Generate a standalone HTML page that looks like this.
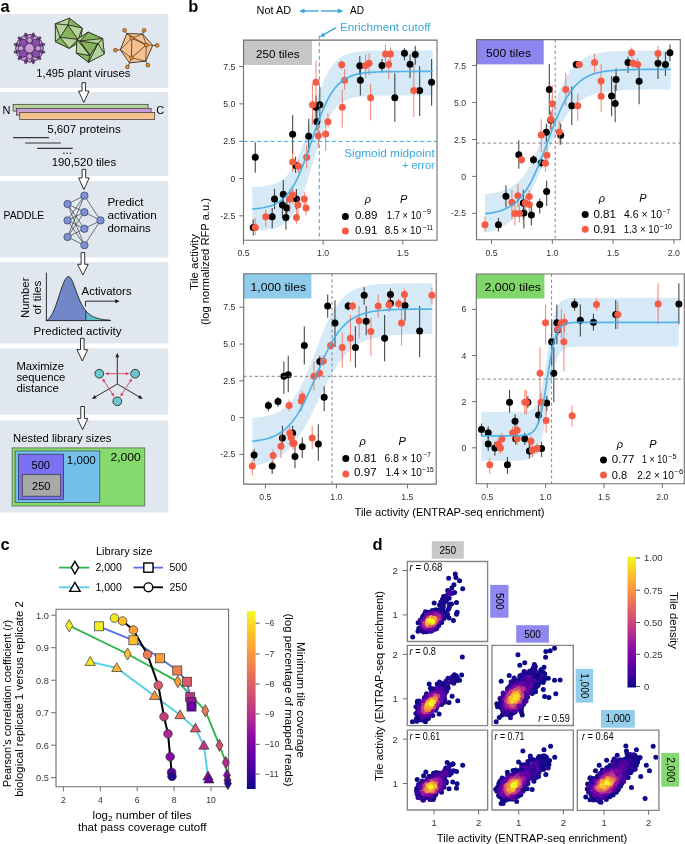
<!DOCTYPE html>
<html><head><meta charset="utf-8"><style>
html,body{margin:0;padding:0;background:#fff;}
body{width:685px;height:844px;overflow:hidden;font-family:"Liberation Sans",sans-serif;}
svg{display:block;will-change:transform;}
</style></head><body>
<svg width="685" height="844" viewBox="0 0 685 844" font-family="Liberation Sans, sans-serif">
<rect x="0.00" y="14.00" width="168.20" height="73.80" fill="#e1e7ef"/>
<rect x="0.00" y="92.00" width="168.20" height="84.00" fill="#e1e7ef"/>
<rect x="0.00" y="181.00" width="168.20" height="76.60" fill="#e1e7ef"/>
<rect x="0.00" y="262.00" width="168.20" height="81.40" fill="#e1e7ef"/>
<rect x="0.00" y="348.30" width="168.20" height="66.30" fill="#e1e7ef"/>
<rect x="0.00" y="420.30" width="168.20" height="92.30" fill="#e1e7ef"/>
<text x="0.60" y="11.80" font-size="16.5" fill="#000" font-weight="bold">a</text>
<circle cx="43.60" cy="52.08" r="1.25" fill="#8d4cb2" stroke="#1e1420" stroke-width="0.5"/>
<circle cx="39.82" cy="58.62" r="1.25" fill="#8d4cb2" stroke="#1e1420" stroke-width="0.5"/>
<circle cx="33.28" cy="62.40" r="1.25" fill="#8d4cb2" stroke="#1e1420" stroke-width="0.5"/>
<circle cx="25.72" cy="62.40" r="1.25" fill="#8d4cb2" stroke="#1e1420" stroke-width="0.5"/>
<circle cx="19.18" cy="58.62" r="1.25" fill="#8d4cb2" stroke="#1e1420" stroke-width="0.5"/>
<circle cx="15.40" cy="52.08" r="1.25" fill="#8d4cb2" stroke="#1e1420" stroke-width="0.5"/>
<circle cx="15.40" cy="44.52" r="1.25" fill="#8d4cb2" stroke="#1e1420" stroke-width="0.5"/>
<circle cx="19.18" cy="37.98" r="1.25" fill="#8d4cb2" stroke="#1e1420" stroke-width="0.5"/>
<circle cx="25.72" cy="34.20" r="1.25" fill="#8d4cb2" stroke="#1e1420" stroke-width="0.5"/>
<circle cx="33.28" cy="34.20" r="1.25" fill="#8d4cb2" stroke="#1e1420" stroke-width="0.5"/>
<circle cx="39.82" cy="37.98" r="1.25" fill="#8d4cb2" stroke="#1e1420" stroke-width="0.5"/>
<circle cx="43.60" cy="44.52" r="1.25" fill="#8d4cb2" stroke="#1e1420" stroke-width="0.5"/>
<circle cx="29.50" cy="48.30" r="13.6" fill="#8d4cb2" stroke="#1e1420" stroke-width="0.8"/>
<circle cx="40.50" cy="48.30" r="2.9" fill="#c59bd8" stroke="#1e1420" stroke-width="0.55"/>
<circle cx="39.03" cy="53.80" r="2.9" fill="#c59bd8" stroke="#1e1420" stroke-width="0.55"/>
<circle cx="35.00" cy="57.83" r="2.9" fill="#c59bd8" stroke="#1e1420" stroke-width="0.55"/>
<circle cx="29.50" cy="59.30" r="2.9" fill="#c59bd8" stroke="#1e1420" stroke-width="0.55"/>
<circle cx="24.00" cy="57.83" r="2.9" fill="#c59bd8" stroke="#1e1420" stroke-width="0.55"/>
<circle cx="19.97" cy="53.80" r="2.9" fill="#c59bd8" stroke="#1e1420" stroke-width="0.55"/>
<circle cx="18.50" cy="48.30" r="2.9" fill="#c59bd8" stroke="#1e1420" stroke-width="0.55"/>
<circle cx="19.97" cy="42.80" r="2.9" fill="#c59bd8" stroke="#1e1420" stroke-width="0.55"/>
<circle cx="24.00" cy="38.77" r="2.9" fill="#c59bd8" stroke="#1e1420" stroke-width="0.55"/>
<circle cx="29.50" cy="37.30" r="2.9" fill="#c59bd8" stroke="#1e1420" stroke-width="0.55"/>
<circle cx="35.00" cy="38.77" r="2.9" fill="#c59bd8" stroke="#1e1420" stroke-width="0.55"/>
<circle cx="39.03" cy="42.80" r="2.9" fill="#c59bd8" stroke="#1e1420" stroke-width="0.55"/>
<circle cx="41.28" cy="51.46" r="1.3" fill="#8d4cb2" stroke="#1e1420" stroke-width="0.45"/>
<circle cx="38.13" cy="56.93" r="1.3" fill="#8d4cb2" stroke="#1e1420" stroke-width="0.45"/>
<circle cx="32.66" cy="60.08" r="1.3" fill="#8d4cb2" stroke="#1e1420" stroke-width="0.45"/>
<circle cx="26.34" cy="60.08" r="1.3" fill="#8d4cb2" stroke="#1e1420" stroke-width="0.45"/>
<circle cx="20.87" cy="56.93" r="1.3" fill="#8d4cb2" stroke="#1e1420" stroke-width="0.45"/>
<circle cx="17.72" cy="51.46" r="1.3" fill="#8d4cb2" stroke="#1e1420" stroke-width="0.45"/>
<circle cx="17.72" cy="45.14" r="1.3" fill="#8d4cb2" stroke="#1e1420" stroke-width="0.45"/>
<circle cx="20.87" cy="39.67" r="1.3" fill="#8d4cb2" stroke="#1e1420" stroke-width="0.45"/>
<circle cx="26.34" cy="36.52" r="1.3" fill="#8d4cb2" stroke="#1e1420" stroke-width="0.45"/>
<circle cx="32.66" cy="36.52" r="1.3" fill="#8d4cb2" stroke="#1e1420" stroke-width="0.45"/>
<circle cx="38.13" cy="39.67" r="1.3" fill="#8d4cb2" stroke="#1e1420" stroke-width="0.45"/>
<circle cx="41.28" cy="45.14" r="1.3" fill="#8d4cb2" stroke="#1e1420" stroke-width="0.45"/>
<circle cx="23.20" cy="43.00" r="3.9" fill="#8d4cb2" stroke="#1e1420" stroke-width="0.55"/>
<circle cx="35.80" cy="43.00" r="3.9" fill="#8d4cb2" stroke="#1e1420" stroke-width="0.55"/>
<circle cx="23.20" cy="53.60" r="3.9" fill="#8d4cb2" stroke="#1e1420" stroke-width="0.55"/>
<circle cx="35.80" cy="53.60" r="3.9" fill="#8d4cb2" stroke="#1e1420" stroke-width="0.55"/>
<circle cx="29.50" cy="40.30" r="2.7" fill="#c59bd8" stroke="#1e1420" stroke-width="0.55"/>
<circle cx="29.50" cy="56.30" r="2.7" fill="#c59bd8" stroke="#1e1420" stroke-width="0.55"/>
<circle cx="20.90" cy="48.30" r="2.7" fill="#c59bd8" stroke="#1e1420" stroke-width="0.55"/>
<circle cx="38.10" cy="48.30" r="2.7" fill="#c59bd8" stroke="#1e1420" stroke-width="0.55"/>
<circle cx="29.50" cy="48.30" r="4.7" fill="#c59bd8" stroke="#1e1420" stroke-width="0.5"/>
<polygon points="69.40,18.30 82.20,28.00 80.50,41.50 69.10,48.30 55.40,41.70 55.40,23.80" fill="#b5d39a" stroke="#1c2416" stroke-width="0.8"/>
<polygon points="68.00,25.10 78.00,39.50 60.10,37.30" fill="#86b45f" stroke="#1c2416" stroke-width="0.7" stroke-linejoin="round"/>
<polygon points="69.40,18.30 82.20,28.00 68.00,25.10" fill="#86b45f" stroke="#1c2416" stroke-width="0.7" stroke-linejoin="round"/>
<polygon points="82.20,28.00 80.50,41.50 78.00,39.50" fill="#b5d39a" stroke="#1c2416" stroke-width="0.7" stroke-linejoin="round"/>
<polygon points="80.50,41.50 69.10,48.30 78.00,39.50" fill="#86b45f" stroke="#1c2416" stroke-width="0.7" stroke-linejoin="round"/>
<polygon points="69.10,48.30 55.40,41.70 60.10,37.30" fill="#86b45f" stroke="#1c2416" stroke-width="0.7" stroke-linejoin="round"/>
<polygon points="55.40,41.70 55.40,23.80 60.10,37.30" fill="#b5d39a" stroke="#1c2416" stroke-width="0.7" stroke-linejoin="round"/>
<polygon points="55.40,23.80 69.40,18.30 68.00,25.10" fill="#b5d39a" stroke="#1c2416" stroke-width="0.7" stroke-linejoin="round"/>
<polygon points="68.00,25.10 82.20,28.00 78.00,39.50" fill="#b5d39a" stroke="#1c2416" stroke-width="0.7" stroke-linejoin="round"/>
<polygon points="78.00,39.50 69.10,48.30 60.10,37.30" fill="#b5d39a" stroke="#1c2416" stroke-width="0.7" stroke-linejoin="round"/>
<polygon points="60.10,37.30 55.40,23.80 68.00,25.10" fill="#b5d39a" stroke="#1c2416" stroke-width="0.7" stroke-linejoin="round"/>
<polygon points="88.10,32.10 102.60,38.60 104.30,54.00 88.50,62.30 76.30,53.10 77.00,39.50" fill="#b5d39a" stroke="#1c2416" stroke-width="0.8"/>
<polygon points="80.00,41.00 98.00,43.50 90.00,55.50" fill="#86b45f" stroke="#1c2416" stroke-width="0.7" stroke-linejoin="round"/>
<polygon points="88.10,32.10 102.60,38.60 80.00,41.00" fill="#86b45f" stroke="#1c2416" stroke-width="0.7" stroke-linejoin="round"/>
<polygon points="102.60,38.60 104.30,54.00 98.00,43.50" fill="#b5d39a" stroke="#1c2416" stroke-width="0.7" stroke-linejoin="round"/>
<polygon points="104.30,54.00 88.50,62.30 98.00,43.50" fill="#b5d39a" stroke="#1c2416" stroke-width="0.7" stroke-linejoin="round"/>
<polygon points="88.50,62.30 76.30,53.10 90.00,55.50" fill="#86b45f" stroke="#1c2416" stroke-width="0.7" stroke-linejoin="round"/>
<polygon points="76.30,53.10 77.00,39.50 90.00,55.50" fill="#b5d39a" stroke="#1c2416" stroke-width="0.7" stroke-linejoin="round"/>
<polygon points="77.00,39.50 88.10,32.10 80.00,41.00" fill="#b5d39a" stroke="#1c2416" stroke-width="0.7" stroke-linejoin="round"/>
<polygon points="80.00,41.00 102.60,38.60 98.00,43.50" fill="#b5d39a" stroke="#1c2416" stroke-width="0.7" stroke-linejoin="round"/>
<polygon points="98.00,43.50 88.50,62.30 90.00,55.50" fill="#b5d39a" stroke="#1c2416" stroke-width="0.7" stroke-linejoin="round"/>
<polygon points="90.00,55.50 77.00,39.50 80.00,41.00" fill="#86b45f" stroke="#1c2416" stroke-width="0.7" stroke-linejoin="round"/>
<line x1="126.80" y1="33.60" x2="124.50" y2="30.30" stroke="#2a1a10" stroke-width="0.7"/>
<line x1="142.60" y1="34.00" x2="144.10" y2="30.30" stroke="#2a1a10" stroke-width="0.7"/>
<line x1="152.70" y1="45.40" x2="157.10" y2="45.40" stroke="#2a1a10" stroke-width="0.7"/>
<line x1="145.70" y1="61.20" x2="147.90" y2="65.10" stroke="#2a1a10" stroke-width="0.7"/>
<line x1="129.50" y1="62.90" x2="127.40" y2="66.90" stroke="#2a1a10" stroke-width="0.7"/>
<line x1="120.30" y1="49.80" x2="115.40" y2="50.20" stroke="#2a1a10" stroke-width="0.7"/>
<polygon points="126.80,33.60 142.60,34.00 152.70,45.40 145.70,61.20 129.50,62.90 120.30,49.80" fill="#f5c28f" stroke="#2a1a10" stroke-width="0.8"/>
<line x1="131.80" y1="38.20" x2="146.30" y2="45.00" stroke="#2a1a10" stroke-width="0.7"/>
<line x1="146.30" y1="45.00" x2="131.50" y2="57.80" stroke="#2a1a10" stroke-width="0.7"/>
<line x1="131.50" y1="57.80" x2="131.80" y2="38.20" stroke="#2a1a10" stroke-width="0.7"/>
<line x1="131.80" y1="38.20" x2="126.80" y2="33.60" stroke="#2a1a10" stroke-width="0.6"/>
<line x1="131.80" y1="38.20" x2="142.60" y2="34.00" stroke="#2a1a10" stroke-width="0.6"/>
<line x1="131.80" y1="38.20" x2="120.30" y2="49.80" stroke="#2a1a10" stroke-width="0.6"/>
<line x1="146.30" y1="45.00" x2="142.60" y2="34.00" stroke="#2a1a10" stroke-width="0.6"/>
<line x1="146.30" y1="45.00" x2="152.70" y2="45.40" stroke="#2a1a10" stroke-width="0.6"/>
<line x1="146.30" y1="45.00" x2="145.70" y2="61.20" stroke="#2a1a10" stroke-width="0.6"/>
<line x1="131.50" y1="57.80" x2="145.70" y2="61.20" stroke="#2a1a10" stroke-width="0.6"/>
<line x1="131.50" y1="57.80" x2="129.50" y2="62.90" stroke="#2a1a10" stroke-width="0.6"/>
<line x1="131.50" y1="57.80" x2="120.30" y2="49.80" stroke="#2a1a10" stroke-width="0.6"/>
<line x1="146.30" y1="45.00" x2="126.80" y2="33.60" stroke="#2a1a10" stroke-width="0.6"/>
<circle cx="131.80" cy="38.20" r="1.9" fill="#ee8a2a" stroke="#2a1a10" stroke-width="0.5"/>
<circle cx="146.30" cy="45.00" r="1.9" fill="#ee8a2a" stroke="#2a1a10" stroke-width="0.5"/>
<circle cx="131.50" cy="57.80" r="1.9" fill="#ee8a2a" stroke="#2a1a10" stroke-width="0.5"/>
<circle cx="124.50" cy="30.30" r="1.9" fill="#ee8a2a" stroke="#2a1a10" stroke-width="0.5"/>
<circle cx="144.10" cy="30.30" r="1.9" fill="#ee8a2a" stroke="#2a1a10" stroke-width="0.5"/>
<circle cx="157.10" cy="45.40" r="1.9" fill="#ee8a2a" stroke="#2a1a10" stroke-width="0.5"/>
<circle cx="147.90" cy="65.10" r="1.9" fill="#ee8a2a" stroke="#2a1a10" stroke-width="0.5"/>
<circle cx="127.40" cy="66.90" r="1.9" fill="#ee8a2a" stroke="#2a1a10" stroke-width="0.5"/>
<circle cx="115.40" cy="50.20" r="1.9" fill="#ee8a2a" stroke="#2a1a10" stroke-width="0.5"/>
<text x="36.30" y="77.30" font-size="11" textLength="94" lengthAdjust="spacingAndGlyphs">1,495 plant viruses</text>
<path d="M82.00,82.70 L85.60,82.70 L85.60,91.00 L89.10,91.00 L83.80,102.40 L78.50,91.00 L82.00,91.00 Z" fill="#fff" stroke="#1a1a1a" stroke-width="0.9" stroke-linejoin="miter"/>
<path d="M82.10,169.40 L85.70,169.40 L85.70,177.90 L89.20,177.90 L83.90,189.60 L78.60,177.90 L82.10,177.90 Z" fill="#fff" stroke="#1a1a1a" stroke-width="0.9" stroke-linejoin="miter"/>
<path d="M81.10,252.60 L84.70,252.60 L84.70,264.30 L88.20,264.30 L82.90,275.00 L77.60,264.30 L81.10,264.30 Z" fill="#fff" stroke="#1a1a1a" stroke-width="0.9" stroke-linejoin="miter"/>
<path d="M80.50,338.30 L84.10,338.30 L84.10,349.70 L87.60,349.70 L82.30,361.00 L77.00,349.70 L80.50,349.70 Z" fill="#fff" stroke="#1a1a1a" stroke-width="0.9" stroke-linejoin="miter"/>
<path d="M80.80,406.50 L84.40,406.50 L84.40,418.40 L87.90,418.40 L82.60,429.60 L77.30,418.40 L80.80,418.40 Z" fill="#fff" stroke="#1a1a1a" stroke-width="0.9" stroke-linejoin="miter"/>
<rect x="13.10" y="104.30" width="135.00" height="6.80" fill="#b8d19b" stroke="#333" stroke-width="0.7"/>
<rect x="16.40" y="108.30" width="134.70" height="6.80" fill="#c79bd4" stroke="#333" stroke-width="0.7"/>
<rect x="19.70" y="112.40" width="135.00" height="7.20" fill="#f3c08e" stroke="#333" stroke-width="0.7"/>
<text x="2.40" y="113.80" font-size="11">N</text>
<text x="156.20" y="114.20" font-size="11">C</text>
<text x="47.20" y="132.50" font-size="11" textLength="73.5" lengthAdjust="spacingAndGlyphs">5,607 proteins</text>
<line x1="13.10" y1="137.60" x2="48.90" y2="137.60" stroke="#333" stroke-width="1.1"/>
<line x1="25.10" y1="143.00" x2="60.90" y2="143.00" stroke="#333" stroke-width="1.1"/>
<line x1="37.20" y1="148.40" x2="72.70" y2="148.40" stroke="#333" stroke-width="1.1"/>
<circle cx="63.90" cy="153.20" r="0.75" fill="#222"/>
<circle cx="67.20" cy="153.20" r="0.75" fill="#222"/>
<circle cx="70.50" cy="153.20" r="0.75" fill="#222"/>
<text x="51.70" y="165.60" font-size="11" textLength="64.4" lengthAdjust="spacingAndGlyphs">190,520 tiles</text>
<line x1="67.50" y1="204.00" x2="84.40" y2="195.60" stroke="#222" stroke-width="0.6"/>
<line x1="67.50" y1="204.00" x2="84.40" y2="212.20" stroke="#222" stroke-width="0.6"/>
<line x1="67.50" y1="204.00" x2="84.40" y2="228.80" stroke="#222" stroke-width="0.6"/>
<line x1="67.50" y1="204.00" x2="84.40" y2="245.20" stroke="#222" stroke-width="0.6"/>
<line x1="67.50" y1="220.40" x2="84.40" y2="195.60" stroke="#222" stroke-width="0.6"/>
<line x1="67.50" y1="220.40" x2="84.40" y2="212.20" stroke="#222" stroke-width="0.6"/>
<line x1="67.50" y1="220.40" x2="84.40" y2="228.80" stroke="#222" stroke-width="0.6"/>
<line x1="67.50" y1="220.40" x2="84.40" y2="245.20" stroke="#222" stroke-width="0.6"/>
<line x1="67.50" y1="237.00" x2="84.40" y2="195.60" stroke="#222" stroke-width="0.6"/>
<line x1="67.50" y1="237.00" x2="84.40" y2="212.20" stroke="#222" stroke-width="0.6"/>
<line x1="67.50" y1="237.00" x2="84.40" y2="228.80" stroke="#222" stroke-width="0.6"/>
<line x1="67.50" y1="237.00" x2="84.40" y2="245.20" stroke="#222" stroke-width="0.6"/>
<line x1="84.40" y1="195.60" x2="100.50" y2="220.40" stroke="#222" stroke-width="0.6"/>
<line x1="84.40" y1="212.20" x2="100.50" y2="220.40" stroke="#222" stroke-width="0.6"/>
<line x1="84.40" y1="228.80" x2="100.50" y2="220.40" stroke="#222" stroke-width="0.6"/>
<line x1="84.40" y1="245.20" x2="100.50" y2="220.40" stroke="#222" stroke-width="0.6"/>
<circle cx="67.50" cy="204.00" r="3.7" fill="#7b93d6" stroke="#2a2a40" stroke-width="0.6"/>
<circle cx="67.50" cy="220.40" r="3.7" fill="#7b93d6" stroke="#2a2a40" stroke-width="0.6"/>
<circle cx="67.50" cy="237.00" r="3.7" fill="#7b93d6" stroke="#2a2a40" stroke-width="0.6"/>
<circle cx="84.40" cy="195.60" r="3.7" fill="#7b93d6" stroke="#2a2a40" stroke-width="0.6"/>
<circle cx="84.40" cy="212.20" r="3.7" fill="#7b93d6" stroke="#2a2a40" stroke-width="0.6"/>
<circle cx="84.40" cy="228.80" r="3.7" fill="#7b93d6" stroke="#2a2a40" stroke-width="0.6"/>
<circle cx="84.40" cy="245.20" r="3.7" fill="#7b93d6" stroke="#2a2a40" stroke-width="0.6"/>
<circle cx="100.50" cy="220.40" r="3.7" fill="#7b93d6" stroke="#2a2a40" stroke-width="0.6"/>
<text x="3.60" y="218.90" font-size="11" textLength="40.6" lengthAdjust="spacingAndGlyphs">PADDLE</text>
<text x="107.40" y="206.00" font-size="11" textLength="36" lengthAdjust="spacingAndGlyphs">Predict</text>
<text x="107.40" y="219.10" font-size="11" textLength="49.4" lengthAdjust="spacingAndGlyphs">activation</text>
<text x="107.40" y="232.00" font-size="11" textLength="43.4" lengthAdjust="spacingAndGlyphs">domains</text>
<path d="M46.6,320.6 L46.60,320.60 L47.14,320.48 L47.68,320.03 L48.21,319.52 L48.75,318.96 L49.29,318.34 L49.83,317.66 L50.36,316.92 L50.90,316.10 L51.44,315.23 L51.98,314.28 L52.52,313.26 L53.05,312.16 L53.59,311.00 L54.13,309.76 L54.67,308.46 L55.21,307.09 L55.74,305.67 L56.28,304.18 L56.82,302.64 L57.36,301.06 L57.89,299.45 L58.43,297.80 L58.97,296.14 L59.51,294.47 L60.05,292.81 L60.58,291.16 L61.12,289.54 L61.66,287.97 L62.20,286.44 L62.73,284.99 L63.27,283.62 L63.81,282.33 L64.35,281.16 L64.89,280.09 L65.42,279.16 L65.96,278.36 L66.50,277.70 L67.04,277.19 L67.57,276.84 L68.11,276.64 L68.65,276.61 L69.19,276.76 L69.73,277.12 L70.26,277.66 L70.80,278.38 L71.34,279.26 L71.88,280.29 L72.42,281.44 L72.95,282.70 L73.49,284.04 L74.03,285.45 L74.57,286.90 L75.10,288.37 L75.64,289.86 L76.18,291.35 L76.72,292.81 L77.26,294.26 L77.79,295.67 L78.33,297.03 L78.87,298.36 L79.41,299.63 L79.94,300.85 L80.48,302.02 L81.02,303.13 L81.56,304.19 L82.10,305.19 L82.63,306.14 L83.17,307.04 L83.71,307.89 L84.25,308.69 L84.78,309.44 L85.32,310.15 L85.86,310.81 L85.9,310.86 L85.9,320.6 Z" fill="#7088c8"/>
<path d="M85.9,320.6 L85.9,310.86 L86.40,311.44 L86.94,312.03 L87.47,312.58 L88.01,313.09 L88.55,313.58 L89.09,314.03 L89.63,314.46 L90.16,314.86 L90.70,315.23 L91.24,315.58 L91.78,315.90 L92.31,316.21 L92.85,316.50 L93.39,316.76 L93.93,317.01 L94.47,317.25 L95.00,317.47 L95.54,317.67 L96.08,317.86 L96.62,318.04 L97.15,318.21 L97.69,318.36 L98.23,318.51 L98.77,318.65 L99.31,318.77 L99.84,318.89 L100.38,319.01 L100.92,319.11 L101.46,319.21 L101.99,319.30 L102.53,319.38 L103.07,319.46 L103.61,319.54 L104.15,319.61 L104.68,319.67 L105.22,319.73 L105.76,319.79 L106.30,319.84 L106.84,319.89 L107.37,319.94 L107.91,319.98 L108.45,320.02 L108.99,320.06 L109.52,320.09 L110.06,320.13 L110.60,320.60 L110.6,320.6 Z" fill="#5bbfcf"/>
<path d="M46.60,320.60 L47.14,320.48 L47.68,320.03 L48.21,319.52 L48.75,318.96 L49.29,318.34 L49.83,317.66 L50.36,316.92 L50.90,316.10 L51.44,315.23 L51.98,314.28 L52.52,313.26 L53.05,312.16 L53.59,311.00 L54.13,309.76 L54.67,308.46 L55.21,307.09 L55.74,305.67 L56.28,304.18 L56.82,302.64 L57.36,301.06 L57.89,299.45 L58.43,297.80 L58.97,296.14 L59.51,294.47 L60.05,292.81 L60.58,291.16 L61.12,289.54 L61.66,287.97 L62.20,286.44 L62.73,284.99 L63.27,283.62 L63.81,282.33 L64.35,281.16 L64.89,280.09 L65.42,279.16 L65.96,278.36 L66.50,277.70 L67.04,277.19 L67.57,276.84 L68.11,276.64 L68.65,276.61 L69.19,276.76 L69.73,277.12 L70.26,277.66 L70.80,278.38 L71.34,279.26 L71.88,280.29 L72.42,281.44 L72.95,282.70 L73.49,284.04 L74.03,285.45 L74.57,286.90 L75.10,288.37 L75.64,289.86 L76.18,291.35 L76.72,292.81 L77.26,294.26 L77.79,295.67 L78.33,297.03 L78.87,298.36 L79.41,299.63 L79.94,300.85 L80.48,302.02 L81.02,303.13 L81.56,304.19 L82.10,305.19 L82.63,306.14 L83.17,307.04 L83.71,307.89 L84.25,308.69 L84.78,309.44 L85.32,310.15 L85.86,310.81 L86.40,311.44 L86.94,312.03 L87.47,312.58 L88.01,313.09 L88.55,313.58 L89.09,314.03 L89.63,314.46 L90.16,314.86 L90.70,315.23 L91.24,315.58 L91.78,315.90 L92.31,316.21 L92.85,316.50 L93.39,316.76 L93.93,317.01 L94.47,317.25 L95.00,317.47 L95.54,317.67 L96.08,317.86 L96.62,318.04 L97.15,318.21 L97.69,318.36 L98.23,318.51 L98.77,318.65 L99.31,318.77 L99.84,318.89 L100.38,319.01 L100.92,319.11 L101.46,319.21 L101.99,319.30 L102.53,319.38 L103.07,319.46 L103.61,319.54 L104.15,319.61 L104.68,319.67 L105.22,319.73 L105.76,319.79 L106.30,319.84 L106.84,319.89 L107.37,319.94 L107.91,319.98 L108.45,320.02 L108.99,320.06 L109.52,320.09 L110.06,320.13 L110.60,320.60" fill="none" stroke="#1a1a1a" stroke-width="0.9"/>
<line x1="85.90" y1="310.86" x2="85.90" y2="320.60" stroke="#1a1a1a" stroke-width="0.8"/>
<line x1="46.40" y1="272.80" x2="46.40" y2="321.10" stroke="#1a1a1a" stroke-width="0.9"/>
<line x1="45.90" y1="320.60" x2="110.60" y2="320.60" stroke="#1a1a1a" stroke-width="0.9"/>
<path d="M85.5,306.5 L85.5,301.2 L116.5,301.2" fill="none" stroke="#1a1a1a" stroke-width="0.9"/>
<polygon points="119.60,301.20 115.20,299.20 115.20,303.20" fill="#1a1a1a"/>
<text x="81.60" y="295.00" font-size="11" textLength="50" lengthAdjust="spacingAndGlyphs">Activators</text>
<text x="33.60" y="334.50" font-size="11" textLength="88" lengthAdjust="spacingAndGlyphs">Predicted activity</text>
<text x="28.60" y="297.80" font-size="11" text-anchor="middle" textLength="40.5" lengthAdjust="spacingAndGlyphs" transform="rotate(-90 28.60 297.80)">Number</text>
<text x="40.60" y="297.50" font-size="11" text-anchor="middle" textLength="34" lengthAdjust="spacingAndGlyphs" transform="rotate(-90 40.60 297.50)">of tiles</text>
<text x="16.40" y="369.60" font-size="11" textLength="47.6" lengthAdjust="spacingAndGlyphs">Maximize</text>
<text x="16.40" y="380.50" font-size="11" textLength="49" lengthAdjust="spacingAndGlyphs">sequence</text>
<text x="16.40" y="391.50" font-size="11" textLength="42.5" lengthAdjust="spacingAndGlyphs">distance</text>
<line x1="117.30" y1="384.00" x2="117.30" y2="356.40" stroke="#1a1a1a" stroke-width="0.9"/>
<polygon points="117.30,352.80 119.20,357.30 115.40,357.30" fill="#1a1a1a"/>
<line x1="117.30" y1="384.00" x2="94.90" y2="397.17" stroke="#1a1a1a" stroke-width="0.9"/>
<polygon points="91.80,399.00 94.72,395.08 96.64,398.36" fill="#1a1a1a"/>
<line x1="117.30" y1="384.00" x2="139.70" y2="397.17" stroke="#1a1a1a" stroke-width="0.9"/>
<polygon points="142.80,399.00 137.96,398.36 139.88,395.08" fill="#1a1a1a"/>
<line x1="107.78" y1="373.70" x2="126.62" y2="373.70" stroke="#d8405f" stroke-width="0.9"/>
<polygon points="129.50,373.70 125.90,375.30 125.90,372.10" fill="#d8405f"/>
<polygon points="104.90,373.70 108.50,375.30 108.50,372.10" fill="#d8405f"/>
<line x1="103.93" y1="380.80" x2="112.67" y2="394.20" stroke="#d8405f" stroke-width="0.9"/>
<polygon points="114.24,396.61 110.93,394.47 113.61,392.72" fill="#d8405f"/>
<polygon points="102.36,378.39 102.99,382.28 105.67,380.53" fill="#d8405f"/>
<line x1="130.50" y1="380.83" x2="121.90" y2="394.17" stroke="#d8405f" stroke-width="0.9"/>
<polygon points="120.34,396.59 120.94,392.70 123.63,394.44" fill="#d8405f"/>
<polygon points="132.06,378.41 128.77,380.56 131.46,382.30" fill="#d8405f"/>
<circle cx="99.30" cy="373.70" r="4.4" fill="#70c4d0" stroke="#1a1a1a" stroke-width="0.8"/>
<circle cx="135.10" cy="373.70" r="4.4" fill="#70c4d0" stroke="#1a1a1a" stroke-width="0.8"/>
<circle cx="117.30" cy="401.30" r="4.4" fill="#70c4d0" stroke="#1a1a1a" stroke-width="0.8"/>
<text x="13.10" y="442.30" font-size="11" textLength="98.4" lengthAdjust="spacingAndGlyphs">Nested library sizes</text>
<rect x="12.10" y="447.90" width="132.70" height="58.10" fill="#86d96c" stroke="#4a5a40" stroke-width="0.7"/>
<rect x="15.20" y="451.00" width="84.60" height="51.50" fill="#73c1eb" stroke="#3a4a5a" stroke-width="0.7"/>
<rect x="18.40" y="454.20" width="45.20" height="45.20" fill="#7a72f0" stroke="#2a2a50" stroke-width="0.7"/>
<rect x="22.30" y="474.70" width="38.40" height="21.50" fill="#a9a9a9" stroke="#333" stroke-width="0.7"/>
<text x="40.70" y="469.10" font-size="11" text-anchor="middle">500</text>
<text x="41.20" y="490.00" font-size="11" text-anchor="middle">250</text>
<text x="66.80" y="464.00" font-size="11" textLength="29" lengthAdjust="spacingAndGlyphs">1,000</text>
<text x="110.40" y="461.00" font-size="11" textLength="30.5" lengthAdjust="spacingAndGlyphs">2,000</text>
<text x="188.20" y="11.80" font-size="16.5" fill="#000" font-weight="bold">b</text>
<g>
<polygon points="252.26,187.01 253.56,186.95 254.86,186.88 256.16,186.80 257.46,186.72 258.75,186.62 260.05,186.50 261.35,186.38 262.65,186.23 263.95,186.07 265.25,185.88 266.54,185.67 267.84,185.44 269.14,185.17 270.44,184.87 271.74,184.53 273.04,184.14 274.34,183.71 275.63,183.22 276.93,182.67 278.23,182.05 279.53,181.35 280.83,180.57 282.13,179.69 283.42,178.71 284.72,177.62 286.02,176.40 287.32,175.05 288.62,173.55 289.92,171.89 291.22,170.06 292.51,168.04 293.81,165.84 295.11,163.44 296.41,160.83 297.71,158.02 299.01,154.99 300.30,151.75 301.60,148.32 302.90,144.69 304.20,140.89 305.50,136.92 306.80,132.83 308.10,128.63 309.39,124.35 310.69,120.02 311.99,115.69 313.29,111.39 314.59,107.14 315.89,102.98 317.18,98.95 318.48,95.05 319.78,91.33 321.08,87.79 322.38,84.44 323.68,81.30 324.98,78.37 326.27,75.65 327.57,73.14 328.87,70.83 330.17,68.72 331.47,66.79 332.77,65.04 334.06,63.45 335.36,62.02 336.66,60.73 337.96,59.57 339.26,58.53 340.56,57.60 341.86,56.77 343.15,56.03 344.45,55.37 345.75,54.78 347.05,54.26 348.35,53.80 349.65,53.39 350.94,53.02 352.24,52.70 353.54,52.41 354.84,52.16 356.14,51.94 357.44,51.74 358.74,51.56 360.03,51.41 361.33,51.27 362.63,51.15 363.93,51.05 365.23,50.95 366.53,50.87 367.83,50.80 369.12,50.73 370.42,50.67 371.72,50.62 373.02,50.58 374.32,50.54 375.62,50.51 376.91,50.48 378.21,50.45 379.51,50.43 380.81,50.41 382.11,50.39 383.41,50.37 384.71,50.36 386.00,50.34 387.30,50.33 388.60,50.32 389.90,50.32 391.20,50.31 392.50,50.30 393.79,50.29 395.09,50.29 396.39,50.29 397.69,50.28 398.99,50.28 400.29,50.27 401.59,50.27 402.88,50.27 404.18,50.27 405.48,50.27 406.78,50.26 408.08,50.26 409.38,50.26 410.67,50.26 411.97,50.26 413.27,50.26 414.57,50.26 415.87,50.26 417.17,50.26 418.47,50.26 419.76,50.25 421.06,50.25 422.36,50.25 423.66,50.25 424.96,50.25 426.26,50.25 427.55,50.25 428.85,50.25 430.15,50.25 431.45,50.25 432.75,50.25 432.75,95.49 431.45,95.49 430.15,95.49 428.85,95.49 427.55,95.49 426.26,95.49 424.96,95.49 423.66,95.49 422.36,95.49 421.06,95.49 419.76,95.49 418.47,95.49 417.17,95.49 415.87,95.49 414.57,95.49 413.27,95.49 411.97,95.50 410.67,95.50 409.38,95.50 408.08,95.50 406.78,95.50 405.48,95.50 404.18,95.50 402.88,95.51 401.59,95.51 400.29,95.51 398.99,95.51 397.69,95.52 396.39,95.52 395.09,95.52 393.79,95.53 392.50,95.53 391.20,95.54 389.90,95.55 388.60,95.56 387.30,95.57 386.00,95.58 384.71,95.59 383.41,95.60 382.11,95.62 380.81,95.64 379.51,95.66 378.21,95.68 376.91,95.71 375.62,95.74 374.32,95.77 373.02,95.81 371.72,95.85 370.42,95.90 369.12,95.96 367.83,96.03 366.53,96.10 365.23,96.19 363.93,96.28 362.63,96.39 361.33,96.52 360.03,96.66 358.74,96.82 357.44,97.00 356.14,97.21 354.84,97.45 353.54,97.72 352.24,98.02 350.94,98.37 349.65,98.76 348.35,99.20 347.05,99.70 345.75,100.27 344.45,100.91 343.15,101.63 341.86,102.44 340.56,103.35 339.26,104.38 337.96,105.53 336.66,106.81 335.36,108.24 334.06,109.82 332.77,111.58 331.47,113.53 330.17,115.67 328.87,118.01 327.57,120.57 326.27,123.34 324.98,126.34 323.68,129.56 322.38,133.00 321.08,136.64 319.78,140.47 318.48,144.47 317.18,148.63 315.89,152.90 314.59,157.25 313.29,161.66 311.99,166.09 310.69,170.49 309.39,174.83 308.10,179.07 306.80,183.19 305.50,187.16 304.20,190.94 302.90,194.54 301.60,197.92 300.30,201.09 299.01,204.03 297.71,206.76 296.41,209.26 295.11,211.56 293.81,213.65 292.51,215.55 291.22,217.26 289.92,218.81 288.62,220.20 287.32,221.45 286.02,222.57 284.72,223.57 283.42,224.45 282.13,225.24 280.83,225.94 279.53,226.56 278.23,227.11 276.93,227.60 275.63,228.03 274.34,228.41 273.04,228.75 271.74,229.04 270.44,229.30 269.14,229.53 267.84,229.73 266.54,229.91 265.25,230.07 263.95,230.21 262.65,230.33 261.35,230.43 260.05,230.53 258.75,230.61 257.46,230.68 256.16,230.75 254.86,230.80 253.56,230.85 252.26,230.89" fill="#d5eaf6"/>
<line x1="255.26" y1="142.19" x2="255.26" y2="172.85" stroke="#2a2a2a" stroke-width="1.1" stroke-opacity="0.85"/>
<line x1="253.22" y1="219.56" x2="253.22" y2="235.62" stroke="#2a2a2a" stroke-width="1.1" stroke-opacity="0.85"/>
<line x1="272.20" y1="207.88" x2="272.20" y2="228.32" stroke="#2a2a2a" stroke-width="1.1" stroke-opacity="0.85"/>
<line x1="274.53" y1="188.91" x2="274.53" y2="209.34" stroke="#2a2a2a" stroke-width="1.1" stroke-opacity="0.85"/>
<line x1="283.29" y1="180.15" x2="283.29" y2="209.34" stroke="#2a2a2a" stroke-width="1.1" stroke-opacity="0.85"/>
<line x1="282.42" y1="191.82" x2="282.42" y2="218.10" stroke="#2a2a2a" stroke-width="1.1" stroke-opacity="0.85"/>
<line x1="286.80" y1="199.12" x2="286.80" y2="218.10" stroke="#2a2a2a" stroke-width="1.1" stroke-opacity="0.85"/>
<line x1="285.92" y1="209.34" x2="285.92" y2="229.78" stroke="#2a2a2a" stroke-width="1.1" stroke-opacity="0.85"/>
<line x1="296.43" y1="188.91" x2="296.43" y2="209.34" stroke="#2a2a2a" stroke-width="1.1" stroke-opacity="0.85"/>
<line x1="292.64" y1="115.33" x2="292.64" y2="153.87" stroke="#2a2a2a" stroke-width="1.1" stroke-opacity="0.85"/>
<line x1="295.55" y1="156.79" x2="295.55" y2="172.85" stroke="#2a2a2a" stroke-width="1.1" stroke-opacity="0.85"/>
<line x1="308.69" y1="118.83" x2="308.69" y2="152.41" stroke="#2a2a2a" stroke-width="1.1" stroke-opacity="0.85"/>
<line x1="315.99" y1="95.47" x2="315.99" y2="118.83" stroke="#2a2a2a" stroke-width="1.1" stroke-opacity="0.85"/>
<line x1="319.79" y1="86.72" x2="319.79" y2="121.75" stroke="#2a2a2a" stroke-width="1.1" stroke-opacity="0.85"/>
<line x1="316.87" y1="110.07" x2="316.87" y2="130.51" stroke="#2a2a2a" stroke-width="1.1" stroke-opacity="0.85"/>
<line x1="359.79" y1="56.06" x2="359.79" y2="75.04" stroke="#2a2a2a" stroke-width="1.1" stroke-opacity="0.85"/>
<line x1="360.37" y1="69.20" x2="360.37" y2="95.47" stroke="#2a2a2a" stroke-width="1.1" stroke-opacity="0.85"/>
<line x1="381.98" y1="58.98" x2="381.98" y2="72.12" stroke="#2a2a2a" stroke-width="1.1" stroke-opacity="0.85"/>
<line x1="394.82" y1="73.58" x2="394.82" y2="121.75" stroke="#2a2a2a" stroke-width="1.1" stroke-opacity="0.85"/>
<line x1="404.46" y1="48.18" x2="404.46" y2="60.44" stroke="#2a2a2a" stroke-width="1.1" stroke-opacity="0.85"/>
<line x1="410.01" y1="54.60" x2="410.01" y2="77.96" stroke="#2a2a2a" stroke-width="1.1" stroke-opacity="0.85"/>
<line x1="415.26" y1="45.84" x2="415.26" y2="64.82" stroke="#2a2a2a" stroke-width="1.1" stroke-opacity="0.85"/>
<line x1="419.64" y1="66.28" x2="419.64" y2="115.91" stroke="#2a2a2a" stroke-width="1.1" stroke-opacity="0.85"/>
<line x1="431.61" y1="58.98" x2="431.61" y2="105.69" stroke="#2a2a2a" stroke-width="1.1" stroke-opacity="0.85"/>
<circle cx="255.26" cy="157.37" r="3.5" fill="#000"/>
<circle cx="253.22" cy="227.45" r="3.5" fill="#000"/>
<circle cx="272.20" cy="216.64" r="3.5" fill="#000"/>
<circle cx="274.53" cy="199.12" r="3.5" fill="#000"/>
<circle cx="283.29" cy="194.16" r="3.5" fill="#000"/>
<circle cx="282.42" cy="204.96" r="3.5" fill="#000"/>
<circle cx="286.80" cy="207.88" r="3.5" fill="#000"/>
<circle cx="285.92" cy="217.52" r="3.5" fill="#000"/>
<circle cx="296.43" cy="199.12" r="3.5" fill="#000"/>
<circle cx="292.64" cy="134.31" r="3.5" fill="#000"/>
<circle cx="295.55" cy="165.55" r="3.5" fill="#000"/>
<circle cx="308.69" cy="136.35" r="3.5" fill="#000"/>
<circle cx="315.99" cy="107.15" r="3.5" fill="#000"/>
<circle cx="319.79" cy="104.82" r="3.5" fill="#000"/>
<circle cx="316.87" cy="121.75" r="3.5" fill="#000"/>
<circle cx="359.79" cy="65.69" r="3.5" fill="#000"/>
<circle cx="360.37" cy="80.29" r="3.5" fill="#000"/>
<circle cx="381.98" cy="65.40" r="3.5" fill="#000"/>
<circle cx="394.82" cy="97.81" r="3.5" fill="#000"/>
<circle cx="404.46" cy="53.14" r="3.5" fill="#000"/>
<circle cx="410.01" cy="64.23" r="3.5" fill="#000"/>
<circle cx="415.26" cy="54.60" r="3.5" fill="#000"/>
<circle cx="419.64" cy="90.51" r="3.5" fill="#000"/>
<circle cx="431.61" cy="82.34" r="3.5" fill="#000"/>
<line x1="255.26" y1="218.10" x2="255.26" y2="235.62" stroke="#f65c45" stroke-width="1.1" stroke-opacity="0.7"/>
<line x1="265.77" y1="209.34" x2="265.77" y2="226.86" stroke="#f65c45" stroke-width="1.1" stroke-opacity="0.7"/>
<line x1="292.64" y1="150.95" x2="292.64" y2="171.39" stroke="#f65c45" stroke-width="1.1" stroke-opacity="0.7"/>
<line x1="298.47" y1="159.71" x2="298.47" y2="172.85" stroke="#f65c45" stroke-width="1.1" stroke-opacity="0.7"/>
<line x1="289.72" y1="188.91" x2="289.72" y2="212.26" stroke="#f65c45" stroke-width="1.1" stroke-opacity="0.7"/>
<line x1="292.64" y1="187.45" x2="292.64" y2="203.50" stroke="#f65c45" stroke-width="1.1" stroke-opacity="0.7"/>
<line x1="296.43" y1="209.34" x2="296.43" y2="223.94" stroke="#f65c45" stroke-width="1.1" stroke-opacity="0.7"/>
<line x1="297.89" y1="197.66" x2="297.89" y2="215.18" stroke="#f65c45" stroke-width="1.1" stroke-opacity="0.7"/>
<line x1="304.31" y1="191.82" x2="304.31" y2="209.34" stroke="#f65c45" stroke-width="1.1" stroke-opacity="0.7"/>
<line x1="306.07" y1="200.58" x2="306.07" y2="215.18" stroke="#f65c45" stroke-width="1.1" stroke-opacity="0.7"/>
<line x1="306.65" y1="145.11" x2="306.65" y2="168.47" stroke="#f65c45" stroke-width="1.1" stroke-opacity="0.7"/>
<line x1="312.49" y1="83.80" x2="312.49" y2="124.67" stroke="#f65c45" stroke-width="1.1" stroke-opacity="0.7"/>
<line x1="315.99" y1="60.44" x2="315.99" y2="107.15" stroke="#f65c45" stroke-width="1.1" stroke-opacity="0.7"/>
<line x1="318.33" y1="124.67" x2="318.33" y2="148.03" stroke="#f65c45" stroke-width="1.1" stroke-opacity="0.7"/>
<line x1="325.63" y1="121.75" x2="325.63" y2="150.95" stroke="#f65c45" stroke-width="1.1" stroke-opacity="0.7"/>
<line x1="327.96" y1="112.99" x2="327.96" y2="127.59" stroke="#f65c45" stroke-width="1.1" stroke-opacity="0.7"/>
<line x1="342.27" y1="89.64" x2="342.27" y2="127.59" stroke="#f65c45" stroke-width="1.1" stroke-opacity="0.7"/>
<line x1="341.69" y1="60.44" x2="341.69" y2="69.20" stroke="#f65c45" stroke-width="1.1" stroke-opacity="0.7"/>
<line x1="344.61" y1="69.20" x2="344.61" y2="89.64" stroke="#f65c45" stroke-width="1.1" stroke-opacity="0.7"/>
<line x1="365.63" y1="54.60" x2="365.63" y2="77.96" stroke="#f65c45" stroke-width="1.1" stroke-opacity="0.7"/>
<line x1="369.13" y1="53.14" x2="369.13" y2="75.04" stroke="#f65c45" stroke-width="1.1" stroke-opacity="0.7"/>
<line x1="370.59" y1="83.80" x2="370.59" y2="120.29" stroke="#f65c45" stroke-width="1.1" stroke-opacity="0.7"/>
<line x1="385.48" y1="44.38" x2="385.48" y2="63.36" stroke="#f65c45" stroke-width="1.1" stroke-opacity="0.7"/>
<line x1="390.45" y1="47.30" x2="390.45" y2="63.36" stroke="#f65c45" stroke-width="1.1" stroke-opacity="0.7"/>
<line x1="413.80" y1="65.69" x2="413.80" y2="117.08" stroke="#f65c45" stroke-width="1.1" stroke-opacity="0.7"/>
<line x1="388.69" y1="59.27" x2="388.69" y2="79.12" stroke="#f65c45" stroke-width="1.1" stroke-opacity="0.7"/>
<circle cx="255.26" cy="227.45" r="3.5" fill="#f65c45"/>
<circle cx="265.77" cy="216.64" r="3.5" fill="#f65c45"/>
<circle cx="292.64" cy="162.04" r="3.5" fill="#f65c45"/>
<circle cx="298.47" cy="166.13" r="3.5" fill="#f65c45"/>
<circle cx="289.72" cy="199.12" r="3.5" fill="#f65c45"/>
<circle cx="292.64" cy="194.74" r="3.5" fill="#f65c45"/>
<circle cx="296.43" cy="217.52" r="3.5" fill="#f65c45"/>
<circle cx="297.89" cy="204.96" r="3.5" fill="#f65c45"/>
<circle cx="304.31" cy="199.12" r="3.5" fill="#f65c45"/>
<circle cx="306.07" cy="207.88" r="3.5" fill="#f65c45"/>
<circle cx="306.65" cy="157.37" r="3.5" fill="#f65c45"/>
<circle cx="312.49" cy="104.82" r="3.5" fill="#f65c45"/>
<circle cx="315.99" cy="82.34" r="3.5" fill="#f65c45"/>
<circle cx="318.33" cy="135.77" r="3.5" fill="#f65c45"/>
<circle cx="325.63" cy="134.01" r="3.5" fill="#f65c45"/>
<circle cx="327.96" cy="121.75" r="3.5" fill="#f65c45"/>
<circle cx="342.27" cy="107.15" r="3.5" fill="#f65c45"/>
<circle cx="341.69" cy="64.82" r="3.5" fill="#f65c45"/>
<circle cx="344.61" cy="80.29" r="3.5" fill="#f65c45"/>
<circle cx="365.63" cy="65.40" r="3.5" fill="#f65c45"/>
<circle cx="369.13" cy="63.36" r="3.5" fill="#f65c45"/>
<circle cx="370.59" cy="97.81" r="3.5" fill="#f65c45"/>
<circle cx="385.48" cy="54.01" r="3.5" fill="#f65c45"/>
<circle cx="390.45" cy="54.01" r="3.5" fill="#f65c45"/>
<circle cx="413.80" cy="90.51" r="3.5" fill="#f65c45"/>
<circle cx="388.69" cy="64.53" r="3.5" fill="#f65c45"/>
<line x1="319.30" y1="35.50" x2="319.30" y2="240.30" stroke="#3aa7db" stroke-width="1.0" stroke-dasharray="4,2.8"/>
<line x1="243.50" y1="141.40" x2="437.00" y2="141.40" stroke="#3aa7db" stroke-width="1.0" stroke-dasharray="4,2.8"/>
<path d="M252.26,208.99 L253.56,208.89 L254.86,208.78 L256.16,208.65 L257.46,208.52 L258.75,208.36 L260.05,208.19 L261.35,207.99 L262.65,207.78 L263.95,207.54 L265.25,207.27 L266.54,206.98 L267.84,206.65 L269.14,206.28 L270.44,205.88 L271.74,205.43 L273.04,204.93 L274.34,204.37 L275.63,203.76 L276.93,203.08 L278.23,202.33 L279.53,201.50 L280.83,200.58 L282.13,199.58 L283.42,198.47 L284.72,197.26 L286.02,195.93 L287.32,194.48 L288.62,192.90 L289.92,191.18 L291.22,189.31 L292.51,187.30 L293.81,185.13 L295.11,182.79 L296.41,180.30 L297.71,177.64 L299.01,174.82 L300.30,171.84 L301.60,168.71 L302.90,165.43 L304.20,162.03 L305.50,158.50 L306.80,154.87 L308.10,151.16 L309.39,147.38 L310.69,143.57 L311.99,139.74 L313.29,135.91 L314.59,132.11 L315.89,128.36 L317.18,124.69 L318.48,121.10 L319.78,117.63 L321.08,114.29 L322.38,111.08 L323.68,108.02 L324.98,105.11 L326.27,102.37 L327.57,99.79 L328.87,97.37 L330.17,95.12 L331.47,93.02 L332.77,91.08 L334.06,89.29 L335.36,87.63 L336.66,86.12 L337.96,84.72 L339.26,83.45 L340.56,82.29 L341.86,81.24 L343.15,80.27 L344.45,79.40 L345.75,78.61 L347.05,77.89 L348.35,77.25 L349.65,76.66 L350.94,76.13 L352.24,75.66 L353.54,75.23 L354.84,74.84 L356.14,74.49 L357.44,74.18 L358.74,73.90 L360.03,73.65 L361.33,73.42 L362.63,73.22 L363.93,73.03 L365.23,72.87 L366.53,72.72 L367.83,72.59 L369.12,72.47 L370.42,72.36 L371.72,72.27 L373.02,72.18 L374.32,72.11 L375.62,72.04 L376.91,71.98 L378.21,71.92 L379.51,71.87 L380.81,71.83 L382.11,71.79 L383.41,71.75 L384.71,71.72 L386.00,71.69 L387.30,71.67 L388.60,71.65 L389.90,71.63 L391.20,71.61 L392.50,71.59 L393.79,71.58 L395.09,71.56 L396.39,71.55 L397.69,71.54 L398.99,71.53 L400.29,71.52 L401.59,71.52 L402.88,71.51 L404.18,71.50 L405.48,71.50 L406.78,71.49 L408.08,71.49 L409.38,71.48 L410.67,71.48 L411.97,71.48 L413.27,71.48 L414.57,71.47 L415.87,71.47 L417.17,71.47 L418.47,71.47 L419.76,71.47 L421.06,71.46 L422.36,71.46 L423.66,71.46 L424.96,71.46 L426.26,71.46 L427.55,71.46 L428.85,71.46 L430.15,71.46 L431.45,71.46 L432.75,71.46" fill="none" stroke="#45ade3" stroke-width="1.7" stroke-linejoin="round" stroke-opacity="0.9"/>
<rect x="243.50" y="40.10" width="68.50" height="24.90" fill="#c6c6c6"/>
<text x="256.00" y="57.60" font-size="11" textLength="43.5" lengthAdjust="spacingAndGlyphs">250 tiles</text>
<path d="M243.5,40.1 L437.0,40.1 L437.0,240.3 L243.5,240.3 Z" fill="none" stroke="#6e6e6e" stroke-width="1.1"/>
<line x1="239.20" y1="66.53" x2="243.50" y2="66.53" stroke="#6e6e6e" stroke-width="1"/>
<text x="235.30" y="69.62" font-size="8.7" text-anchor="end" fill="#333">7.5</text>
<line x1="239.20" y1="103.85" x2="243.50" y2="103.85" stroke="#6e6e6e" stroke-width="1"/>
<text x="235.30" y="106.95" font-size="8.7" text-anchor="end" fill="#333">5.0</text>
<line x1="239.20" y1="141.18" x2="243.50" y2="141.18" stroke="#6e6e6e" stroke-width="1"/>
<text x="235.30" y="144.28" font-size="8.7" text-anchor="end" fill="#333">2.5</text>
<line x1="239.20" y1="178.50" x2="243.50" y2="178.50" stroke="#6e6e6e" stroke-width="1"/>
<text x="235.30" y="181.60" font-size="8.7" text-anchor="end" fill="#333">0</text>
<line x1="239.20" y1="215.82" x2="243.50" y2="215.82" stroke="#6e6e6e" stroke-width="1"/>
<text x="235.30" y="218.92" font-size="8.7" text-anchor="end" fill="#333">-2.5</text>
<line x1="243.50" y1="240.30" x2="243.50" y2="244.60" stroke="#6e6e6e" stroke-width="1"/>
<text x="243.50" y="255.80" font-size="8.7" text-anchor="middle" fill="#333">0.5</text>
<line x1="323.15" y1="240.30" x2="323.15" y2="244.60" stroke="#6e6e6e" stroke-width="1"/>
<text x="323.15" y="255.80" font-size="8.7" text-anchor="middle" fill="#333">1.0</text>
<line x1="402.80" y1="240.30" x2="402.80" y2="244.60" stroke="#6e6e6e" stroke-width="1"/>
<text x="402.80" y="255.80" font-size="8.7" text-anchor="middle" fill="#333">1.5</text>
<text x="368.00" y="202.60" font-size="11" text-anchor="middle" font-style="italic">ρ</text>
<text x="403.60" y="202.60" font-size="11" text-anchor="middle" font-style="italic">P</text>
<circle cx="345.40" cy="216.40" r="3.5" fill="#000"/>
<text x="354.90" y="218.80" font-size="11" textLength="22.6" lengthAdjust="spacingAndGlyphs">0.89</text>
<text x="386.80" y="218.80" font-size="11" textLength="34.4" lengthAdjust="spacingAndGlyphs">1.7 × 10</text>
<text x="423.00" y="214.40" font-size="6.8" textLength="8.0" lengthAdjust="spacingAndGlyphs">−9</text>
<circle cx="345.40" cy="231.00" r="3.5" fill="#f65c45"/>
<text x="354.90" y="233.90" font-size="11" textLength="22.6" lengthAdjust="spacingAndGlyphs">0.91</text>
<text x="384.80" y="233.90" font-size="11" textLength="36.4" lengthAdjust="spacingAndGlyphs">8.5 × 10</text>
<text x="423.00" y="229.50" font-size="6.8" textLength="10.0" lengthAdjust="spacingAndGlyphs">−11</text>
</g>
<g>
<polygon points="485.06,193.94 486.39,193.82 487.73,193.69 489.06,193.54 490.40,193.38 491.73,193.20 493.07,193.00 494.40,192.78 495.74,192.53 497.07,192.26 498.40,191.97 499.74,191.64 501.07,191.27 502.41,190.87 503.74,190.43 505.08,189.94 506.41,189.40 507.75,188.81 509.08,188.16 510.42,187.44 511.75,186.65 513.09,185.79 514.42,184.85 515.76,183.82 517.09,182.69 518.43,181.46 519.76,180.12 521.10,178.66 522.43,177.09 523.77,175.38 525.10,173.55 526.44,171.57 527.77,169.44 529.11,167.17 530.44,164.75 531.78,162.18 533.11,159.46 534.45,156.59 535.78,153.57 537.12,150.42 538.45,147.14 539.79,143.75 541.12,140.25 542.46,136.66 543.79,133.00 545.13,129.28 546.46,125.53 547.80,121.76 549.13,118.00 550.47,114.27 551.80,110.58 553.14,106.95 554.47,103.41 555.81,99.96 557.14,96.63 558.48,93.42 559.81,90.34 561.15,87.41 562.48,84.62 563.82,81.98 565.15,79.49 566.49,77.15 567.82,74.96 569.16,72.91 570.49,71.01 571.83,69.24 573.16,67.61 574.50,66.10 575.83,64.71 577.17,63.43 578.50,62.26 579.84,61.18 581.17,60.20 582.51,59.30 583.84,58.48 585.18,57.73 586.51,57.05 587.85,56.43 589.18,55.87 590.52,55.36 591.85,54.90 593.19,54.48 594.52,54.10 595.86,53.75 597.19,53.44 598.53,53.16 599.86,52.90 601.20,52.67 602.53,52.46 603.87,52.27 605.20,52.10 606.54,51.95 607.87,51.81 609.21,51.69 610.54,51.57 611.88,51.47 613.21,51.38 614.55,51.30 615.88,51.22 617.22,51.15 618.55,51.09 619.89,51.04 621.22,50.99 622.56,50.94 623.89,50.90 625.23,50.87 626.56,50.84 627.90,50.81 629.23,50.78 630.57,50.76 631.90,50.73 633.24,50.71 634.57,50.70 635.91,50.68 637.24,50.67 638.58,50.65 639.91,50.64 641.25,50.63 642.58,50.62 643.92,50.61 645.25,50.61 646.59,50.60 647.92,50.59 649.26,50.59 650.59,50.58 651.93,50.58 653.26,50.57 654.60,50.57 655.93,50.57 657.27,50.56 658.60,50.56 659.94,50.56 661.27,50.56 662.61,50.55 663.94,50.55 665.28,50.55 666.61,50.55 667.95,50.55 669.28,50.55 670.62,50.55 670.62,89.46 669.28,89.47 667.95,89.47 666.61,89.47 665.28,89.48 663.94,89.48 662.61,89.48 661.27,89.49 659.94,89.49 658.60,89.50 657.27,89.50 655.93,89.51 654.60,89.52 653.26,89.53 651.93,89.53 650.59,89.54 649.26,89.55 647.92,89.56 646.59,89.58 645.25,89.59 643.92,89.60 642.58,89.62 641.25,89.64 639.91,89.66 638.58,89.68 637.24,89.70 635.91,89.73 634.57,89.75 633.24,89.78 631.90,89.82 630.57,89.85 629.23,89.89 627.90,89.93 626.56,89.98 625.23,90.03 623.89,90.09 622.56,90.15 621.22,90.22 619.89,90.29 618.55,90.37 617.22,90.46 615.88,90.55 614.55,90.66 613.21,90.77 611.88,90.90 610.54,91.03 609.21,91.18 607.87,91.35 606.54,91.52 605.20,91.72 603.87,91.93 602.53,92.16 601.20,92.41 599.86,92.68 598.53,92.98 597.19,93.31 595.86,93.66 594.52,94.05 593.19,94.47 591.85,94.92 590.52,95.42 589.18,95.96 587.85,96.54 586.51,97.18 585.18,97.86 583.84,98.61 582.51,99.41 581.17,100.28 579.84,101.22 578.50,102.24 577.17,103.33 575.83,104.50 574.50,105.76 573.16,107.11 571.83,108.56 570.49,110.11 569.16,111.75 567.82,113.51 566.49,115.37 565.15,117.35 563.82,119.44 562.48,121.64 561.15,123.96 559.81,126.38 558.48,128.92 557.14,131.57 555.81,134.32 554.47,137.16 553.14,140.09 551.80,143.11 550.47,146.20 549.13,149.35 547.80,152.55 546.46,155.79 545.13,159.05 543.79,162.33 542.46,165.61 541.12,168.88 539.79,172.12 538.45,175.32 537.12,178.47 535.78,181.56 534.45,184.58 533.11,187.51 531.78,190.36 530.44,193.11 529.11,195.75 527.77,198.29 526.44,200.72 525.10,203.04 523.77,205.24 522.43,207.33 521.10,209.31 519.76,211.17 518.43,212.93 517.09,214.58 515.76,216.13 514.42,217.57 513.09,218.93 511.75,220.19 510.42,221.36 509.08,222.45 507.75,223.47 506.41,224.41 505.08,225.28 503.74,226.08 502.41,226.83 501.07,227.52 499.74,228.15 498.40,228.74 497.07,229.27 495.74,229.77 494.40,230.23 493.07,230.65 491.73,231.03 490.40,231.39 489.06,231.71 487.73,232.01 486.39,232.29 485.06,232.54" fill="#d5eaf6"/>
<line x1="498.45" y1="218.09" x2="498.45" y2="231.56" stroke="#2a2a2a" stroke-width="1.1" stroke-opacity="0.85"/>
<line x1="505.93" y1="185.17" x2="505.93" y2="207.61" stroke="#2a2a2a" stroke-width="1.1" stroke-opacity="0.85"/>
<line x1="518.80" y1="140.27" x2="518.80" y2="168.70" stroke="#2a2a2a" stroke-width="1.1" stroke-opacity="0.85"/>
<line x1="523.29" y1="189.66" x2="523.29" y2="219.59" stroke="#2a2a2a" stroke-width="1.1" stroke-opacity="0.85"/>
<line x1="523.89" y1="201.63" x2="523.89" y2="228.57" stroke="#2a2a2a" stroke-width="1.1" stroke-opacity="0.85"/>
<line x1="531.37" y1="206.12" x2="531.37" y2="225.57" stroke="#2a2a2a" stroke-width="1.1" stroke-opacity="0.85"/>
<line x1="533.47" y1="155.23" x2="533.47" y2="164.21" stroke="#2a2a2a" stroke-width="1.1" stroke-opacity="0.85"/>
<line x1="539.75" y1="198.64" x2="539.75" y2="213.60" stroke="#2a2a2a" stroke-width="1.1" stroke-opacity="0.85"/>
<line x1="541.25" y1="158.23" x2="541.25" y2="167.21" stroke="#2a2a2a" stroke-width="1.1" stroke-opacity="0.85"/>
<line x1="546.34" y1="123.81" x2="546.34" y2="141.77" stroke="#2a2a2a" stroke-width="1.1" stroke-opacity="0.85"/>
<line x1="546.64" y1="180.68" x2="546.64" y2="206.12" stroke="#2a2a2a" stroke-width="1.1" stroke-opacity="0.85"/>
<line x1="549.33" y1="63.94" x2="549.33" y2="114.83" stroke="#2a2a2a" stroke-width="1.1" stroke-opacity="0.85"/>
<line x1="550.83" y1="111.83" x2="550.83" y2="129.79" stroke="#2a2a2a" stroke-width="1.1" stroke-opacity="0.85"/>
<line x1="560.71" y1="123.81" x2="560.71" y2="144.76" stroke="#2a2a2a" stroke-width="1.1" stroke-opacity="0.85"/>
<line x1="571.78" y1="86.39" x2="571.78" y2="125.30" stroke="#2a2a2a" stroke-width="1.1" stroke-opacity="0.85"/>
<line x1="576.27" y1="60.95" x2="576.27" y2="68.43" stroke="#2a2a2a" stroke-width="1.1" stroke-opacity="0.85"/>
<line x1="611.59" y1="75.92" x2="611.59" y2="116.32" stroke="#2a2a2a" stroke-width="1.1" stroke-opacity="0.85"/>
<line x1="615.18" y1="84.90" x2="615.18" y2="122.31" stroke="#2a2a2a" stroke-width="1.1" stroke-opacity="0.85"/>
<line x1="616.08" y1="68.43" x2="616.08" y2="90.88" stroke="#2a2a2a" stroke-width="1.1" stroke-opacity="0.85"/>
<line x1="628.05" y1="56.46" x2="628.05" y2="72.92" stroke="#2a2a2a" stroke-width="1.1" stroke-opacity="0.85"/>
<line x1="639.12" y1="63.94" x2="639.12" y2="104.35" stroke="#2a2a2a" stroke-width="1.1" stroke-opacity="0.85"/>
<line x1="657.98" y1="51.97" x2="657.98" y2="78.91" stroke="#2a2a2a" stroke-width="1.1" stroke-opacity="0.85"/>
<line x1="665.46" y1="51.97" x2="665.46" y2="75.92" stroke="#2a2a2a" stroke-width="1.1" stroke-opacity="0.85"/>
<line x1="669.95" y1="44.49" x2="669.95" y2="60.95" stroke="#2a2a2a" stroke-width="1.1" stroke-opacity="0.85"/>
<circle cx="498.45" cy="224.68" r="3.5" fill="#000"/>
<circle cx="505.93" cy="196.24" r="3.5" fill="#000"/>
<circle cx="518.80" cy="154.64" r="3.5" fill="#000"/>
<circle cx="523.29" cy="203.12" r="3.5" fill="#000"/>
<circle cx="523.89" cy="213.00" r="3.5" fill="#000"/>
<circle cx="531.37" cy="215.10" r="3.5" fill="#000"/>
<circle cx="533.47" cy="159.72" r="3.5" fill="#000"/>
<circle cx="539.75" cy="204.62" r="3.5" fill="#000"/>
<circle cx="541.25" cy="162.72" r="3.5" fill="#000"/>
<circle cx="546.34" cy="132.19" r="3.5" fill="#000"/>
<circle cx="546.64" cy="191.45" r="3.5" fill="#000"/>
<circle cx="549.33" cy="89.39" r="3.5" fill="#000"/>
<circle cx="550.83" cy="120.22" r="3.5" fill="#000"/>
<circle cx="560.71" cy="135.18" r="3.5" fill="#000"/>
<circle cx="571.78" cy="105.85" r="3.5" fill="#000"/>
<circle cx="576.27" cy="64.54" r="3.5" fill="#000"/>
<circle cx="611.59" cy="95.97" r="3.5" fill="#000"/>
<circle cx="615.18" cy="103.45" r="3.5" fill="#000"/>
<circle cx="616.08" cy="79.51" r="3.5" fill="#000"/>
<circle cx="628.05" cy="62.45" r="3.5" fill="#000"/>
<circle cx="639.12" cy="81.30" r="3.5" fill="#000"/>
<circle cx="657.98" cy="63.35" r="3.5" fill="#000"/>
<circle cx="665.46" cy="64.54" r="3.5" fill="#000"/>
<circle cx="669.95" cy="52.87" r="3.5" fill="#000"/>
<line x1="484.98" y1="216.59" x2="484.98" y2="231.56" stroke="#f65c45" stroke-width="1.1" stroke-opacity="0.7"/>
<line x1="511.92" y1="189.66" x2="511.92" y2="219.59" stroke="#f65c45" stroke-width="1.1" stroke-opacity="0.7"/>
<line x1="514.91" y1="201.63" x2="514.91" y2="225.57" stroke="#f65c45" stroke-width="1.1" stroke-opacity="0.7"/>
<line x1="517.90" y1="183.67" x2="517.90" y2="207.61" stroke="#f65c45" stroke-width="1.1" stroke-opacity="0.7"/>
<line x1="519.40" y1="204.62" x2="519.40" y2="222.58" stroke="#f65c45" stroke-width="1.1" stroke-opacity="0.7"/>
<line x1="521.50" y1="156.73" x2="521.50" y2="164.21" stroke="#f65c45" stroke-width="1.1" stroke-opacity="0.7"/>
<line x1="525.39" y1="195.64" x2="525.39" y2="210.61" stroke="#f65c45" stroke-width="1.1" stroke-opacity="0.7"/>
<line x1="529.28" y1="189.66" x2="529.28" y2="203.12" stroke="#f65c45" stroke-width="1.1" stroke-opacity="0.7"/>
<line x1="529.28" y1="197.14" x2="529.28" y2="212.10" stroke="#f65c45" stroke-width="1.1" stroke-opacity="0.7"/>
<line x1="541.25" y1="119.32" x2="541.25" y2="152.24" stroke="#f65c45" stroke-width="1.1" stroke-opacity="0.7"/>
<line x1="545.44" y1="155.23" x2="545.44" y2="171.70" stroke="#f65c45" stroke-width="1.1" stroke-opacity="0.7"/>
<line x1="546.94" y1="144.76" x2="546.94" y2="165.71" stroke="#f65c45" stroke-width="1.1" stroke-opacity="0.7"/>
<line x1="550.83" y1="110.34" x2="550.83" y2="129.79" stroke="#f65c45" stroke-width="1.1" stroke-opacity="0.7"/>
<line x1="552.32" y1="84.90" x2="552.32" y2="123.81" stroke="#f65c45" stroke-width="1.1" stroke-opacity="0.7"/>
<line x1="559.21" y1="120.81" x2="559.21" y2="144.76" stroke="#f65c45" stroke-width="1.1" stroke-opacity="0.7"/>
<line x1="565.79" y1="72.92" x2="565.79" y2="105.85" stroke="#f65c45" stroke-width="1.1" stroke-opacity="0.7"/>
<line x1="577.77" y1="93.88" x2="577.77" y2="120.81" stroke="#f65c45" stroke-width="1.1" stroke-opacity="0.7"/>
<line x1="579.26" y1="60.95" x2="579.26" y2="68.43" stroke="#f65c45" stroke-width="1.1" stroke-opacity="0.7"/>
<line x1="594.53" y1="53.47" x2="594.53" y2="72.92" stroke="#f65c45" stroke-width="1.1" stroke-opacity="0.7"/>
<line x1="601.11" y1="63.94" x2="601.11" y2="98.37" stroke="#f65c45" stroke-width="1.1" stroke-opacity="0.7"/>
<line x1="601.11" y1="81.90" x2="601.11" y2="111.83" stroke="#f65c45" stroke-width="1.1" stroke-opacity="0.7"/>
<line x1="631.64" y1="47.48" x2="631.64" y2="57.96" stroke="#f65c45" stroke-width="1.1" stroke-opacity="0.7"/>
<line x1="633.14" y1="57.96" x2="633.14" y2="68.43" stroke="#f65c45" stroke-width="1.1" stroke-opacity="0.7"/>
<line x1="637.63" y1="57.96" x2="637.63" y2="69.93" stroke="#f65c45" stroke-width="1.1" stroke-opacity="0.7"/>
<line x1="657.98" y1="45.99" x2="657.98" y2="60.95" stroke="#f65c45" stroke-width="1.1" stroke-opacity="0.7"/>
<circle cx="484.98" cy="224.68" r="3.5" fill="#f65c45"/>
<circle cx="511.92" cy="202.23" r="3.5" fill="#f65c45"/>
<circle cx="514.91" cy="213.60" r="3.5" fill="#f65c45"/>
<circle cx="517.90" cy="195.64" r="3.5" fill="#f65c45"/>
<circle cx="519.40" cy="213.60" r="3.5" fill="#f65c45"/>
<circle cx="521.50" cy="159.72" r="3.5" fill="#f65c45"/>
<circle cx="525.39" cy="203.12" r="3.5" fill="#f65c45"/>
<circle cx="529.28" cy="196.54" r="3.5" fill="#f65c45"/>
<circle cx="529.28" cy="204.62" r="3.5" fill="#f65c45"/>
<circle cx="541.25" cy="134.88" r="3.5" fill="#f65c45"/>
<circle cx="545.44" cy="163.32" r="3.5" fill="#f65c45"/>
<circle cx="546.94" cy="155.23" r="3.5" fill="#f65c45"/>
<circle cx="550.83" cy="119.32" r="3.5" fill="#f65c45"/>
<circle cx="552.32" cy="103.75" r="3.5" fill="#f65c45"/>
<circle cx="559.21" cy="131.89" r="3.5" fill="#f65c45"/>
<circle cx="565.79" cy="89.39" r="3.5" fill="#f65c45"/>
<circle cx="577.77" cy="105.85" r="3.5" fill="#f65c45"/>
<circle cx="579.26" cy="64.54" r="3.5" fill="#f65c45"/>
<circle cx="594.53" cy="62.45" r="3.5" fill="#f65c45"/>
<circle cx="601.11" cy="81.01" r="3.5" fill="#f65c45"/>
<circle cx="601.11" cy="96.27" r="3.5" fill="#f65c45"/>
<circle cx="631.64" cy="52.87" r="3.5" fill="#f65c45"/>
<circle cx="633.14" cy="63.35" r="3.5" fill="#f65c45"/>
<circle cx="637.63" cy="64.54" r="3.5" fill="#f65c45"/>
<circle cx="657.98" cy="53.47" r="3.5" fill="#f65c45"/>
<line x1="555.20" y1="39.60" x2="555.20" y2="239.70" stroke="#777" stroke-width="0.9" stroke-dasharray="3,2.6"/>
<line x1="476.50" y1="143.10" x2="680.30" y2="143.10" stroke="#777" stroke-width="0.9" stroke-dasharray="3,2.6"/>
<path d="M485.06,213.72 L486.39,213.58 L487.73,213.41 L489.06,213.24 L490.40,213.04 L491.73,212.83 L493.07,212.59 L494.40,212.33 L495.74,212.04 L497.07,211.73 L498.40,211.38 L499.74,211.00 L501.07,210.58 L502.41,210.12 L503.74,209.62 L505.08,209.07 L506.41,208.47 L507.75,207.81 L509.08,207.09 L510.42,206.30 L511.75,205.44 L513.09,204.51 L514.42,203.49 L515.76,202.39 L517.09,201.19 L518.43,199.89 L519.76,198.49 L521.10,196.97 L522.43,195.34 L523.77,193.59 L525.10,191.71 L526.44,189.70 L527.77,187.56 L529.11,185.28 L530.44,182.87 L531.78,180.31 L533.11,177.63 L534.45,174.81 L535.78,171.86 L537.12,168.79 L538.45,165.62 L539.79,162.33 L541.12,158.96 L542.46,155.51 L543.79,152.00 L545.13,148.44 L546.46,144.86 L547.80,141.26 L549.13,137.66 L550.47,134.09 L551.80,130.55 L553.14,127.07 L554.47,123.66 L555.81,120.34 L557.14,117.11 L558.48,113.99 L559.81,110.99 L561.15,108.11 L562.48,105.37 L563.82,102.75 L565.15,100.27 L566.49,97.93 L567.82,95.73 L569.16,93.66 L570.49,91.72 L571.83,89.91 L573.16,88.23 L574.50,86.66 L575.83,85.20 L577.17,83.86 L578.50,82.62 L579.84,81.47 L581.17,80.41 L582.51,79.44 L583.84,78.55 L585.18,77.73 L586.51,76.98 L587.85,76.30 L589.18,75.67 L590.52,75.09 L591.85,74.57 L593.19,74.09 L594.52,73.66 L595.86,73.26 L597.19,72.90 L598.53,72.57 L599.86,72.27 L601.20,72.00 L602.53,71.75 L603.87,71.52 L605.20,71.32 L606.54,71.13 L607.87,70.97 L609.21,70.81 L610.54,70.67 L611.88,70.55 L613.21,70.43 L614.55,70.33 L615.88,70.23 L617.22,70.15 L618.55,70.07 L619.89,70.00 L621.22,69.94 L622.56,69.88 L623.89,69.83 L625.23,69.78 L626.56,69.74 L627.90,69.70 L629.23,69.66 L630.57,69.63 L631.90,69.60 L633.24,69.57 L634.57,69.55 L635.91,69.53 L637.24,69.51 L638.58,69.49 L639.91,69.48 L641.25,69.46 L642.58,69.45 L643.92,69.44 L645.25,69.42 L646.59,69.42 L647.92,69.41 L649.26,69.40 L650.59,69.39 L651.93,69.38 L653.26,69.38 L654.60,69.37 L655.93,69.37 L657.27,69.36 L658.60,69.36 L659.94,69.36 L661.27,69.35 L662.61,69.35 L663.94,69.35 L665.28,69.34 L666.61,69.34 L667.95,69.34 L669.28,69.34 L670.62,69.34" fill="none" stroke="#45ade3" stroke-width="1.7" stroke-linejoin="round" stroke-opacity="0.9"/>
<rect x="476.50" y="39.60" width="67.20" height="24.80" fill="#8d86ee"/>
<text x="486.00" y="57.00" font-size="11" textLength="45.0" lengthAdjust="spacingAndGlyphs">500 tiles</text>
<path d="M476.5,39.6 L680.3,39.6 L680.3,239.7 L476.5,239.7 Z" fill="none" stroke="#6e6e6e" stroke-width="1.1"/>
<line x1="472.20" y1="65.48" x2="476.50" y2="65.48" stroke="#6e6e6e" stroke-width="1"/>
<text x="466.00" y="68.58" font-size="8.7" text-anchor="end" fill="#333">7.5</text>
<line x1="472.20" y1="102.45" x2="476.50" y2="102.45" stroke="#6e6e6e" stroke-width="1"/>
<text x="466.00" y="105.55" font-size="8.7" text-anchor="end" fill="#333">5.0</text>
<line x1="472.20" y1="139.43" x2="476.50" y2="139.43" stroke="#6e6e6e" stroke-width="1"/>
<text x="466.00" y="142.53" font-size="8.7" text-anchor="end" fill="#333">2.5</text>
<line x1="472.20" y1="176.40" x2="476.50" y2="176.40" stroke="#6e6e6e" stroke-width="1"/>
<text x="466.00" y="179.50" font-size="8.7" text-anchor="end" fill="#333">0</text>
<line x1="472.20" y1="213.38" x2="476.50" y2="213.38" stroke="#6e6e6e" stroke-width="1"/>
<text x="466.00" y="216.47" font-size="8.7" text-anchor="end" fill="#333">-2.5</text>
<line x1="491.50" y1="239.70" x2="491.50" y2="244.00" stroke="#6e6e6e" stroke-width="1"/>
<text x="491.50" y="255.80" font-size="8.7" text-anchor="middle" fill="#333">0.5</text>
<line x1="552.30" y1="239.70" x2="552.30" y2="244.00" stroke="#6e6e6e" stroke-width="1"/>
<text x="552.30" y="255.80" font-size="8.7" text-anchor="middle" fill="#333">1.0</text>
<line x1="613.10" y1="239.70" x2="613.10" y2="244.00" stroke="#6e6e6e" stroke-width="1"/>
<text x="613.10" y="255.80" font-size="8.7" text-anchor="middle" fill="#333">1.5</text>
<line x1="673.90" y1="239.70" x2="673.90" y2="244.00" stroke="#6e6e6e" stroke-width="1"/>
<text x="673.90" y="255.80" font-size="8.7" text-anchor="middle" fill="#333">2.0</text>
<text x="601.90" y="201.60" font-size="11" text-anchor="middle" font-style="italic">ρ</text>
<text x="643.00" y="201.60" font-size="11" text-anchor="middle" font-style="italic">P</text>
<circle cx="585.20" cy="214.50" r="3.5" fill="#000"/>
<text x="593.40" y="218.20" font-size="11" textLength="22.6" lengthAdjust="spacingAndGlyphs">0.81</text>
<text x="624.00" y="218.20" font-size="11" textLength="38.0" lengthAdjust="spacingAndGlyphs">4.6 × 10</text>
<text x="662.80" y="213.80" font-size="6.8" textLength="7.4" lengthAdjust="spacingAndGlyphs">−7</text>
<circle cx="585.20" cy="229.20" r="3.5" fill="#f65c45"/>
<text x="593.40" y="233.40" font-size="11" textLength="22.6" lengthAdjust="spacingAndGlyphs">0.91</text>
<text x="623.70" y="233.40" font-size="11" textLength="35.4" lengthAdjust="spacingAndGlyphs">1.3 × 10</text>
<text x="660.00" y="229.00" font-size="6.8" textLength="12.0" lengthAdjust="spacingAndGlyphs">−10</text>
</g>
<g>
<polygon points="252.34,418.06 253.63,417.96 254.92,417.84 256.22,417.71 257.51,417.57 258.81,417.41 260.10,417.24 261.40,417.05 262.69,416.84 263.99,416.61 265.28,416.36 266.57,416.08 267.87,415.77 269.16,415.43 270.46,415.06 271.75,414.65 273.05,414.20 274.34,413.70 275.63,413.16 276.93,412.57 278.22,411.92 279.52,411.21 280.81,410.43 282.11,409.59 283.40,408.66 284.69,407.66 285.99,406.56 287.28,405.38 288.58,404.09 289.87,402.70 291.17,401.21 292.46,399.59 293.76,397.86 295.05,396.00 296.34,394.02 297.64,391.90 298.93,389.66 300.23,387.28 301.52,384.78 302.82,382.14 304.11,379.39 305.40,376.51 306.70,373.53 307.99,370.45 309.29,367.28 310.58,364.03 311.88,360.72 313.17,357.36 314.46,353.97 315.76,350.57 317.05,347.17 318.35,343.79 319.64,340.45 320.94,337.16 322.23,333.94 323.52,330.80 324.82,327.75 326.11,324.81 327.41,321.98 328.70,319.26 330.00,316.68 331.29,314.22 332.59,311.89 333.88,309.69 335.17,307.62 336.47,305.69 337.76,303.87 339.06,302.18 340.35,300.61 341.65,299.15 342.94,297.80 344.23,296.55 345.53,295.40 346.82,294.34 348.12,293.36 349.41,292.47 350.71,291.65 352.00,290.90 353.29,290.21 354.59,289.58 355.88,289.01 357.18,288.48 358.47,288.00 359.77,287.57 361.06,287.17 362.36,286.81 363.65,286.49 364.94,286.19 366.24,285.92 367.53,285.67 368.83,285.45 370.12,285.25 371.42,285.06 372.71,284.90 374.00,284.75 375.30,284.61 376.59,284.48 377.89,284.37 379.18,284.27 380.48,284.18 381.77,284.10 383.06,284.02 384.36,283.95 385.65,283.89 386.95,283.83 388.24,283.78 389.54,283.74 390.83,283.69 392.13,283.66 393.42,283.62 394.71,283.59 396.01,283.56 397.30,283.54 398.60,283.52 399.89,283.49 401.19,283.48 402.48,283.46 403.77,283.44 405.07,283.43 406.36,283.42 407.66,283.41 408.95,283.40 410.25,283.39 411.54,283.38 412.83,283.37 414.13,283.36 415.42,283.36 416.72,283.35 418.01,283.35 419.31,283.34 420.60,283.34 421.90,283.33 423.19,283.33 424.48,283.33 425.78,283.32 427.07,283.32 428.37,283.32 429.66,283.32 430.96,283.32 432.25,283.31 432.25,334.02 430.96,334.03 429.66,334.04 428.37,334.06 427.07,334.07 425.78,334.08 424.48,334.10 423.19,334.11 421.90,334.13 420.60,334.15 419.31,334.17 418.01,334.19 416.72,334.22 415.42,334.24 414.13,334.27 412.83,334.30 411.54,334.34 410.25,334.37 408.95,334.41 407.66,334.45 406.36,334.50 405.07,334.55 403.77,334.60 402.48,334.66 401.19,334.72 399.89,334.79 398.60,334.86 397.30,334.94 396.01,335.02 394.71,335.12 393.42,335.22 392.13,335.32 390.83,335.44 389.54,335.57 388.24,335.70 386.95,335.85 385.65,336.01 384.36,336.18 383.06,336.36 381.77,336.56 380.48,336.77 379.18,337.01 377.89,337.26 376.59,337.53 375.30,337.82 374.00,338.13 372.71,338.47 371.42,338.83 370.12,339.22 368.83,339.64 367.53,340.09 366.24,340.58 364.94,341.10 363.65,341.66 362.36,342.26 361.06,342.90 359.77,343.59 358.47,344.33 357.18,345.12 355.88,345.96 354.59,346.86 353.29,347.82 352.00,348.84 350.71,349.93 349.41,351.08 348.12,352.30 346.82,353.60 345.53,354.97 344.23,356.42 342.94,357.94 341.65,359.55 340.35,361.23 339.06,363.00 337.76,364.85 336.47,366.78 335.17,368.79 333.88,370.87 332.59,373.04 331.29,375.27 330.00,377.57 328.70,379.94 327.41,382.37 326.11,384.85 324.82,387.39 323.52,389.96 322.23,392.56 320.94,395.19 319.64,397.84 318.35,400.50 317.05,403.17 315.76,405.82 314.46,408.46 313.17,411.08 311.88,413.67 310.58,416.21 309.29,418.72 307.99,421.17 306.70,423.56 305.40,425.89 304.11,428.16 302.82,430.35 301.52,432.47 300.23,434.51 298.93,436.47 297.64,438.35 296.34,440.15 295.05,441.87 293.76,443.51 292.46,445.07 291.17,446.55 289.87,447.95 288.58,449.28 287.28,450.53 285.99,451.71 284.69,452.82 283.40,453.87 282.11,454.86 280.81,455.78 279.52,456.64 278.22,457.46 276.93,458.21 275.63,458.92 274.34,459.58 273.05,460.20 271.75,460.78 270.46,461.32 269.16,461.82 267.87,462.28 266.57,462.71 265.28,463.12 263.99,463.49 262.69,463.84 261.40,464.16 260.10,464.46 258.81,464.74 257.51,465.00 256.22,465.24 254.92,465.46 253.63,465.66 252.34,465.85" fill="#d5eaf6"/>
<line x1="254.09" y1="449.18" x2="254.09" y2="460.86" stroke="#2a2a2a" stroke-width="1.1" stroke-opacity="0.85"/>
<line x1="272.20" y1="460.86" x2="272.20" y2="474.00" stroke="#2a2a2a" stroke-width="1.1" stroke-opacity="0.85"/>
<line x1="268.40" y1="401.01" x2="268.40" y2="411.23" stroke="#2a2a2a" stroke-width="1.1" stroke-opacity="0.85"/>
<line x1="278.04" y1="396.63" x2="278.04" y2="406.85" stroke="#2a2a2a" stroke-width="1.1" stroke-opacity="0.85"/>
<line x1="283.88" y1="361.59" x2="283.88" y2="393.71" stroke="#2a2a2a" stroke-width="1.1" stroke-opacity="0.85"/>
<line x1="288.26" y1="355.75" x2="288.26" y2="392.25" stroke="#2a2a2a" stroke-width="1.1" stroke-opacity="0.85"/>
<line x1="282.42" y1="425.82" x2="282.42" y2="449.18" stroke="#2a2a2a" stroke-width="1.1" stroke-opacity="0.85"/>
<line x1="292.64" y1="425.82" x2="292.64" y2="440.42" stroke="#2a2a2a" stroke-width="1.1" stroke-opacity="0.85"/>
<line x1="294.97" y1="446.26" x2="294.97" y2="468.16" stroke="#2a2a2a" stroke-width="1.1" stroke-opacity="0.85"/>
<line x1="302.27" y1="437.50" x2="302.27" y2="457.94" stroke="#2a2a2a" stroke-width="1.1" stroke-opacity="0.85"/>
<line x1="304.31" y1="326.55" x2="304.31" y2="364.51" stroke="#2a2a2a" stroke-width="1.1" stroke-opacity="0.85"/>
<line x1="318.33" y1="424.36" x2="318.33" y2="460.86" stroke="#2a2a2a" stroke-width="1.1" stroke-opacity="0.85"/>
<line x1="319.79" y1="355.75" x2="319.79" y2="367.43" stroke="#2a2a2a" stroke-width="1.1" stroke-opacity="0.85"/>
<line x1="324.17" y1="386.41" x2="324.17" y2="411.23" stroke="#2a2a2a" stroke-width="1.1" stroke-opacity="0.85"/>
<line x1="327.67" y1="294.44" x2="327.67" y2="317.80" stroke="#2a2a2a" stroke-width="1.1" stroke-opacity="0.85"/>
<line x1="334.97" y1="300.28" x2="334.97" y2="346.99" stroke="#2a2a2a" stroke-width="1.1" stroke-opacity="0.85"/>
<line x1="348.11" y1="301.74" x2="348.11" y2="310.50" stroke="#2a2a2a" stroke-width="1.1" stroke-opacity="0.85"/>
<line x1="355.41" y1="326.55" x2="355.41" y2="367.43" stroke="#2a2a2a" stroke-width="1.1" stroke-opacity="0.85"/>
<line x1="364.17" y1="287.14" x2="364.17" y2="304.66" stroke="#2a2a2a" stroke-width="1.1" stroke-opacity="0.85"/>
<line x1="366.21" y1="306.12" x2="366.21" y2="335.31" stroke="#2a2a2a" stroke-width="1.1" stroke-opacity="0.85"/>
<line x1="384.61" y1="314.88" x2="384.61" y2="361.59" stroke="#2a2a2a" stroke-width="1.1" stroke-opacity="0.85"/>
<line x1="390.45" y1="288.60" x2="390.45" y2="306.12" stroke="#2a2a2a" stroke-width="1.1" stroke-opacity="0.85"/>
<line x1="390.45" y1="297.36" x2="390.45" y2="309.04" stroke="#2a2a2a" stroke-width="1.1" stroke-opacity="0.85"/>
<line x1="405.04" y1="294.44" x2="405.04" y2="320.72" stroke="#2a2a2a" stroke-width="1.1" stroke-opacity="0.85"/>
<line x1="419.64" y1="306.12" x2="419.64" y2="357.21" stroke="#2a2a2a" stroke-width="1.1" stroke-opacity="0.85"/>
<circle cx="254.09" cy="455.02" r="3.5" fill="#000"/>
<circle cx="272.20" cy="466.12" r="3.5" fill="#000"/>
<circle cx="268.40" cy="405.39" r="3.5" fill="#000"/>
<circle cx="278.04" cy="401.59" r="3.5" fill="#000"/>
<circle cx="283.88" cy="376.19" r="3.5" fill="#000"/>
<circle cx="288.26" cy="374.73" r="3.5" fill="#000"/>
<circle cx="282.42" cy="438.09" r="3.5" fill="#000"/>
<circle cx="292.64" cy="433.12" r="3.5" fill="#000"/>
<circle cx="294.97" cy="456.48" r="3.5" fill="#000"/>
<circle cx="302.27" cy="446.85" r="3.5" fill="#000"/>
<circle cx="304.31" cy="345.53" r="3.5" fill="#000"/>
<circle cx="318.33" cy="443.93" r="3.5" fill="#000"/>
<circle cx="319.79" cy="361.59" r="3.5" fill="#000"/>
<circle cx="324.17" cy="397.21" r="3.5" fill="#000"/>
<circle cx="327.67" cy="306.12" r="3.5" fill="#000"/>
<circle cx="334.97" cy="323.05" r="3.5" fill="#000"/>
<circle cx="348.11" cy="306.12" r="3.5" fill="#000"/>
<circle cx="355.41" cy="347.58" r="3.5" fill="#000"/>
<circle cx="364.17" cy="295.31" r="3.5" fill="#000"/>
<circle cx="366.21" cy="321.30" r="3.5" fill="#000"/>
<circle cx="384.61" cy="338.23" r="3.5" fill="#000"/>
<circle cx="390.45" cy="294.44" r="3.5" fill="#000"/>
<circle cx="390.45" cy="303.20" r="3.5" fill="#000"/>
<circle cx="405.04" cy="305.53" r="3.5" fill="#000"/>
<circle cx="419.64" cy="330.93" r="3.5" fill="#000"/>
<line x1="252.34" y1="460.86" x2="252.34" y2="475.46" stroke="#f65c45" stroke-width="1.1" stroke-opacity="0.7"/>
<line x1="273.07" y1="449.18" x2="273.07" y2="463.78" stroke="#f65c45" stroke-width="1.1" stroke-opacity="0.7"/>
<line x1="280.96" y1="434.58" x2="280.96" y2="457.94" stroke="#f65c45" stroke-width="1.1" stroke-opacity="0.7"/>
<line x1="289.13" y1="399.55" x2="289.13" y2="411.23" stroke="#f65c45" stroke-width="1.1" stroke-opacity="0.7"/>
<line x1="289.72" y1="425.82" x2="289.72" y2="440.42" stroke="#f65c45" stroke-width="1.1" stroke-opacity="0.7"/>
<line x1="291.18" y1="431.66" x2="291.18" y2="443.34" stroke="#f65c45" stroke-width="1.1" stroke-opacity="0.7"/>
<line x1="292.64" y1="436.04" x2="292.64" y2="449.18" stroke="#f65c45" stroke-width="1.1" stroke-opacity="0.7"/>
<line x1="294.09" y1="437.50" x2="294.09" y2="449.18" stroke="#f65c45" stroke-width="1.1" stroke-opacity="0.7"/>
<line x1="301.39" y1="393.71" x2="301.39" y2="411.23" stroke="#f65c45" stroke-width="1.1" stroke-opacity="0.7"/>
<line x1="302.27" y1="390.79" x2="302.27" y2="402.47" stroke="#f65c45" stroke-width="1.1" stroke-opacity="0.7"/>
<line x1="312.20" y1="425.82" x2="312.20" y2="449.18" stroke="#f65c45" stroke-width="1.1" stroke-opacity="0.7"/>
<line x1="313.95" y1="361.59" x2="313.95" y2="390.79" stroke="#f65c45" stroke-width="1.1" stroke-opacity="0.7"/>
<line x1="319.50" y1="367.43" x2="319.50" y2="379.11" stroke="#f65c45" stroke-width="1.1" stroke-opacity="0.7"/>
<line x1="323.29" y1="355.75" x2="323.29" y2="365.97" stroke="#f65c45" stroke-width="1.1" stroke-opacity="0.7"/>
<line x1="330.59" y1="341.15" x2="330.59" y2="349.91" stroke="#f65c45" stroke-width="1.1" stroke-opacity="0.7"/>
<line x1="342.27" y1="332.39" x2="342.27" y2="367.43" stroke="#f65c45" stroke-width="1.1" stroke-opacity="0.7"/>
<line x1="350.45" y1="314.88" x2="350.45" y2="361.59" stroke="#f65c45" stroke-width="1.1" stroke-opacity="0.7"/>
<line x1="352.49" y1="301.74" x2="352.49" y2="310.50" stroke="#f65c45" stroke-width="1.1" stroke-opacity="0.7"/>
<line x1="359.20" y1="306.12" x2="359.20" y2="338.23" stroke="#f65c45" stroke-width="1.1" stroke-opacity="0.7"/>
<line x1="370.88" y1="317.80" x2="370.88" y2="355.75" stroke="#f65c45" stroke-width="1.1" stroke-opacity="0.7"/>
<line x1="378.18" y1="294.44" x2="378.18" y2="317.80" stroke="#f65c45" stroke-width="1.1" stroke-opacity="0.7"/>
<line x1="388.99" y1="297.36" x2="388.99" y2="311.96" stroke="#f65c45" stroke-width="1.1" stroke-opacity="0.7"/>
<line x1="398.62" y1="298.82" x2="398.62" y2="309.04" stroke="#f65c45" stroke-width="1.1" stroke-opacity="0.7"/>
<line x1="401.54" y1="306.12" x2="401.54" y2="345.53" stroke="#f65c45" stroke-width="1.1" stroke-opacity="0.7"/>
<line x1="404.46" y1="288.60" x2="404.46" y2="303.20" stroke="#f65c45" stroke-width="1.1" stroke-opacity="0.7"/>
<line x1="431.91" y1="287.14" x2="431.91" y2="304.66" stroke="#f65c45" stroke-width="1.1" stroke-opacity="0.7"/>
<circle cx="252.34" cy="466.12" r="3.5" fill="#f65c45"/>
<circle cx="273.07" cy="455.61" r="3.5" fill="#f65c45"/>
<circle cx="280.96" cy="446.26" r="3.5" fill="#f65c45"/>
<circle cx="289.13" cy="405.39" r="3.5" fill="#f65c45"/>
<circle cx="289.72" cy="433.12" r="3.5" fill="#f65c45"/>
<circle cx="291.18" cy="437.50" r="3.5" fill="#f65c45"/>
<circle cx="292.64" cy="443.34" r="3.5" fill="#f65c45"/>
<circle cx="294.09" cy="443.34" r="3.5" fill="#f65c45"/>
<circle cx="301.39" cy="401.01" r="3.5" fill="#f65c45"/>
<circle cx="302.27" cy="396.63" r="3.5" fill="#f65c45"/>
<circle cx="312.20" cy="438.09" r="3.5" fill="#f65c45"/>
<circle cx="313.95" cy="376.19" r="3.5" fill="#f65c45"/>
<circle cx="319.50" cy="373.27" r="3.5" fill="#f65c45"/>
<circle cx="323.29" cy="361.01" r="3.5" fill="#f65c45"/>
<circle cx="330.59" cy="345.53" r="3.5" fill="#f65c45"/>
<circle cx="342.27" cy="347.58" r="3.5" fill="#f65c45"/>
<circle cx="350.45" cy="338.23" r="3.5" fill="#f65c45"/>
<circle cx="352.49" cy="306.12" r="3.5" fill="#f65c45"/>
<circle cx="359.20" cy="320.72" r="3.5" fill="#f65c45"/>
<circle cx="370.88" cy="331.52" r="3.5" fill="#f65c45"/>
<circle cx="378.18" cy="306.12" r="3.5" fill="#f65c45"/>
<circle cx="388.99" cy="304.66" r="3.5" fill="#f65c45"/>
<circle cx="398.62" cy="303.78" r="3.5" fill="#f65c45"/>
<circle cx="401.54" cy="323.05" r="3.5" fill="#f65c45"/>
<circle cx="404.46" cy="294.44" r="3.5" fill="#f65c45"/>
<circle cx="431.91" cy="295.31" r="3.5" fill="#f65c45"/>
<line x1="332.00" y1="273.70" x2="332.00" y2="484.10" stroke="#777" stroke-width="0.9" stroke-dasharray="3,2.6"/>
<line x1="243.70" y1="376.30" x2="436.20" y2="376.30" stroke="#777" stroke-width="0.9" stroke-dasharray="3,2.6"/>
<path d="M252.34,441.27 L253.63,441.13 L254.92,440.98 L256.22,440.81 L257.51,440.63 L258.81,440.43 L260.10,440.21 L261.40,439.97 L262.69,439.71 L263.99,439.43 L265.28,439.12 L266.57,438.79 L267.87,438.42 L269.16,438.02 L270.46,437.59 L271.75,437.11 L273.05,436.60 L274.34,436.04 L275.63,435.44 L276.93,434.78 L278.22,434.07 L279.52,433.30 L280.81,432.47 L282.11,431.57 L283.40,430.60 L284.69,429.55 L285.99,428.43 L287.28,427.22 L288.58,425.92 L289.87,424.53 L291.17,423.05 L292.46,421.47 L293.76,419.79 L295.05,418.00 L296.34,416.11 L297.64,414.11 L298.93,412.01 L300.23,409.79 L301.52,407.48 L302.82,405.06 L304.11,402.55 L305.40,399.94 L306.70,397.24 L307.99,394.47 L309.29,391.62 L310.58,388.71 L311.88,385.75 L313.17,382.76 L314.46,379.73 L315.76,376.69 L317.05,373.64 L318.35,370.60 L319.64,367.59 L320.94,364.61 L322.23,361.67 L323.52,358.79 L324.82,355.98 L326.11,353.24 L327.41,350.59 L328.70,348.02 L330.00,345.55 L331.29,343.19 L332.59,340.92 L333.88,338.76 L335.17,336.71 L336.47,334.76 L337.76,332.92 L339.06,331.18 L340.35,329.55 L341.65,328.02 L342.94,326.58 L344.23,325.24 L345.53,323.98 L346.82,322.82 L348.12,321.73 L349.41,320.72 L350.71,319.79 L352.00,318.92 L353.29,318.12 L354.59,317.37 L355.88,316.69 L357.18,316.06 L358.47,315.48 L359.77,314.94 L361.06,314.45 L362.36,313.99 L363.65,313.58 L364.94,313.19 L366.24,312.84 L367.53,312.52 L368.83,312.22 L370.12,311.95 L371.42,311.70 L372.71,311.48 L374.00,311.27 L375.30,311.08 L376.59,310.90 L377.89,310.74 L379.18,310.59 L380.48,310.46 L381.77,310.34 L383.06,310.23 L384.36,310.12 L385.65,310.03 L386.95,309.94 L388.24,309.87 L389.54,309.79 L390.83,309.73 L392.13,309.67 L393.42,309.61 L394.71,309.56 L396.01,309.52 L397.30,309.48 L398.60,309.44 L399.89,309.41 L401.19,309.37 L402.48,309.34 L403.77,309.32 L405.07,309.29 L406.36,309.27 L407.66,309.25 L408.95,309.23 L410.25,309.22 L411.54,309.20 L412.83,309.19 L414.13,309.17 L415.42,309.16 L416.72,309.15 L418.01,309.14 L419.31,309.13 L420.60,309.13 L421.90,309.12 L423.19,309.11 L424.48,309.10 L425.78,309.10 L427.07,309.09 L428.37,309.09 L429.66,309.09 L430.96,309.08 L432.25,309.08" fill="none" stroke="#45ade3" stroke-width="1.7" stroke-linejoin="round" stroke-opacity="0.9"/>
<rect x="243.70" y="273.70" width="67.70" height="24.80" fill="#8fcbea"/>
<text x="250.60" y="290.60" font-size="11" textLength="55.5" lengthAdjust="spacingAndGlyphs">1,000 tiles</text>
<path d="M243.7,273.7 L436.2,273.7 L436.2,484.1 L243.7,484.1 Z" fill="none" stroke="#6e6e6e" stroke-width="1.1"/>
<line x1="239.40" y1="307.28" x2="243.70" y2="307.28" stroke="#6e6e6e" stroke-width="1"/>
<text x="235.30" y="310.38" font-size="8.7" text-anchor="end" fill="#333">7.5</text>
<line x1="239.40" y1="344.05" x2="243.70" y2="344.05" stroke="#6e6e6e" stroke-width="1"/>
<text x="235.30" y="347.15" font-size="8.7" text-anchor="end" fill="#333">5.0</text>
<line x1="239.40" y1="380.83" x2="243.70" y2="380.83" stroke="#6e6e6e" stroke-width="1"/>
<text x="235.30" y="383.93" font-size="8.7" text-anchor="end" fill="#333">2.5</text>
<line x1="239.40" y1="417.60" x2="243.70" y2="417.60" stroke="#6e6e6e" stroke-width="1"/>
<text x="235.30" y="420.70" font-size="8.7" text-anchor="end" fill="#333">0</text>
<line x1="239.40" y1="454.38" x2="243.70" y2="454.38" stroke="#6e6e6e" stroke-width="1"/>
<text x="235.30" y="457.48" font-size="8.7" text-anchor="end" fill="#333">-2.5</text>
<line x1="265.40" y1="484.10" x2="265.40" y2="488.40" stroke="#6e6e6e" stroke-width="1"/>
<text x="265.40" y="500.20" font-size="8.7" text-anchor="middle" fill="#333">0.5</text>
<line x1="336.40" y1="484.10" x2="336.40" y2="488.40" stroke="#6e6e6e" stroke-width="1"/>
<text x="336.40" y="500.20" font-size="8.7" text-anchor="middle" fill="#333">1.0</text>
<line x1="407.40" y1="484.10" x2="407.40" y2="488.40" stroke="#6e6e6e" stroke-width="1"/>
<text x="407.40" y="500.20" font-size="8.7" text-anchor="middle" fill="#333">1.5</text>
<text x="362.70" y="444.60" font-size="11" text-anchor="middle" font-style="italic">ρ</text>
<text x="402.10" y="444.60" font-size="11" text-anchor="middle" font-style="italic">P</text>
<circle cx="345.80" cy="458.50" r="3.5" fill="#000"/>
<text x="354.00" y="461.80" font-size="11" textLength="22.6" lengthAdjust="spacingAndGlyphs">0.81</text>
<text x="384.60" y="461.80" font-size="11" textLength="37.3" lengthAdjust="spacingAndGlyphs">6.8 × 10</text>
<text x="423.40" y="457.40" font-size="6.8" textLength="7.4" lengthAdjust="spacingAndGlyphs">−7</text>
<circle cx="345.80" cy="474.00" r="3.5" fill="#f65c45"/>
<text x="354.00" y="476.30" font-size="11" textLength="22.6" lengthAdjust="spacingAndGlyphs">0.97</text>
<text x="385.40" y="476.30" font-size="11" textLength="36.5" lengthAdjust="spacingAndGlyphs">1.4 × 10</text>
<text x="422.30" y="471.90" font-size="6.8" textLength="11.3" lengthAdjust="spacingAndGlyphs">−15</text>
</g>
<g>
<polygon points="481.47,411.81 482.88,411.81 484.30,411.81 485.72,411.81 487.14,411.81 488.56,411.81 489.98,411.81 491.40,411.81 492.82,411.81 494.23,411.81 495.65,411.81 497.07,411.81 498.49,411.81 499.91,411.81 501.33,411.81 502.75,411.81 504.17,411.81 505.59,411.81 507.00,411.81 508.42,411.80 509.84,411.80 511.26,411.80 512.68,411.79 514.10,411.78 515.52,411.77 516.94,411.75 518.36,411.72 519.77,411.68 521.19,411.63 522.61,411.56 524.03,411.45 525.45,411.30 526.87,411.08 528.29,410.77 529.71,410.34 531.13,409.73 532.54,408.88 533.96,407.68 535.38,406.03 536.80,403.75 538.22,400.68 539.64,396.60 541.06,391.33 542.48,384.73 543.90,376.80 545.31,367.72 546.73,357.90 548.15,347.89 549.57,338.30 550.99,329.63 552.41,322.20 553.83,316.13 555.25,311.34 556.67,307.67 558.08,304.94 559.50,302.92 560.92,301.46 562.34,300.41 563.76,299.66 565.18,299.13 566.60,298.75 568.02,298.48 569.43,298.29 570.85,298.16 572.27,298.07 573.69,298.00 575.11,297.95 576.53,297.92 577.95,297.90 579.37,297.88 580.79,297.87 582.20,297.86 583.62,297.86 585.04,297.85 586.46,297.85 587.88,297.85 589.30,297.85 590.72,297.85 592.14,297.85 593.56,297.85 594.97,297.85 596.39,297.85 597.81,297.85 599.23,297.85 600.65,297.85 602.07,297.85 603.49,297.85 604.91,297.85 606.33,297.85 607.74,297.85 609.16,297.85 610.58,297.85 612.00,297.85 613.42,297.85 614.84,297.85 616.26,297.85 617.68,297.85 619.10,297.85 620.51,297.85 621.93,297.85 623.35,297.85 624.77,297.85 626.19,297.85 627.61,297.85 629.03,297.85 630.45,297.85 631.87,297.85 633.28,297.85 634.70,297.85 636.12,297.85 637.54,297.85 638.96,297.85 640.38,297.85 641.80,297.85 643.22,297.85 644.64,297.85 646.05,297.85 647.47,297.85 648.89,297.85 650.31,297.85 651.73,297.85 653.15,297.85 654.57,297.85 655.99,297.85 657.40,297.85 658.82,297.85 660.24,297.85 661.66,297.85 663.08,297.85 664.50,297.85 665.92,297.85 667.34,297.85 668.76,297.85 670.17,297.85 671.59,297.85 673.01,297.85 674.43,297.85 675.85,297.85 677.27,297.85 678.69,297.85 678.69,346.52 677.27,346.52 675.85,346.52 674.43,346.52 673.01,346.52 671.59,346.52 670.17,346.52 668.76,346.52 667.34,346.52 665.92,346.52 664.50,346.52 663.08,346.52 661.66,346.52 660.24,346.52 658.82,346.52 657.40,346.52 655.99,346.52 654.57,346.52 653.15,346.52 651.73,346.52 650.31,346.52 648.89,346.52 647.47,346.52 646.05,346.52 644.64,346.52 643.22,346.52 641.80,346.52 640.38,346.52 638.96,346.52 637.54,346.52 636.12,346.52 634.70,346.52 633.28,346.52 631.87,346.52 630.45,346.52 629.03,346.52 627.61,346.52 626.19,346.52 624.77,346.52 623.35,346.52 621.93,346.52 620.51,346.52 619.10,346.52 617.68,346.52 616.26,346.52 614.84,346.52 613.42,346.52 612.00,346.52 610.58,346.52 609.16,346.52 607.74,346.52 606.33,346.52 604.91,346.52 603.49,346.52 602.07,346.52 600.65,346.52 599.23,346.52 597.81,346.52 596.39,346.52 594.97,346.52 593.56,346.53 592.14,346.53 590.72,346.53 589.30,346.53 587.88,346.53 586.46,346.54 585.04,346.54 583.62,346.55 582.20,346.56 580.79,346.58 579.37,346.60 577.95,346.63 576.53,346.68 575.11,346.74 573.69,346.82 572.27,346.94 570.85,347.09 569.43,347.32 568.02,347.62 566.60,348.04 565.18,348.62 563.76,349.42 562.34,350.50 560.92,351.97 559.50,353.95 558.08,356.59 556.67,360.03 555.25,364.46 553.83,370.00 552.41,376.71 550.99,384.53 549.57,393.26 548.15,402.51 546.73,411.83 545.31,420.72 543.90,428.78 542.48,435.76 541.06,441.58 539.64,446.25 538.22,449.92 536.80,452.73 535.38,454.85 533.96,456.43 532.54,457.60 531.13,458.45 529.71,459.08 528.29,459.53 526.87,459.86 525.45,460.10 524.03,460.27 522.61,460.40 521.19,460.49 519.77,460.55 518.36,460.60 516.94,460.63 515.52,460.66 514.10,460.67 512.68,460.69 511.26,460.70 509.84,460.70 508.42,460.71 507.00,460.71 505.59,460.71 504.17,460.71 502.75,460.72 501.33,460.72 499.91,460.72 498.49,460.72 497.07,460.72 495.65,460.72 494.23,460.72 492.82,460.72 491.40,460.72 489.98,460.72 488.56,460.72 487.14,460.72 485.72,460.72 484.30,460.72 482.88,460.72 481.47,460.72" fill="#d5eaf6"/>
<line x1="481.49" y1="423.48" x2="481.49" y2="435.68" stroke="#2a2a2a" stroke-width="1.1" stroke-opacity="0.85"/>
<line x1="488.20" y1="426.53" x2="488.20" y2="438.73" stroke="#2a2a2a" stroke-width="1.1" stroke-opacity="0.85"/>
<line x1="488.20" y1="437.21" x2="488.20" y2="450.94" stroke="#2a2a2a" stroke-width="1.1" stroke-opacity="0.85"/>
<line x1="494.91" y1="441.79" x2="494.91" y2="455.51" stroke="#2a2a2a" stroke-width="1.1" stroke-opacity="0.85"/>
<line x1="507.42" y1="457.04" x2="507.42" y2="473.82" stroke="#2a2a2a" stroke-width="1.1" stroke-opacity="0.85"/>
<line x1="509.56" y1="389.92" x2="509.56" y2="412.80" stroke="#2a2a2a" stroke-width="1.1" stroke-opacity="0.85"/>
<line x1="515.05" y1="414.33" x2="515.05" y2="429.58" stroke="#2a2a2a" stroke-width="1.1" stroke-opacity="0.85"/>
<line x1="515.66" y1="432.63" x2="515.66" y2="444.84" stroke="#2a2a2a" stroke-width="1.1" stroke-opacity="0.85"/>
<line x1="524.81" y1="432.63" x2="524.81" y2="444.84" stroke="#2a2a2a" stroke-width="1.1" stroke-opacity="0.85"/>
<line x1="527.86" y1="396.03" x2="527.86" y2="408.23" stroke="#2a2a2a" stroke-width="1.1" stroke-opacity="0.85"/>
<line x1="529.39" y1="443.31" x2="529.39" y2="458.56" stroke="#2a2a2a" stroke-width="1.1" stroke-opacity="0.85"/>
<line x1="538.54" y1="405.18" x2="538.54" y2="423.48" stroke="#2a2a2a" stroke-width="1.1" stroke-opacity="0.85"/>
<line x1="541.59" y1="441.79" x2="541.59" y2="457.04" stroke="#2a2a2a" stroke-width="1.1" stroke-opacity="0.85"/>
<line x1="546.77" y1="396.03" x2="546.77" y2="411.28" stroke="#2a2a2a" stroke-width="1.1" stroke-opacity="0.85"/>
<line x1="551.66" y1="319.76" x2="551.66" y2="365.52" stroke="#2a2a2a" stroke-width="1.1" stroke-opacity="0.85"/>
<line x1="553.79" y1="347.22" x2="553.79" y2="402.13" stroke="#2a2a2a" stroke-width="1.1" stroke-opacity="0.85"/>
<line x1="556.84" y1="304.51" x2="556.84" y2="344.16" stroke="#2a2a2a" stroke-width="1.1" stroke-opacity="0.85"/>
<line x1="557.76" y1="322.81" x2="557.76" y2="335.01" stroke="#2a2a2a" stroke-width="1.1" stroke-opacity="0.85"/>
<line x1="574.54" y1="298.41" x2="574.54" y2="310.61" stroke="#2a2a2a" stroke-width="1.1" stroke-opacity="0.85"/>
<line x1="580.33" y1="304.51" x2="580.33" y2="336.54" stroke="#2a2a2a" stroke-width="1.1" stroke-opacity="0.85"/>
<line x1="593.45" y1="313.66" x2="593.45" y2="330.44" stroke="#2a2a2a" stroke-width="1.1" stroke-opacity="0.85"/>
<line x1="615.72" y1="299.93" x2="615.72" y2="328.91" stroke="#2a2a2a" stroke-width="1.1" stroke-opacity="0.85"/>
<line x1="678.87" y1="283.15" x2="678.87" y2="324.34" stroke="#2a2a2a" stroke-width="1.1" stroke-opacity="0.85"/>
<circle cx="481.49" cy="429.58" r="3.5" fill="#000"/>
<circle cx="488.20" cy="432.63" r="3.5" fill="#000"/>
<circle cx="488.20" cy="443.92" r="3.5" fill="#000"/>
<circle cx="494.91" cy="447.89" r="3.5" fill="#000"/>
<circle cx="507.42" cy="464.67" r="3.5" fill="#000"/>
<circle cx="509.56" cy="402.13" r="3.5" fill="#000"/>
<circle cx="515.05" cy="421.35" r="3.5" fill="#000"/>
<circle cx="515.66" cy="438.73" r="3.5" fill="#000"/>
<circle cx="524.81" cy="438.73" r="3.5" fill="#000"/>
<circle cx="527.86" cy="402.13" r="3.5" fill="#000"/>
<circle cx="529.39" cy="450.94" r="3.5" fill="#000"/>
<circle cx="538.54" cy="414.94" r="3.5" fill="#000"/>
<circle cx="541.59" cy="448.50" r="3.5" fill="#000"/>
<circle cx="546.77" cy="403.04" r="3.5" fill="#000"/>
<circle cx="551.66" cy="341.72" r="3.5" fill="#000"/>
<circle cx="553.79" cy="373.15" r="3.5" fill="#000"/>
<circle cx="556.84" cy="322.81" r="3.5" fill="#000"/>
<circle cx="557.76" cy="329.83" r="3.5" fill="#000"/>
<circle cx="574.54" cy="304.51" r="3.5" fill="#000"/>
<circle cx="580.33" cy="320.37" r="3.5" fill="#000"/>
<circle cx="593.45" cy="322.20" r="3.5" fill="#000"/>
<circle cx="615.72" cy="314.57" r="3.5" fill="#000"/>
<circle cx="678.87" cy="303.90" r="3.5" fill="#000"/>
<line x1="489.73" y1="458.56" x2="489.73" y2="473.82" stroke="#f65c45" stroke-width="1.1" stroke-opacity="0.7"/>
<line x1="497.96" y1="438.73" x2="497.96" y2="450.94" stroke="#f65c45" stroke-width="1.1" stroke-opacity="0.7"/>
<line x1="500.41" y1="441.79" x2="500.41" y2="453.99" stroke="#f65c45" stroke-width="1.1" stroke-opacity="0.7"/>
<line x1="501.93" y1="432.63" x2="501.93" y2="444.84" stroke="#f65c45" stroke-width="1.1" stroke-opacity="0.7"/>
<line x1="512.61" y1="426.53" x2="512.61" y2="438.73" stroke="#f65c45" stroke-width="1.1" stroke-opacity="0.7"/>
<line x1="517.18" y1="423.48" x2="517.18" y2="438.73" stroke="#f65c45" stroke-width="1.1" stroke-opacity="0.7"/>
<line x1="517.18" y1="432.63" x2="517.18" y2="444.84" stroke="#f65c45" stroke-width="1.1" stroke-opacity="0.7"/>
<line x1="524.81" y1="389.92" x2="524.81" y2="414.33" stroke="#f65c45" stroke-width="1.1" stroke-opacity="0.7"/>
<line x1="526.34" y1="389.92" x2="526.34" y2="414.33" stroke="#f65c45" stroke-width="1.1" stroke-opacity="0.7"/>
<line x1="530.91" y1="435.68" x2="530.91" y2="447.89" stroke="#f65c45" stroke-width="1.1" stroke-opacity="0.7"/>
<line x1="532.44" y1="444.84" x2="532.44" y2="457.04" stroke="#f65c45" stroke-width="1.1" stroke-opacity="0.7"/>
<line x1="537.01" y1="443.31" x2="537.01" y2="453.99" stroke="#f65c45" stroke-width="1.1" stroke-opacity="0.7"/>
<line x1="540.06" y1="347.22" x2="540.06" y2="399.08" stroke="#f65c45" stroke-width="1.1" stroke-opacity="0.7"/>
<line x1="540.98" y1="392.97" x2="540.98" y2="411.28" stroke="#f65c45" stroke-width="1.1" stroke-opacity="0.7"/>
<line x1="545.55" y1="304.51" x2="545.55" y2="344.16" stroke="#f65c45" stroke-width="1.1" stroke-opacity="0.7"/>
<line x1="546.16" y1="408.23" x2="546.16" y2="432.63" stroke="#f65c45" stroke-width="1.1" stroke-opacity="0.7"/>
<line x1="557.76" y1="322.81" x2="557.76" y2="335.01" stroke="#f65c45" stroke-width="1.1" stroke-opacity="0.7"/>
<line x1="561.42" y1="309.08" x2="561.42" y2="338.06" stroke="#f65c45" stroke-width="1.1" stroke-opacity="0.7"/>
<line x1="564.47" y1="313.66" x2="564.47" y2="331.96" stroke="#f65c45" stroke-width="1.1" stroke-opacity="0.7"/>
<line x1="563.86" y1="325.86" x2="563.86" y2="371.62" stroke="#f65c45" stroke-width="1.1" stroke-opacity="0.7"/>
<line x1="572.10" y1="405.18" x2="572.10" y2="426.53" stroke="#f65c45" stroke-width="1.1" stroke-opacity="0.7"/>
<line x1="596.50" y1="298.41" x2="596.50" y2="310.61" stroke="#f65c45" stroke-width="1.1" stroke-opacity="0.7"/>
<line x1="617.85" y1="301.46" x2="617.85" y2="328.91" stroke="#f65c45" stroke-width="1.1" stroke-opacity="0.7"/>
<line x1="658.12" y1="283.15" x2="658.12" y2="324.34" stroke="#f65c45" stroke-width="1.1" stroke-opacity="0.7"/>
<circle cx="489.73" cy="464.67" r="3.5" fill="#f65c45"/>
<circle cx="497.96" cy="444.23" r="3.5" fill="#f65c45"/>
<circle cx="500.41" cy="447.89" r="3.5" fill="#f65c45"/>
<circle cx="501.93" cy="438.73" r="3.5" fill="#f65c45"/>
<circle cx="512.61" cy="432.63" r="3.5" fill="#f65c45"/>
<circle cx="517.18" cy="430.19" r="3.5" fill="#f65c45"/>
<circle cx="517.18" cy="438.73" r="3.5" fill="#f65c45"/>
<circle cx="524.81" cy="402.13" r="3.5" fill="#f65c45"/>
<circle cx="526.34" cy="402.13" r="3.5" fill="#f65c45"/>
<circle cx="530.91" cy="441.18" r="3.5" fill="#f65c45"/>
<circle cx="532.44" cy="450.33" r="3.5" fill="#f65c45"/>
<circle cx="537.01" cy="448.50" r="3.5" fill="#f65c45"/>
<circle cx="540.06" cy="373.15" r="3.5" fill="#f65c45"/>
<circle cx="540.98" cy="402.13" r="3.5" fill="#f65c45"/>
<circle cx="545.55" cy="322.81" r="3.5" fill="#f65c45"/>
<circle cx="546.16" cy="420.43" r="3.5" fill="#f65c45"/>
<circle cx="557.76" cy="328.91" r="3.5" fill="#f65c45"/>
<circle cx="561.42" cy="322.81" r="3.5" fill="#f65c45"/>
<circle cx="564.47" cy="322.20" r="3.5" fill="#f65c45"/>
<circle cx="563.86" cy="341.72" r="3.5" fill="#f65c45"/>
<circle cx="572.10" cy="415.85" r="3.5" fill="#f65c45"/>
<circle cx="596.50" cy="304.51" r="3.5" fill="#f65c45"/>
<circle cx="617.85" cy="314.57" r="3.5" fill="#f65c45"/>
<circle cx="658.12" cy="303.90" r="3.5" fill="#f65c45"/>
<line x1="551.60" y1="274.00" x2="551.60" y2="483.80" stroke="#777" stroke-width="0.9" stroke-dasharray="3,2.6"/>
<line x1="476.30" y1="379.10" x2="684.30" y2="379.10" stroke="#777" stroke-width="0.9" stroke-dasharray="3,2.6"/>
<path d="M481.47,435.80 L482.88,435.80 L484.30,435.80 L485.72,435.80 L487.14,435.80 L488.56,435.80 L489.98,435.80 L491.40,435.80 L492.82,435.80 L494.23,435.80 L495.65,435.80 L497.07,435.80 L498.49,435.80 L499.91,435.80 L501.33,435.80 L502.75,435.80 L504.17,435.80 L505.59,435.80 L507.00,435.79 L508.42,435.79 L509.84,435.78 L511.26,435.78 L512.68,435.76 L514.10,435.75 L515.52,435.73 L516.94,435.70 L518.36,435.66 L519.77,435.60 L521.19,435.53 L522.61,435.42 L524.03,435.27 L525.45,435.06 L526.87,434.78 L528.29,434.38 L529.71,433.84 L531.13,433.10 L532.54,432.08 L533.96,430.70 L535.38,428.83 L536.80,426.35 L538.22,423.09 L539.64,418.88 L541.06,413.59 L542.48,407.14 L543.90,399.56 L545.31,391.03 L546.73,381.90 L548.15,372.61 L549.57,363.67 L550.99,355.47 L552.41,348.32 L553.83,342.32 L555.25,337.47 L556.67,333.65 L558.08,330.71 L559.50,328.48 L560.92,326.82 L562.34,325.59 L563.76,324.69 L565.18,324.03 L566.60,323.55 L568.02,323.20 L569.43,322.95 L570.85,322.77 L572.27,322.64 L573.69,322.54 L575.11,322.48 L576.53,322.43 L577.95,322.39 L579.37,322.37 L580.79,322.35 L582.20,322.33 L583.62,322.32 L585.04,322.32 L586.46,322.31 L587.88,322.31 L589.30,322.31 L590.72,322.30 L592.14,322.30 L593.56,322.30 L594.97,322.30 L596.39,322.30 L597.81,322.30 L599.23,322.30 L600.65,322.30 L602.07,322.30 L603.49,322.30 L604.91,322.30 L606.33,322.30 L607.74,322.30 L609.16,322.30 L610.58,322.30 L612.00,322.30 L613.42,322.30 L614.84,322.30 L616.26,322.30 L617.68,322.30 L619.10,322.30 L620.51,322.30 L621.93,322.30 L623.35,322.30 L624.77,322.30 L626.19,322.30 L627.61,322.30 L629.03,322.30 L630.45,322.30 L631.87,322.30 L633.28,322.30 L634.70,322.30 L636.12,322.30 L637.54,322.30 L638.96,322.30 L640.38,322.30 L641.80,322.30 L643.22,322.30 L644.64,322.30 L646.05,322.30 L647.47,322.30 L648.89,322.30 L650.31,322.30 L651.73,322.30 L653.15,322.30 L654.57,322.30 L655.99,322.30 L657.40,322.30 L658.82,322.30 L660.24,322.30 L661.66,322.30 L663.08,322.30 L664.50,322.30 L665.92,322.30 L667.34,322.30 L668.76,322.30 L670.17,322.30 L671.59,322.30 L673.01,322.30 L674.43,322.30 L675.85,322.30 L677.27,322.30 L678.69,322.30" fill="none" stroke="#45ade3" stroke-width="1.7" stroke-linejoin="round" stroke-opacity="0.9"/>
<rect x="476.30" y="274.00" width="68.10" height="24.50" fill="#80d66a"/>
<text x="484.50" y="290.60" font-size="11" textLength="56.5" lengthAdjust="spacingAndGlyphs">2,000 tiles</text>
<path d="M476.3,274.0 L684.3,274.0 L684.3,483.8 L476.3,483.8 Z" fill="none" stroke="#6e6e6e" stroke-width="1.1"/>
<line x1="472.00" y1="309.38" x2="476.30" y2="309.38" stroke="#6e6e6e" stroke-width="1"/>
<text x="466.40" y="312.48" font-size="8.7" text-anchor="end" fill="#333">6</text>
<line x1="472.00" y1="355.52" x2="476.30" y2="355.52" stroke="#6e6e6e" stroke-width="1"/>
<text x="466.40" y="358.62" font-size="8.7" text-anchor="end" fill="#333">4</text>
<line x1="472.00" y1="401.66" x2="476.30" y2="401.66" stroke="#6e6e6e" stroke-width="1"/>
<text x="466.40" y="404.76" font-size="8.7" text-anchor="end" fill="#333">2</text>
<line x1="472.00" y1="447.80" x2="476.30" y2="447.80" stroke="#6e6e6e" stroke-width="1"/>
<text x="466.40" y="450.90" font-size="8.7" text-anchor="end" fill="#333">0</text>
<line x1="487.30" y1="483.80" x2="487.30" y2="488.10" stroke="#6e6e6e" stroke-width="1"/>
<text x="487.30" y="500.20" font-size="8.7" text-anchor="middle" fill="#333">0.5</text>
<line x1="545.65" y1="483.80" x2="545.65" y2="488.10" stroke="#6e6e6e" stroke-width="1"/>
<text x="545.65" y="500.20" font-size="8.7" text-anchor="middle" fill="#333">1.0</text>
<line x1="604.00" y1="483.80" x2="604.00" y2="488.10" stroke="#6e6e6e" stroke-width="1"/>
<text x="604.00" y="500.20" font-size="8.7" text-anchor="middle" fill="#333">1.5</text>
<line x1="662.35" y1="483.80" x2="662.35" y2="488.10" stroke="#6e6e6e" stroke-width="1"/>
<text x="662.35" y="500.20" font-size="8.7" text-anchor="middle" fill="#333">2.0</text>
<text x="620.00" y="448.10" font-size="11" text-anchor="middle" font-style="italic">ρ</text>
<text x="653.00" y="448.00" font-size="11" text-anchor="middle" font-style="italic">P</text>
<circle cx="603.50" cy="460.00" r="3.5" fill="#000"/>
<text x="611.80" y="463.40" font-size="11" textLength="22.6" lengthAdjust="spacingAndGlyphs">0.77</text>
<text x="642.00" y="463.40" font-size="11" textLength="25.3" lengthAdjust="spacingAndGlyphs">1 × 10</text>
<text x="668.30" y="459.00" font-size="6.8" textLength="8.3" lengthAdjust="spacingAndGlyphs">−5</text>
<circle cx="603.50" cy="475.10" r="3.5" fill="#f65c45"/>
<text x="611.80" y="478.50" font-size="11">0.8</text>
<text x="637.20" y="478.50" font-size="11" textLength="36.6" lengthAdjust="spacingAndGlyphs">2.2 × 10</text>
<text x="674.60" y="474.10" font-size="6.8" textLength="8.6" lengthAdjust="spacingAndGlyphs">−6</text>
</g>
<text x="256.60" y="14.30" font-size="10.8" textLength="34.7" lengthAdjust="spacingAndGlyphs">Not AD</text>
<text x="350.00" y="14.10" font-size="10.8" textLength="14" lengthAdjust="spacingAndGlyphs">AD</text>
<line x1="318.60" y1="11.00" x2="303.40" y2="11.00" stroke="#3aa7db" stroke-width="1.4"/>
<polygon points="299.00,11.00 304.50,8.60 304.50,13.40" fill="#3aa7db"/>
<line x1="321.00" y1="11.00" x2="339.00" y2="11.00" stroke="#3aa7db" stroke-width="1.4"/>
<polygon points="343.40,11.00 337.90,13.40 337.90,8.60" fill="#3aa7db"/>
<line x1="336.00" y1="27.70" x2="323.28" y2="34.92" stroke="#3aa7db" stroke-width="1.4"/>
<polygon points="319.80,36.90 323.01,32.43 325.28,36.43" fill="#3aa7db"/>
<text x="340.00" y="30.50" font-size="11" fill="#3aa7db" textLength="90.4" lengthAdjust="spacingAndGlyphs">Enrichment cutoff</text>
<text x="434.70" y="156.60" font-size="11" text-anchor="end" fill="#3aa7db" textLength="90.5" lengthAdjust="spacingAndGlyphs">Sigmoid midpoint</text>
<text x="434.70" y="169.40" font-size="11" text-anchor="end" fill="#3aa7db" textLength="32.7" lengthAdjust="spacingAndGlyphs">+ error</text>
<text x="198.30" y="262.00" font-size="10.8" text-anchor="middle" textLength="56" lengthAdjust="spacingAndGlyphs" transform="rotate(-90 198.30 262.00)">Tile activity</text>
<text x="209.30" y="261.50" font-size="10.8" text-anchor="middle" textLength="127" lengthAdjust="spacingAndGlyphs" transform="rotate(-90 209.30 261.50)">(log normalized RFP a.u.)</text>
<text x="354.50" y="516.30" font-size="10.8" textLength="190" lengthAdjust="spacingAndGlyphs">Tile activity (ENTRAP-seq enrichment)</text>
<text x="0.60" y="550.00" font-size="16.5" fill="#000" font-weight="bold">c</text>
<text x="95.90" y="555.00" font-size="10.5" textLength="56.5" lengthAdjust="spacingAndGlyphs">Library size</text>
<line x1="59.00" y1="567.60" x2="89.30" y2="567.60" stroke="#2fb54c" stroke-width="1.8"/>
<polygon points="74.90,561.40 78.50,567.60 74.90,573.80 71.30,567.60" fill="#fff" stroke="#000" stroke-width="1.4"/>
<text x="95.40" y="571.00" font-size="10.5" textLength="26.5" lengthAdjust="spacingAndGlyphs">2,000</text>
<line x1="133.50" y1="567.60" x2="163.00" y2="567.60" stroke="#5b6fe6" stroke-width="1.8"/>
<rect x="143.80" y="563.00" width="9.20" height="9.20" fill="#fff" stroke="#000" stroke-width="1.4"/>
<text x="169.50" y="571.00" font-size="10.5">500</text>
<line x1="59.00" y1="587.30" x2="89.30" y2="587.30" stroke="#52cde6" stroke-width="1.8"/>
<polygon points="74.90,582.40 80.10,591.40 69.70,591.40" fill="#fff" stroke="#000" stroke-width="1.4"/>
<text x="95.40" y="590.80" font-size="10.5" textLength="26.5" lengthAdjust="spacingAndGlyphs">1,000</text>
<line x1="133.50" y1="587.30" x2="163.00" y2="587.30" stroke="#000" stroke-width="1.8"/>
<circle cx="148.40" cy="587.30" r="4.4" fill="#fff" stroke="#000" stroke-width="1.4"/>
<text x="169.50" y="590.80" font-size="10.5">250</text>
<line x1="51.00" y1="615.20" x2="56.00" y2="615.20" stroke="#6e6e6e" stroke-width="1"/>
<text x="48.80" y="618.80" font-size="9.2" text-anchor="end" fill="#333">1.0</text>
<line x1="51.00" y1="647.70" x2="56.00" y2="647.70" stroke="#6e6e6e" stroke-width="1"/>
<text x="48.80" y="651.30" font-size="9.2" text-anchor="end" fill="#333">0.9</text>
<line x1="51.00" y1="680.20" x2="56.00" y2="680.20" stroke="#6e6e6e" stroke-width="1"/>
<text x="48.80" y="683.80" font-size="9.2" text-anchor="end" fill="#333">0.8</text>
<line x1="51.00" y1="712.70" x2="56.00" y2="712.70" stroke="#6e6e6e" stroke-width="1"/>
<text x="48.80" y="716.30" font-size="9.2" text-anchor="end" fill="#333">0.7</text>
<line x1="51.00" y1="745.20" x2="56.00" y2="745.20" stroke="#6e6e6e" stroke-width="1"/>
<text x="48.80" y="748.80" font-size="9.2" text-anchor="end" fill="#333">0.6</text>
<line x1="51.00" y1="777.70" x2="56.00" y2="777.70" stroke="#6e6e6e" stroke-width="1"/>
<text x="48.80" y="781.30" font-size="9.2" text-anchor="end" fill="#333">0.5</text>
<line x1="63.40" y1="786.80" x2="63.40" y2="791.30" stroke="#6e6e6e" stroke-width="1"/>
<text x="63.40" y="803.40" font-size="8.7" text-anchor="middle" fill="#333">2</text>
<line x1="100.30" y1="786.80" x2="100.30" y2="791.30" stroke="#6e6e6e" stroke-width="1"/>
<text x="100.30" y="803.40" font-size="8.7" text-anchor="middle" fill="#333">4</text>
<line x1="137.20" y1="786.80" x2="137.20" y2="791.30" stroke="#6e6e6e" stroke-width="1"/>
<text x="137.20" y="803.40" font-size="8.7" text-anchor="middle" fill="#333">6</text>
<line x1="174.10" y1="786.80" x2="174.10" y2="791.30" stroke="#6e6e6e" stroke-width="1"/>
<text x="174.10" y="803.40" font-size="8.7" text-anchor="middle" fill="#333">8</text>
<line x1="211.00" y1="786.80" x2="211.00" y2="791.30" stroke="#6e6e6e" stroke-width="1"/>
<text x="211.00" y="803.40" font-size="8.7" text-anchor="middle" fill="#333">10</text>
<path d="M56.0,609.3 L228.6,609.3 L228.6,786.8 L56.0,786.8 Z" fill="none" stroke="#6e6e6e" stroke-width="1.1"/>
<path d="M69.2,625.7 L127.6,654.0 L177.8,681.7 L205.3,710.7 L219.5,745.3 L225.8,762.5 L227.0,775.3 L227.5,780.3 L227.9,783.5" fill="none" stroke="#2fb54c" stroke-width="1.9" stroke-linejoin="round"/>
<path d="M90.2,661.9 L116.8,668.0 L154.6,695.9 L180.0,715.1 L195.4,728.4 L203.9,745.6 L208.0,776.4 L208.9,779.4" fill="none" stroke="#52cde6" stroke-width="1.9" stroke-linejoin="round"/>
<path d="M99.0,626.3 L133.4,640.3 L160.1,658.3 L177.3,670.5 L187.0,681.7 L190.2,697.2 L191.5,702.1 L191.5,706.6" fill="none" stroke="#5b6fe6" stroke-width="1.9" stroke-linejoin="round"/>
<path d="M114.5,618.1 L122.6,621.0 L133.4,630.0 L147.5,654.6 L158.3,685.3 L164.0,716.7 L168.0,733.8 L170.2,756.7 L171.6,772.3 L172.0,776.4" fill="none" stroke="#000" stroke-width="2.0" stroke-linejoin="round"/>
<polygon points="69.20,619.62 72.73,625.70 69.20,631.78 65.67,625.70" fill="#f4ec22" stroke="#333" stroke-width="0.7"/>
<polygon points="127.60,647.92 131.13,654.00 127.60,660.08 124.07,654.00" fill="#fcbe2c" stroke="#333" stroke-width="0.7"/>
<polygon points="177.80,675.62 181.33,681.70 177.80,687.78 174.27,681.70" fill="#fa9f3a" stroke="#333" stroke-width="0.7"/>
<polygon points="205.30,704.62 208.83,710.70 205.30,716.78 201.77,710.70" fill="#eb7754" stroke="#333" stroke-width="0.7"/>
<polygon points="219.50,739.22 223.03,745.30 219.50,751.38 215.97,745.30" fill="#d04d74" stroke="#333" stroke-width="0.7"/>
<polygon points="225.80,756.42 229.33,762.50 225.80,768.58 222.27,762.50" fill="#b12a90" stroke="#333" stroke-width="0.7"/>
<polygon points="227.00,769.22 230.53,775.30 227.00,781.38 223.47,775.30" fill="#880aa5" stroke="#333" stroke-width="0.7"/>
<polygon points="227.50,774.22 231.03,780.30 227.50,786.38 223.97,780.30" fill="#5a02a4" stroke="#333" stroke-width="0.7"/>
<polygon points="227.90,777.42 231.43,783.50 227.90,789.58 224.37,783.50" fill="#270692" stroke="#333" stroke-width="0.7"/>
<polygon points="90.20,656.61 95.30,665.43 85.10,665.43" fill="#f5e823" stroke="#333" stroke-width="0.7"/>
<polygon points="116.80,662.71 121.90,671.53 111.70,671.53" fill="#fcb62f" stroke="#333" stroke-width="0.7"/>
<polygon points="154.60,690.61 159.70,699.43 149.50,699.43" fill="#f8983e" stroke="#333" stroke-width="0.7"/>
<polygon points="180.00,709.81 185.10,718.63 174.90,718.63" fill="#eb7754" stroke="#333" stroke-width="0.7"/>
<polygon points="195.40,723.11 200.50,731.93 190.30,731.93" fill="#d9586b" stroke="#333" stroke-width="0.7"/>
<polygon points="203.90,740.31 209.00,749.13 198.80,749.13" fill="#be3884" stroke="#333" stroke-width="0.7"/>
<polygon points="208.00,771.11 213.10,779.93 202.90,779.93" fill="#8f0da4" stroke="#333" stroke-width="0.7"/>
<polygon points="208.90,774.11 214.00,782.93 203.80,782.93" fill="#6201a6" stroke="#333" stroke-width="0.7"/>
<rect x="94.49" y="621.79" width="9.02" height="9.02" fill="#f4ec22" stroke="#333" stroke-width="0.7"/>
<rect x="128.89" y="635.79" width="9.02" height="9.02" fill="#fcbe2c" stroke="#333" stroke-width="0.7"/>
<rect x="155.59" y="653.79" width="9.02" height="9.02" fill="#fa9f3a" stroke="#333" stroke-width="0.7"/>
<rect x="172.79" y="665.99" width="9.02" height="9.02" fill="#ef7e50" stroke="#333" stroke-width="0.7"/>
<rect x="182.49" y="677.19" width="9.02" height="9.02" fill="#d9586b" stroke="#333" stroke-width="0.7"/>
<rect x="185.69" y="692.69" width="9.02" height="9.02" fill="#bc3686" stroke="#333" stroke-width="0.7"/>
<rect x="186.99" y="697.59" width="9.02" height="9.02" fill="#9613a0" stroke="#333" stroke-width="0.7"/>
<rect x="186.99" y="702.09" width="9.02" height="9.02" fill="#6a00a8" stroke="#333" stroke-width="0.7"/>
<circle cx="114.50" cy="618.10" r="4.312" fill="#f5e823" stroke="#333" stroke-width="0.7"/>
<circle cx="122.60" cy="621.00" r="4.312" fill="#fcbe2c" stroke="#333" stroke-width="0.7"/>
<circle cx="133.40" cy="630.00" r="4.312" fill="#fa9f3a" stroke="#333" stroke-width="0.7"/>
<circle cx="147.50" cy="654.60" r="4.312" fill="#ef7e50" stroke="#333" stroke-width="0.7"/>
<circle cx="158.30" cy="685.30" r="4.312" fill="#d9586b" stroke="#333" stroke-width="0.7"/>
<circle cx="164.00" cy="716.70" r="4.312" fill="#c43e7f" stroke="#333" stroke-width="0.7"/>
<circle cx="168.00" cy="733.80" r="4.312" fill="#aa2494" stroke="#333" stroke-width="0.7"/>
<circle cx="170.20" cy="756.70" r="4.312" fill="#8409a5" stroke="#333" stroke-width="0.7"/>
<circle cx="171.60" cy="772.30" r="4.312" fill="#5602a2" stroke="#333" stroke-width="0.7"/>
<circle cx="172.00" cy="776.40" r="4.312" fill="#270692" stroke="#333" stroke-width="0.7"/>
<text x="11.00" y="703.60" font-size="10.5" text-anchor="middle" textLength="167.5" lengthAdjust="spacingAndGlyphs" transform="rotate(-90 11.00 703.60)">Pearson’s correlation coefficient (<tspan font-style="italic">r</tspan>)</text>
<text x="23.00" y="699.00" font-size="10.5" text-anchor="middle" textLength="195.5" lengthAdjust="spacingAndGlyphs" transform="rotate(-90 23.00 699.00)">biological replicate 1 versus replicate 2</text>
<text x="92.6" y="818.8" font-size="10.5" textLength="99" lengthAdjust="spacingAndGlyphs">log<tspan font-size="7.5" dy="2.5">2</tspan><tspan dy="-2.5"> number of tiles</tspan></text>
<text x="78.00" y="830.50" font-size="10.5" textLength="128.4" lengthAdjust="spacingAndGlyphs">that pass coverage cutoff</text>
<defs><linearGradient id="plc" x1="0" y1="1" x2="0" y2="0"><stop offset="0.00" stop-color="#0d0887"/><stop offset="0.10" stop-color="#41049d"/><stop offset="0.20" stop-color="#6a00a8"/><stop offset="0.30" stop-color="#8f0da4"/><stop offset="0.40" stop-color="#b12a90"/><stop offset="0.50" stop-color="#cc4778"/><stop offset="0.60" stop-color="#e16462"/><stop offset="0.70" stop-color="#f2844b"/><stop offset="0.80" stop-color="#fca636"/><stop offset="0.90" stop-color="#fcce25"/><stop offset="1.00" stop-color="#f0f921"/></linearGradient></defs>
<rect x="246.90" y="611.10" width="8.70" height="177.90" fill="url(#plc)"/>
<line x1="255.60" y1="623.10" x2="259.60" y2="623.10" stroke="#555" stroke-width="1"/>
<text x="264.50" y="626.20" font-size="8.7" fill="#333">−6</text>
<line x1="255.60" y1="654.00" x2="259.60" y2="654.00" stroke="#555" stroke-width="1"/>
<text x="264.50" y="657.10" font-size="8.7" fill="#333">−7</text>
<line x1="255.60" y1="684.00" x2="259.60" y2="684.00" stroke="#555" stroke-width="1"/>
<text x="264.50" y="687.10" font-size="8.7" fill="#333">−8</text>
<line x1="255.60" y1="713.90" x2="259.60" y2="713.90" stroke="#555" stroke-width="1"/>
<text x="264.50" y="717.00" font-size="8.7" fill="#333">−9</text>
<line x1="255.60" y1="744.30" x2="259.60" y2="744.30" stroke="#555" stroke-width="1"/>
<text x="264.50" y="747.40" font-size="8.7" fill="#333">−10</text>
<line x1="255.60" y1="774.10" x2="259.60" y2="774.10" stroke="#555" stroke-width="1"/>
<text x="264.50" y="777.20" font-size="8.7" fill="#333">−11</text>
<text x="297.00" y="700.00" font-size="10.5" text-anchor="middle" textLength="116" lengthAdjust="spacingAndGlyphs" transform="rotate(90 297.00 700.00)">Minimum tile coverage</text>
<text x="284.60" y="700.00" font-size="10.5" text-anchor="middle" textLength="173" lengthAdjust="spacingAndGlyphs" transform="rotate(90 284.60 700.00)">(log percentage of mapped reads)</text>
<text x="372.40" y="549.70" font-size="16.5" fill="#000" font-weight="bold">d</text>
<circle cx="455.25" cy="573.89" r="2.5" fill="#0d0887"/>
<circle cx="448.67" cy="578.23" r="2.5" fill="#0d0887"/>
<circle cx="455.87" cy="577.61" r="2.5" fill="#0d0887"/>
<circle cx="459.59" cy="580.71" r="2.5" fill="#0d0887"/>
<circle cx="462.69" cy="588.78" r="2.5" fill="#0d0887"/>
<circle cx="454.63" cy="592.50" r="2.5" fill="#0d0887"/>
<circle cx="456.49" cy="602.42" r="2.5" fill="#0d0887"/>
<circle cx="457.11" cy="612.35" r="2.5" fill="#0d0887"/>
<circle cx="456.49" cy="614.21" r="2.5" fill="#0d0887"/>
<circle cx="453.39" cy="620.41" r="2.5" fill="#0d0887"/>
<circle cx="449.04" cy="617.93" r="2.5" fill="#0d0887"/>
<circle cx="434.16" cy="603.04" r="2.5" fill="#0d0887"/>
<circle cx="425.47" cy="611.73" r="2.5" fill="#0d0887"/>
<circle cx="412.69" cy="636.92" r="2.5" fill="#0d0887"/>
<circle cx="449.26" cy="604.19" r="2.5" fill="#1c078d"/>
<circle cx="451.85" cy="593.38" r="2.5" fill="#290693"/>
<circle cx="449.14" cy="598.21" r="2.5" fill="#0d0887"/>
<circle cx="447.51" cy="614.20" r="2.5" fill="#17078b"/>
<circle cx="418.03" cy="631.15" r="2.5" fill="#0d0887"/>
<circle cx="443.62" cy="596.56" r="2.5" fill="#0d0887"/>
<circle cx="440.82" cy="602.11" r="2.5" fill="#21068f"/>
<circle cx="451.50" cy="604.10" r="2.5" fill="#0d0887"/>
<circle cx="443.14" cy="609.82" r="2.5" fill="#120889"/>
<circle cx="453.90" cy="584.70" r="2.5" fill="#0d0887"/>
<circle cx="439.52" cy="604.90" r="2.5" fill="#0e0888"/>
<circle cx="447.66" cy="590.42" r="2.5" fill="#0d0887"/>
<circle cx="446.46" cy="612.34" r="2.5" fill="#2e0595"/>
<circle cx="445.43" cy="615.96" r="2.5" fill="#14078a"/>
<circle cx="442.54" cy="599.32" r="2.5" fill="#14078a"/>
<circle cx="436.83" cy="628.48" r="2.5" fill="#3d049b"/>
<circle cx="423.94" cy="614.73" r="2.5" fill="#0d0887"/>
<circle cx="418.14" cy="622.72" r="2.5" fill="#0d0887"/>
<circle cx="443.42" cy="606.18" r="2.5" fill="#0d0887"/>
<circle cx="442.97" cy="611.67" r="2.5" fill="#14078a"/>
<circle cx="435.11" cy="629.30" r="2.5" fill="#20078f"/>
<circle cx="426.16" cy="613.34" r="2.5" fill="#250691"/>
<circle cx="430.78" cy="631.25" r="2.5" fill="#1d078e"/>
<circle cx="448.41" cy="609.26" r="2.5" fill="#0d0887"/>
<circle cx="431.99" cy="630.71" r="2.5" fill="#44049e"/>
<circle cx="449.28" cy="607.24" r="2.5" fill="#1f078e"/>
<circle cx="432.32" cy="610.61" r="2.5" fill="#100888"/>
<circle cx="443.76" cy="618.53" r="2.5" fill="#0d0887"/>
<circle cx="423.59" cy="631.90" r="2.5" fill="#230690"/>
<circle cx="418.83" cy="628.22" r="2.5" fill="#0d0887"/>
<circle cx="441.69" cy="622.42" r="2.5" fill="#0e0888"/>
<circle cx="446.37" cy="600.72" r="2.5" fill="#20078f"/>
<circle cx="420.97" cy="630.55" r="2.5" fill="#21068f"/>
<circle cx="451.76" cy="587.95" r="2.5" fill="#0d0887"/>
<circle cx="420.26" cy="620.10" r="2.5" fill="#3c049b"/>
<circle cx="435.84" cy="609.83" r="2.5" fill="#0d0887"/>
<circle cx="422.53" cy="617.09" r="2.5" fill="#0d0887"/>
<circle cx="426.87" cy="631.68" r="2.5" fill="#240691"/>
<circle cx="428.97" cy="612.36" r="2.5" fill="#20078f"/>
<circle cx="441.65" cy="606.61" r="2.5" fill="#220690"/>
<circle cx="438.73" cy="625.47" r="2.5" fill="#16078b"/>
<circle cx="442.53" cy="605.19" r="2.5" fill="#230690"/>
<circle cx="441.68" cy="612.22" r="2.5" fill="#13088a"/>
<circle cx="444.36" cy="602.30" r="2.5" fill="#0d0887"/>
<circle cx="450.08" cy="591.69" r="2.5" fill="#3f049c"/>
<circle cx="439.14" cy="609.85" r="2.5" fill="#16078b"/>
<circle cx="441.45" cy="620.42" r="2.5" fill="#2c0694"/>
<circle cx="448.91" cy="593.41" r="2.5" fill="#47039f"/>
<circle cx="446.62" cy="595.46" r="2.5" fill="#39059a"/>
<circle cx="426.72" cy="615.02" r="2.5" fill="#7404a7"/>
<circle cx="445.85" cy="598.67" r="2.5" fill="#18078c"/>
<circle cx="421.65" cy="628.54" r="2.5" fill="#290693"/>
<circle cx="441.31" cy="614.67" r="2.5" fill="#40049d"/>
<circle cx="431.65" cy="628.98" r="2.5" fill="#5d01a5"/>
<circle cx="431.71" cy="612.91" r="2.5" fill="#45049e"/>
<circle cx="436.88" cy="625.26" r="2.5" fill="#2a0693"/>
<circle cx="441.04" cy="617.59" r="2.5" fill="#6800a7"/>
<circle cx="421.55" cy="626.54" r="2.5" fill="#40049d"/>
<circle cx="428.36" cy="629.26" r="2.5" fill="#5202a2"/>
<circle cx="433.79" cy="613.05" r="2.5" fill="#7604a7"/>
<circle cx="421.79" cy="624.21" r="2.5" fill="#5702a3"/>
<circle cx="437.48" cy="612.96" r="2.5" fill="#6500a7"/>
<circle cx="422.86" cy="621.31" r="2.5" fill="#7805a6"/>
<circle cx="439.37" cy="620.44" r="2.5" fill="#6c01a8"/>
<circle cx="429.09" cy="615.27" r="2.5" fill="#7e07a6"/>
<circle cx="425.45" cy="618.33" r="2.5" fill="#7203a7"/>
<circle cx="425.86" cy="627.98" r="2.5" fill="#8208a5"/>
<circle cx="431.97" cy="614.30" r="2.5" fill="#7102a7"/>
<circle cx="437.50" cy="622.56" r="2.5" fill="#6c01a8"/>
<circle cx="438.77" cy="615.98" r="2.5" fill="#ac2593"/>
<circle cx="423.94" cy="626.27" r="2.5" fill="#9c189d"/>
<circle cx="438.41" cy="618.55" r="2.5" fill="#b7308b"/>
<circle cx="435.69" cy="614.65" r="2.5" fill="#9e1a9b"/>
<circle cx="433.75" cy="624.96" r="2.5" fill="#b7308b"/>
<circle cx="424.58" cy="622.98" r="2.5" fill="#c23c81"/>
<circle cx="428.49" cy="618.15" r="2.5" fill="#d04c74"/>
<circle cx="427.73" cy="625.62" r="2.5" fill="#e76f5a"/>
<circle cx="436.14" cy="620.61" r="2.5" fill="#dd5f66"/>
<circle cx="434.86" cy="622.58" r="2.5" fill="#e26760"/>
<circle cx="430.41" cy="625.36" r="2.5" fill="#d6556d"/>
<circle cx="431.30" cy="617.50" r="2.5" fill="#fba338"/>
<circle cx="427.40" cy="620.68" r="2.5" fill="#fca536"/>
<circle cx="427.47" cy="623.17" r="2.5" fill="#fcb82e"/>
<circle cx="434.53" cy="618.28" r="2.5" fill="#fba139"/>
<circle cx="432.22" cy="623.10" r="2.5" fill="#fcb72f"/>
<circle cx="429.51" cy="620.47" r="2.5" fill="#f0f921"/>
<circle cx="432.80" cy="621.39" r="2.5" fill="#f2f322"/>
<circle cx="462.32" cy="657.02" r="2.5" fill="#0d0887"/>
<circle cx="454.38" cy="674.64" r="2.5" fill="#0d0887"/>
<circle cx="459.59" cy="680.22" r="2.5" fill="#0d0887"/>
<circle cx="429.19" cy="683.94" r="2.5" fill="#0d0887"/>
<circle cx="417.41" cy="701.31" r="2.5" fill="#0d0887"/>
<circle cx="417.41" cy="702.55" r="2.5" fill="#0d0887"/>
<circle cx="457.73" cy="700.69" r="2.5" fill="#0d0887"/>
<circle cx="449.04" cy="702.55" r="2.5" fill="#0d0887"/>
<circle cx="439.12" cy="713.97" r="2.5" fill="#0d0887"/>
<circle cx="425.47" cy="721.78" r="2.5" fill="#0d0887"/>
<circle cx="412.44" cy="721.78" r="2.5" fill="#0d0887"/>
<circle cx="416.79" cy="721.16" r="2.5" fill="#0d0887"/>
<circle cx="437.26" cy="683.94" r="2.5" fill="#0d0887"/>
<circle cx="452.15" cy="696.35" r="2.5" fill="#0d0887"/>
<circle cx="430.40" cy="688.35" r="2.5" fill="#110889"/>
<circle cx="444.71" cy="702.27" r="2.5" fill="#2e0595"/>
<circle cx="461.63" cy="675.07" r="2.5" fill="#0d0887"/>
<circle cx="439.51" cy="682.00" r="2.5" fill="#1d078e"/>
<circle cx="419.10" cy="700.92" r="2.5" fill="#0d0887"/>
<circle cx="415.99" cy="706.70" r="2.5" fill="#18078c"/>
<circle cx="448.13" cy="688.06" r="2.5" fill="#0d0887"/>
<circle cx="432.81" cy="715.58" r="2.5" fill="#13088a"/>
<circle cx="456.21" cy="675.64" r="2.5" fill="#0d0887"/>
<circle cx="446.68" cy="691.04" r="2.5" fill="#350598"/>
<circle cx="448.05" cy="678.16" r="2.5" fill="#0d0887"/>
<circle cx="444.70" cy="699.19" r="2.5" fill="#0d0887"/>
<circle cx="426.54" cy="693.64" r="2.5" fill="#0d0887"/>
<circle cx="453.77" cy="683.34" r="2.5" fill="#1b078d"/>
<circle cx="452.40" cy="676.70" r="2.5" fill="#220690"/>
<circle cx="424.33" cy="720.51" r="2.5" fill="#0f0888"/>
<circle cx="428.36" cy="718.42" r="2.5" fill="#0d0887"/>
<circle cx="437.84" cy="685.28" r="2.5" fill="#0d0887"/>
<circle cx="457.00" cy="680.52" r="2.5" fill="#0d0887"/>
<circle cx="441.65" cy="704.39" r="2.5" fill="#1f078e"/>
<circle cx="433.32" cy="688.77" r="2.5" fill="#13088a"/>
<circle cx="446.00" cy="688.60" r="2.5" fill="#1a078c"/>
<circle cx="416.34" cy="718.80" r="2.5" fill="#16078b"/>
<circle cx="457.13" cy="677.64" r="2.5" fill="#17078b"/>
<circle cx="445.30" cy="693.04" r="2.5" fill="#340597"/>
<circle cx="441.74" cy="683.43" r="2.5" fill="#0d0887"/>
<circle cx="415.89" cy="713.44" r="2.5" fill="#230690"/>
<circle cx="421.12" cy="720.04" r="2.5" fill="#250691"/>
<circle cx="447.55" cy="685.59" r="2.5" fill="#0d0887"/>
<circle cx="444.42" cy="695.96" r="2.5" fill="#44049e"/>
<circle cx="445.93" cy="681.15" r="2.5" fill="#230690"/>
<circle cx="454.67" cy="678.30" r="2.5" fill="#0d0887"/>
<circle cx="440.81" cy="685.50" r="2.5" fill="#370599"/>
<circle cx="424.73" cy="697.30" r="2.5" fill="#2d0695"/>
<circle cx="444.25" cy="691.55" r="2.5" fill="#320597"/>
<circle cx="438.25" cy="687.30" r="2.5" fill="#1b078d"/>
<circle cx="431.58" cy="691.39" r="2.5" fill="#1a078c"/>
<circle cx="442.86" cy="685.29" r="2.5" fill="#280692"/>
<circle cx="444.46" cy="683.83" r="2.5" fill="#0d0887"/>
<circle cx="450.88" cy="679.56" r="2.5" fill="#290693"/>
<circle cx="451.16" cy="682.09" r="2.5" fill="#280692"/>
<circle cx="429.24" cy="715.93" r="2.5" fill="#3d049b"/>
<circle cx="452.61" cy="680.89" r="2.5" fill="#21068f"/>
<circle cx="424.21" cy="698.45" r="2.5" fill="#360598"/>
<circle cx="424.60" cy="718.23" r="2.5" fill="#0d0887"/>
<circle cx="418.57" cy="717.63" r="2.5" fill="#15078a"/>
<circle cx="447.54" cy="683.40" r="2.5" fill="#3c049b"/>
<circle cx="437.01" cy="688.73" r="2.5" fill="#4c03a0"/>
<circle cx="442.31" cy="688.50" r="2.5" fill="#41049d"/>
<circle cx="435.51" cy="710.25" r="2.5" fill="#0d0887"/>
<circle cx="417.37" cy="714.77" r="2.5" fill="#100888"/>
<circle cx="417.84" cy="710.29" r="2.5" fill="#1c078d"/>
<circle cx="442.29" cy="698.52" r="2.5" fill="#5003a1"/>
<circle cx="420.45" cy="704.85" r="2.5" fill="#270692"/>
<circle cx="442.46" cy="692.96" r="2.5" fill="#43049d"/>
<circle cx="422.41" cy="717.42" r="2.5" fill="#48039f"/>
<circle cx="419.28" cy="708.10" r="2.5" fill="#49039f"/>
<circle cx="438.96" cy="704.65" r="2.5" fill="#3d049b"/>
<circle cx="436.69" cy="707.83" r="2.5" fill="#47039f"/>
<circle cx="418.47" cy="712.62" r="2.5" fill="#5302a2"/>
<circle cx="427.35" cy="696.60" r="2.5" fill="#4c03a0"/>
<circle cx="427.00" cy="715.69" r="2.5" fill="#49039f"/>
<circle cx="440.39" cy="691.08" r="2.5" fill="#5a02a4"/>
<circle cx="422.76" cy="702.25" r="2.5" fill="#6a00a8"/>
<circle cx="430.09" cy="694.57" r="2.5" fill="#8108a6"/>
<circle cx="435.42" cy="691.75" r="2.5" fill="#42049d"/>
<circle cx="440.09" cy="700.97" r="2.5" fill="#5e01a5"/>
<circle cx="438.38" cy="691.60" r="2.5" fill="#6001a5"/>
<circle cx="421.47" cy="715.13" r="2.5" fill="#4d03a0"/>
<circle cx="420.15" cy="710.43" r="2.5" fill="#6301a6"/>
<circle cx="431.43" cy="711.59" r="2.5" fill="#6001a5"/>
<circle cx="426.05" cy="699.43" r="2.5" fill="#5e01a5"/>
<circle cx="438.91" cy="693.36" r="2.5" fill="#6e01a8"/>
<circle cx="433.28" cy="693.82" r="2.5" fill="#850aa5"/>
<circle cx="440.04" cy="695.82" r="2.5" fill="#6900a8"/>
<circle cx="423.02" cy="714.44" r="2.5" fill="#7403a7"/>
<circle cx="439.27" cy="700.01" r="2.5" fill="#8008a6"/>
<circle cx="433.06" cy="709.17" r="2.5" fill="#7b06a6"/>
<circle cx="435.75" cy="693.90" r="2.5" fill="#7f08a6"/>
<circle cx="422.20" cy="712.07" r="2.5" fill="#7f07a6"/>
<circle cx="425.84" cy="701.06" r="2.5" fill="#8e0da4"/>
<circle cx="423.40" cy="705.04" r="2.5" fill="#b52e8c"/>
<circle cx="430.88" cy="696.48" r="2.5" fill="#880ba5"/>
<circle cx="437.32" cy="702.17" r="2.5" fill="#b93289"/>
<circle cx="436.03" cy="704.39" r="2.5" fill="#a01c9a"/>
<circle cx="427.81" cy="712.06" r="2.5" fill="#a01c9a"/>
<circle cx="437.77" cy="696.08" r="2.5" fill="#be3885"/>
<circle cx="423.06" cy="707.54" r="2.5" fill="#bf3984"/>
<circle cx="433.53" cy="706.98" r="2.5" fill="#cc4878"/>
<circle cx="424.78" cy="711.70" r="2.5" fill="#c5407e"/>
<circle cx="435.21" cy="695.90" r="2.5" fill="#d25071"/>
<circle cx="423.64" cy="710.21" r="2.5" fill="#c23c81"/>
<circle cx="428.90" cy="709.73" r="2.5" fill="#e56c5d"/>
<circle cx="435.48" cy="698.73" r="2.5" fill="#f48a47"/>
<circle cx="426.52" cy="709.44" r="2.5" fill="#f0804e"/>
<circle cx="430.08" cy="699.94" r="2.5" fill="#ed7a52"/>
<circle cx="428.06" cy="702.13" r="2.5" fill="#fcaa34"/>
<circle cx="426.01" cy="707.97" r="2.5" fill="#f59044"/>
<circle cx="432.07" cy="699.26" r="2.5" fill="#f58d46"/>
<circle cx="430.61" cy="707.11" r="2.5" fill="#fcae33"/>
<circle cx="426.92" cy="705.01" r="2.5" fill="#fcc22a"/>
<circle cx="433.83" cy="701.69" r="2.5" fill="#fcc429"/>
<circle cx="429.05" cy="707.24" r="2.5" fill="#fcaa34"/>
<circle cx="432.25" cy="704.09" r="2.5" fill="#fbd225"/>
<circle cx="431.96" cy="701.50" r="2.5" fill="#f5e823"/>
<circle cx="430.64" cy="704.04" r="2.5" fill="#f0f921"/>
<circle cx="447.18" cy="762.49" r="2.5" fill="#0d0887"/>
<circle cx="462.69" cy="765.22" r="2.5" fill="#0d0887"/>
<circle cx="452.77" cy="763.98" r="2.5" fill="#0d0887"/>
<circle cx="425.84" cy="772.04" r="2.5" fill="#0d0887"/>
<circle cx="423.61" cy="775.77" r="2.5" fill="#0d0887"/>
<circle cx="417.16" cy="779.49" r="2.5" fill="#0d0887"/>
<circle cx="456.49" cy="771.42" r="2.5" fill="#0d0887"/>
<circle cx="452.77" cy="781.97" r="2.5" fill="#0d0887"/>
<circle cx="457.11" cy="783.83" r="2.5" fill="#0d0887"/>
<circle cx="456.49" cy="788.17" r="2.5" fill="#0d0887"/>
<circle cx="449.04" cy="788.79" r="2.5" fill="#0d0887"/>
<circle cx="416.79" cy="788.79" r="2.5" fill="#0d0887"/>
<circle cx="418.03" cy="797.48" r="2.5" fill="#0d0887"/>
<circle cx="422.37" cy="799.34" r="2.5" fill="#0d0887"/>
<circle cx="431.05" cy="799.34" r="2.5" fill="#0d0887"/>
<circle cx="433.18" cy="799.45" r="2.5" fill="#1a078c"/>
<circle cx="453.02" cy="763.99" r="2.5" fill="#120889"/>
<circle cx="450.65" cy="764.65" r="2.5" fill="#0d0887"/>
<circle cx="433.56" cy="773.30" r="2.5" fill="#0d0887"/>
<circle cx="441.54" cy="792.30" r="2.5" fill="#0d0887"/>
<circle cx="423.40" cy="800.33" r="2.5" fill="#320597"/>
<circle cx="453.71" cy="770.66" r="2.5" fill="#1e078e"/>
<circle cx="436.17" cy="772.49" r="2.5" fill="#0d0887"/>
<circle cx="446.21" cy="782.98" r="2.5" fill="#20078f"/>
<circle cx="429.81" cy="799.56" r="2.5" fill="#390599"/>
<circle cx="418.35" cy="784.47" r="2.5" fill="#45049e"/>
<circle cx="433.93" cy="797.71" r="2.5" fill="#0d0887"/>
<circle cx="446.29" cy="781.45" r="2.5" fill="#220690"/>
<circle cx="443.92" cy="787.18" r="2.5" fill="#250691"/>
<circle cx="451.27" cy="773.35" r="2.5" fill="#0d0887"/>
<circle cx="445.78" cy="767.90" r="2.5" fill="#0d0887"/>
<circle cx="448.81" cy="767.00" r="2.5" fill="#320597"/>
<circle cx="417.11" cy="788.32" r="2.5" fill="#0d0887"/>
<circle cx="429.05" cy="776.20" r="2.5" fill="#0d0887"/>
<circle cx="416.65" cy="791.21" r="2.5" fill="#0d0887"/>
<circle cx="417.08" cy="793.90" r="2.5" fill="#260691"/>
<circle cx="419.22" cy="797.22" r="2.5" fill="#49039f"/>
<circle cx="422.11" cy="780.97" r="2.5" fill="#2b0694"/>
<circle cx="449.25" cy="775.06" r="2.5" fill="#0d0887"/>
<circle cx="434.48" cy="774.88" r="2.5" fill="#3b049b"/>
<circle cx="420.73" cy="783.42" r="2.5" fill="#0d0887"/>
<circle cx="450.27" cy="770.79" r="2.5" fill="#360598"/>
<circle cx="439.20" cy="772.97" r="2.5" fill="#340598"/>
<circle cx="441.93" cy="788.28" r="2.5" fill="#4a03a0"/>
<circle cx="444.79" cy="770.28" r="2.5" fill="#3a059a"/>
<circle cx="418.15" cy="792.58" r="2.5" fill="#3f049c"/>
<circle cx="431.54" cy="776.38" r="2.5" fill="#250691"/>
<circle cx="448.47" cy="773.49" r="2.5" fill="#1c078d"/>
<circle cx="429.01" cy="777.60" r="2.5" fill="#260692"/>
<circle cx="444.24" cy="780.90" r="2.5" fill="#5502a2"/>
<circle cx="435.78" cy="794.53" r="2.5" fill="#19078c"/>
<circle cx="425.34" cy="797.83" r="2.5" fill="#270692"/>
<circle cx="445.93" cy="771.07" r="2.5" fill="#1f078f"/>
<circle cx="422.51" cy="796.94" r="2.5" fill="#3e049c"/>
<circle cx="442.69" cy="772.71" r="2.5" fill="#3c049b"/>
<circle cx="431.99" cy="796.28" r="2.5" fill="#5e01a5"/>
<circle cx="446.27" cy="774.89" r="2.5" fill="#6201a6"/>
<circle cx="445.68" cy="772.36" r="2.5" fill="#4e03a0"/>
<circle cx="427.24" cy="779.15" r="2.5" fill="#49039f"/>
<circle cx="428.62" cy="797.14" r="2.5" fill="#310596"/>
<circle cx="444.54" cy="778.19" r="2.5" fill="#0e0887"/>
<circle cx="419.96" cy="787.12" r="2.5" fill="#3c049b"/>
<circle cx="437.14" cy="775.52" r="2.5" fill="#39059a"/>
<circle cx="420.79" cy="795.02" r="2.5" fill="#1b078d"/>
<circle cx="420.01" cy="788.19" r="2.5" fill="#47039f"/>
<circle cx="439.42" cy="789.47" r="2.5" fill="#5902a3"/>
<circle cx="441.65" cy="784.70" r="2.5" fill="#300596"/>
<circle cx="443.40" cy="775.37" r="2.5" fill="#5802a3"/>
<circle cx="440.48" cy="775.54" r="2.5" fill="#5102a1"/>
<circle cx="425.01" cy="781.62" r="2.5" fill="#40049d"/>
<circle cx="432.11" cy="795.08" r="2.5" fill="#5302a2"/>
<circle cx="437.02" cy="791.62" r="2.5" fill="#6201a6"/>
<circle cx="441.64" cy="778.73" r="2.5" fill="#5702a3"/>
<circle cx="436.78" cy="777.44" r="2.5" fill="#5f01a5"/>
<circle cx="440.22" cy="785.63" r="2.5" fill="#7d07a6"/>
<circle cx="423.16" cy="784.70" r="2.5" fill="#7303a7"/>
<circle cx="438.73" cy="778.70" r="2.5" fill="#8309a5"/>
<circle cx="422.38" cy="792.63" r="2.5" fill="#7002a7"/>
<circle cx="439.85" cy="780.36" r="2.5" fill="#8a0ba5"/>
<circle cx="423.48" cy="793.63" r="2.5" fill="#99169e"/>
<circle cx="422.96" cy="786.17" r="2.5" fill="#6e02a8"/>
<circle cx="432.81" cy="779.19" r="2.5" fill="#6001a5"/>
<circle cx="429.02" cy="794.57" r="2.5" fill="#7604a7"/>
<circle cx="439.44" cy="784.11" r="2.5" fill="#870aa5"/>
<circle cx="427.27" cy="794.21" r="2.5" fill="#8509a5"/>
<circle cx="428.55" cy="781.58" r="2.5" fill="#7e07a6"/>
<circle cx="434.54" cy="791.20" r="2.5" fill="#bd3785"/>
<circle cx="436.73" cy="780.53" r="2.5" fill="#a72196"/>
<circle cx="434.82" cy="780.36" r="2.5" fill="#a62196"/>
<circle cx="437.19" cy="787.00" r="2.5" fill="#8a0ba5"/>
<circle cx="436.38" cy="788.31" r="2.5" fill="#c9437b"/>
<circle cx="424.43" cy="791.52" r="2.5" fill="#a62196"/>
<circle cx="426.48" cy="784.08" r="2.5" fill="#d04c74"/>
<circle cx="425.22" cy="785.86" r="2.5" fill="#ce4976"/>
<circle cx="431.54" cy="781.54" r="2.5" fill="#ce4a76"/>
<circle cx="424.45" cy="789.48" r="2.5" fill="#ce4a76"/>
<circle cx="432.03" cy="791.19" r="2.5" fill="#e56b5d"/>
<circle cx="435.23" cy="783.64" r="2.5" fill="#e87258"/>
<circle cx="427.33" cy="790.98" r="2.5" fill="#f2854a"/>
<circle cx="426.74" cy="789.46" r="2.5" fill="#f58e45"/>
<circle cx="432.36" cy="789.55" r="2.5" fill="#f69242"/>
<circle cx="434.60" cy="786.15" r="2.5" fill="#fcbb2d"/>
<circle cx="428.18" cy="785.49" r="2.5" fill="#fcb430"/>
<circle cx="432.26" cy="784.11" r="2.5" fill="#fba238"/>
<circle cx="429.97" cy="789.95" r="2.5" fill="#fba437"/>
<circle cx="430.56" cy="784.50" r="2.5" fill="#fcb92e"/>
<circle cx="430.76" cy="787.04" r="2.5" fill="#f1f721"/>
<circle cx="517.92" cy="654.79" r="2.5" fill="#0d0887"/>
<circle cx="554.52" cy="648.21" r="2.5" fill="#0d0887"/>
<circle cx="550.17" cy="650.69" r="2.5" fill="#0d0887"/>
<circle cx="545.83" cy="651.44" r="2.5" fill="#0d0887"/>
<circle cx="545.58" cy="657.27" r="2.5" fill="#0d0887"/>
<circle cx="519.78" cy="665.33" r="2.5" fill="#0d0887"/>
<circle cx="524.74" cy="662.85" r="2.5" fill="#0d0887"/>
<circle cx="533.42" cy="667.81" r="2.5" fill="#0d0887"/>
<circle cx="543.97" cy="667.19" r="2.5" fill="#0d0887"/>
<circle cx="509.23" cy="675.51" r="2.5" fill="#0d0887"/>
<circle cx="501.17" cy="681.21" r="2.5" fill="#0d0887"/>
<circle cx="524.12" cy="671.54" r="2.5" fill="#0d0887"/>
<circle cx="548.31" cy="678.36" r="2.5" fill="#0d0887"/>
<circle cx="560.10" cy="679.97" r="2.5" fill="#0d0887"/>
<circle cx="554.52" cy="680.22" r="2.5" fill="#0d0887"/>
<circle cx="543.35" cy="689.53" r="2.5" fill="#0d0887"/>
<circle cx="555.76" cy="693.87" r="2.5" fill="#0d0887"/>
<circle cx="544.59" cy="696.60" r="2.5" fill="#0d0887"/>
<circle cx="548.93" cy="697.59" r="2.5" fill="#0d0887"/>
<circle cx="496.20" cy="721.78" r="2.5" fill="#0d0887"/>
<circle cx="499.31" cy="717.44" r="2.5" fill="#0d0887"/>
<circle cx="496.82" cy="703.79" r="2.5" fill="#0d0887"/>
<circle cx="522.26" cy="714.96" r="2.5" fill="#0d0887"/>
<circle cx="510.43" cy="717.78" r="2.5" fill="#270692"/>
<circle cx="521.40" cy="712.14" r="2.5" fill="#0d0887"/>
<circle cx="534.35" cy="664.50" r="2.5" fill="#0d0887"/>
<circle cx="497.48" cy="706.87" r="2.5" fill="#0d0887"/>
<circle cx="514.17" cy="678.07" r="2.5" fill="#0d0887"/>
<circle cx="502.19" cy="714.92" r="2.5" fill="#0d0887"/>
<circle cx="544.93" cy="677.95" r="2.5" fill="#1e078e"/>
<circle cx="543.18" cy="682.53" r="2.5" fill="#0f0888"/>
<circle cx="544.22" cy="679.67" r="2.5" fill="#0d0887"/>
<circle cx="544.76" cy="674.04" r="2.5" fill="#0d0887"/>
<circle cx="535.31" cy="666.51" r="2.5" fill="#17078b"/>
<circle cx="534.12" cy="666.89" r="2.5" fill="#1d078e"/>
<circle cx="543.20" cy="672.35" r="2.5" fill="#0f0888"/>
<circle cx="535.58" cy="691.78" r="2.5" fill="#110889"/>
<circle cx="511.06" cy="682.01" r="2.5" fill="#1a078d"/>
<circle cx="521.09" cy="710.18" r="2.5" fill="#0d0887"/>
<circle cx="540.94" cy="669.73" r="2.5" fill="#0d0887"/>
<circle cx="513.43" cy="680.69" r="2.5" fill="#44049e"/>
<circle cx="519.92" cy="675.71" r="2.5" fill="#1e078e"/>
<circle cx="499.94" cy="698.51" r="2.5" fill="#340598"/>
<circle cx="499.23" cy="704.82" r="2.5" fill="#0d0887"/>
<circle cx="541.36" cy="680.60" r="2.5" fill="#15078a"/>
<circle cx="505.53" cy="714.25" r="2.5" fill="#360598"/>
<circle cx="521.57" cy="675.09" r="2.5" fill="#3c049b"/>
<circle cx="534.77" cy="669.36" r="2.5" fill="#1c078d"/>
<circle cx="508.22" cy="714.72" r="2.5" fill="#2f0595"/>
<circle cx="510.97" cy="714.57" r="2.5" fill="#18078c"/>
<circle cx="541.47" cy="677.67" r="2.5" fill="#0d0887"/>
<circle cx="532.23" cy="693.46" r="2.5" fill="#0d0887"/>
<circle cx="532.06" cy="670.02" r="2.5" fill="#0d0887"/>
<circle cx="540.16" cy="672.57" r="2.5" fill="#0d0887"/>
<circle cx="538.09" cy="685.60" r="2.5" fill="#300596"/>
<circle cx="529.63" cy="671.16" r="2.5" fill="#0d0887"/>
<circle cx="526.61" cy="672.60" r="2.5" fill="#46039e"/>
<circle cx="503.10" cy="692.88" r="2.5" fill="#320597"/>
<circle cx="519.95" cy="677.21" r="2.5" fill="#2b0694"/>
<circle cx="515.37" cy="680.77" r="2.5" fill="#0d0887"/>
<circle cx="536.06" cy="687.40" r="2.5" fill="#14078a"/>
<circle cx="539.96" cy="675.38" r="2.5" fill="#2c0694"/>
<circle cx="538.70" cy="683.06" r="2.5" fill="#0d0887"/>
<circle cx="535.51" cy="671.19" r="2.5" fill="#2f0595"/>
<circle cx="540.09" cy="678.15" r="2.5" fill="#370599"/>
<circle cx="532.94" cy="671.18" r="2.5" fill="#270692"/>
<circle cx="525.03" cy="674.32" r="2.5" fill="#0d0887"/>
<circle cx="502.80" cy="710.81" r="2.5" fill="#230690"/>
<circle cx="521.70" cy="707.40" r="2.5" fill="#0d0887"/>
<circle cx="504.24" cy="711.98" r="2.5" fill="#42049d"/>
<circle cx="513.03" cy="713.01" r="2.5" fill="#0d0887"/>
<circle cx="510.42" cy="713.52" r="2.5" fill="#0d0887"/>
<circle cx="501.33" cy="707.94" r="2.5" fill="#1e078e"/>
<circle cx="500.79" cy="700.86" r="2.5" fill="#0e0888"/>
<circle cx="505.91" cy="712.54" r="2.5" fill="#360598"/>
<circle cx="515.32" cy="711.79" r="2.5" fill="#280692"/>
<circle cx="525.93" cy="701.17" r="2.5" fill="#4d03a0"/>
<circle cx="523.01" cy="676.81" r="2.5" fill="#0d0887"/>
<circle cx="509.72" cy="686.19" r="2.5" fill="#220690"/>
<circle cx="514.16" cy="682.75" r="2.5" fill="#2a0693"/>
<circle cx="527.83" cy="674.06" r="2.5" fill="#1d078e"/>
<circle cx="507.51" cy="688.46" r="2.5" fill="#0d0887"/>
<circle cx="533.55" cy="688.29" r="2.5" fill="#0d0887"/>
<circle cx="537.78" cy="680.18" r="2.5" fill="#2d0695"/>
<circle cx="519.54" cy="679.48" r="2.5" fill="#100888"/>
<circle cx="537.16" cy="675.32" r="2.5" fill="#0d0887"/>
<circle cx="523.55" cy="704.17" r="2.5" fill="#0d0887"/>
<circle cx="535.17" cy="684.88" r="2.5" fill="#2d0694"/>
<circle cx="530.86" cy="691.22" r="2.5" fill="#350598"/>
<circle cx="532.40" cy="673.99" r="2.5" fill="#250691"/>
<circle cx="518.25" cy="709.35" r="2.5" fill="#390599"/>
<circle cx="501.96" cy="699.09" r="2.5" fill="#2a0693"/>
<circle cx="527.60" cy="696.89" r="2.5" fill="#2f0596"/>
<circle cx="535.34" cy="683.76" r="2.5" fill="#0d0887"/>
<circle cx="535.13" cy="675.35" r="2.5" fill="#17078b"/>
<circle cx="502.81" cy="696.83" r="2.5" fill="#40049d"/>
<circle cx="529.51" cy="692.86" r="2.5" fill="#330597"/>
<circle cx="504.27" cy="710.02" r="2.5" fill="#3c049b"/>
<circle cx="525.98" cy="676.79" r="2.5" fill="#47039f"/>
<circle cx="535.78" cy="677.46" r="2.5" fill="#0d0887"/>
<circle cx="526.37" cy="698.37" r="2.5" fill="#41049d"/>
<circle cx="504.44" cy="693.95" r="2.5" fill="#43049e"/>
<circle cx="517.12" cy="682.38" r="2.5" fill="#370599"/>
<circle cx="522.96" cy="679.26" r="2.5" fill="#3c049b"/>
<circle cx="533.77" cy="677.38" r="2.5" fill="#18078c"/>
<circle cx="507.57" cy="690.02" r="2.5" fill="#47039f"/>
<circle cx="502.77" cy="706.26" r="2.5" fill="#45049e"/>
<circle cx="519.84" cy="707.01" r="2.5" fill="#3f049c"/>
<circle cx="514.01" cy="710.71" r="2.5" fill="#4c03a0"/>
<circle cx="534.01" cy="680.97" r="2.5" fill="#5c01a4"/>
<circle cx="502.47" cy="703.77" r="2.5" fill="#42049d"/>
<circle cx="533.17" cy="682.65" r="2.5" fill="#350598"/>
<circle cx="512.30" cy="686.15" r="2.5" fill="#44049e"/>
<circle cx="530.22" cy="678.27" r="2.5" fill="#5f01a5"/>
<circle cx="530.97" cy="685.89" r="2.5" fill="#5602a3"/>
<circle cx="531.50" cy="679.73" r="2.5" fill="#46049e"/>
<circle cx="523.14" cy="702.16" r="2.5" fill="#48039f"/>
<circle cx="528.27" cy="690.81" r="2.5" fill="#5302a2"/>
<circle cx="525.39" cy="680.42" r="2.5" fill="#2f0596"/>
<circle cx="529.14" cy="688.33" r="2.5" fill="#380599"/>
<circle cx="530.66" cy="683.39" r="2.5" fill="#5702a3"/>
<circle cx="528.03" cy="680.27" r="2.5" fill="#5502a2"/>
<circle cx="508.71" cy="710.39" r="2.5" fill="#44049e"/>
<circle cx="526.09" cy="695.56" r="2.5" fill="#4e03a0"/>
<circle cx="526.91" cy="693.15" r="2.5" fill="#4c03a0"/>
<circle cx="529.37" cy="685.82" r="2.5" fill="#6c01a8"/>
<circle cx="521.03" cy="682.84" r="2.5" fill="#4f03a1"/>
<circle cx="520.67" cy="704.57" r="2.5" fill="#5802a3"/>
<circle cx="527.84" cy="688.62" r="2.5" fill="#5402a2"/>
<circle cx="527.48" cy="682.86" r="2.5" fill="#42049d"/>
<circle cx="523.70" cy="699.56" r="2.5" fill="#2b0694"/>
<circle cx="511.13" cy="688.57" r="2.5" fill="#4f03a1"/>
<circle cx="516.12" cy="708.04" r="2.5" fill="#8f0da4"/>
<circle cx="510.57" cy="709.68" r="2.5" fill="#5402a2"/>
<circle cx="524.21" cy="683.82" r="2.5" fill="#6f02a7"/>
<circle cx="516.35" cy="685.85" r="2.5" fill="#6d01a8"/>
<circle cx="504.73" cy="699.85" r="2.5" fill="#8b0ca4"/>
<circle cx="522.68" cy="684.90" r="2.5" fill="#6500a7"/>
<circle cx="524.82" cy="685.72" r="2.5" fill="#5602a3"/>
<circle cx="504.60" cy="702.15" r="2.5" fill="#46039e"/>
<circle cx="525.26" cy="691.47" r="2.5" fill="#920fa2"/>
<circle cx="506.77" cy="707.06" r="2.5" fill="#870aa5"/>
<circle cx="524.73" cy="693.56" r="2.5" fill="#4f03a1"/>
<circle cx="505.66" cy="705.11" r="2.5" fill="#8209a5"/>
<circle cx="518.63" cy="704.78" r="2.5" fill="#7102a7"/>
<circle cx="514.70" cy="687.62" r="2.5" fill="#8008a6"/>
<circle cx="520.03" cy="686.18" r="2.5" fill="#7805a6"/>
<circle cx="508.34" cy="693.69" r="2.5" fill="#9613a0"/>
<circle cx="523.22" cy="688.54" r="2.5" fill="#b12a90"/>
<circle cx="510.27" cy="707.41" r="2.5" fill="#a01b9a"/>
<circle cx="510.71" cy="691.51" r="2.5" fill="#a62097"/>
<circle cx="507.15" cy="696.87" r="2.5" fill="#aa2494"/>
<circle cx="507.47" cy="704.92" r="2.5" fill="#a92395"/>
<circle cx="520.82" cy="688.64" r="2.5" fill="#aa2494"/>
<circle cx="506.49" cy="700.89" r="2.5" fill="#bd3786"/>
<circle cx="518.20" cy="688.47" r="2.5" fill="#c8437b"/>
<circle cx="512.99" cy="706.45" r="2.5" fill="#be3885"/>
<circle cx="521.74" cy="690.32" r="2.5" fill="#b93389"/>
<circle cx="521.74" cy="697.05" r="2.5" fill="#c33d80"/>
<circle cx="519.44" cy="701.45" r="2.5" fill="#c7427c"/>
<circle cx="521.69" cy="694.51" r="2.5" fill="#cb4678"/>
<circle cx="508.98" cy="695.52" r="2.5" fill="#c03a83"/>
<circle cx="515.23" cy="690.16" r="2.5" fill="#d35170"/>
<circle cx="520.09" cy="699.37" r="2.5" fill="#bc3686"/>
<circle cx="513.18" cy="691.40" r="2.5" fill="#d6556e"/>
<circle cx="511.22" cy="693.21" r="2.5" fill="#ca457a"/>
<circle cx="513.79" cy="704.76" r="2.5" fill="#cf4b75"/>
<circle cx="511.86" cy="704.97" r="2.5" fill="#d9596a"/>
<circle cx="508.62" cy="698.92" r="2.5" fill="#da5b69"/>
<circle cx="518.56" cy="691.73" r="2.5" fill="#e77059"/>
<circle cx="509.32" cy="702.05" r="2.5" fill="#ee7d50"/>
<circle cx="514.46" cy="693.28" r="2.5" fill="#f8983f"/>
<circle cx="517.61" cy="698.91" r="2.5" fill="#fcae33"/>
<circle cx="518.30" cy="696.25" r="2.5" fill="#fcc22a"/>
<circle cx="516.71" cy="693.52" r="2.5" fill="#fcab34"/>
<circle cx="515.68" cy="701.19" r="2.5" fill="#fca536"/>
<circle cx="510.76" cy="698.27" r="2.5" fill="#fcba2d"/>
<circle cx="512.18" cy="701.28" r="2.5" fill="#fccf25"/>
<circle cx="512.82" cy="696.34" r="2.5" fill="#fcba2d"/>
<circle cx="516.26" cy="695.78" r="2.5" fill="#f8dc24"/>
<circle cx="515.07" cy="698.51" r="2.5" fill="#f7e123"/>
<circle cx="522.88" cy="750.95" r="2.5" fill="#0d0887"/>
<circle cx="530.32" cy="755.92" r="2.5" fill="#0d0887"/>
<circle cx="543.97" cy="749.71" r="2.5" fill="#0d0887"/>
<circle cx="550.55" cy="746.36" r="2.5" fill="#0d0887"/>
<circle cx="554.76" cy="757.16" r="2.5" fill="#0d0887"/>
<circle cx="538.39" cy="757.78" r="2.5" fill="#0d0887"/>
<circle cx="546.45" cy="757.16" r="2.5" fill="#0d0887"/>
<circle cx="549.55" cy="760.51" r="2.5" fill="#0d0887"/>
<circle cx="548.93" cy="764.60" r="2.5" fill="#0d0887"/>
<circle cx="518.54" cy="762.12" r="2.5" fill="#0d0887"/>
<circle cx="545.83" cy="774.53" r="2.5" fill="#0d0887"/>
<circle cx="532.18" cy="789.41" r="2.5" fill="#0d0887"/>
<circle cx="516.67" cy="801.45" r="2.5" fill="#0d0887"/>
<circle cx="497.44" cy="787.80" r="2.5" fill="#0d0887"/>
<circle cx="499.93" cy="781.35" r="2.5" fill="#0d0887"/>
<circle cx="548.20" cy="768.05" r="2.5" fill="#2c0694"/>
<circle cx="530.49" cy="757.63" r="2.5" fill="#270692"/>
<circle cx="507.40" cy="772.31" r="2.5" fill="#0d0887"/>
<circle cx="501.10" cy="803.43" r="2.5" fill="#0d0887"/>
<circle cx="533.94" cy="781.30" r="2.5" fill="#0d0887"/>
<circle cx="503.07" cy="803.47" r="2.5" fill="#1f078e"/>
<circle cx="538.52" cy="776.59" r="2.5" fill="#0d0887"/>
<circle cx="544.62" cy="755.92" r="2.5" fill="#0d0887"/>
<circle cx="521.73" cy="764.80" r="2.5" fill="#0d0887"/>
<circle cx="502.06" cy="778.00" r="2.5" fill="#0d0887"/>
<circle cx="542.86" cy="755.93" r="2.5" fill="#220690"/>
<circle cx="548.21" cy="762.70" r="2.5" fill="#0d0887"/>
<circle cx="536.21" cy="777.54" r="2.5" fill="#230690"/>
<circle cx="539.19" cy="756.38" r="2.5" fill="#14078a"/>
<circle cx="527.25" cy="788.65" r="2.5" fill="#16078b"/>
<circle cx="513.02" cy="770.40" r="2.5" fill="#0d0887"/>
<circle cx="495.76" cy="789.36" r="2.5" fill="#0d0887"/>
<circle cx="527.81" cy="761.62" r="2.5" fill="#4c03a0"/>
<circle cx="543.71" cy="769.55" r="2.5" fill="#2d0694"/>
<circle cx="546.36" cy="764.53" r="2.5" fill="#0d0887"/>
<circle cx="532.42" cy="759.40" r="2.5" fill="#13088a"/>
<circle cx="529.21" cy="761.55" r="2.5" fill="#14078a"/>
<circle cx="498.88" cy="783.61" r="2.5" fill="#0d0887"/>
<circle cx="545.85" cy="761.42" r="2.5" fill="#220690"/>
<circle cx="524.52" cy="764.82" r="2.5" fill="#0d0887"/>
<circle cx="515.73" cy="769.99" r="2.5" fill="#0e0887"/>
<circle cx="520.80" cy="794.70" r="2.5" fill="#0d0887"/>
<circle cx="541.54" cy="758.91" r="2.5" fill="#0d0887"/>
<circle cx="507.77" cy="774.91" r="2.5" fill="#0d0887"/>
<circle cx="521.67" cy="767.14" r="2.5" fill="#46039e"/>
<circle cx="543.21" cy="767.47" r="2.5" fill="#0d0887"/>
<circle cx="534.50" cy="759.89" r="2.5" fill="#110889"/>
<circle cx="518.35" cy="796.31" r="2.5" fill="#2b0694"/>
<circle cx="543.49" cy="760.11" r="2.5" fill="#14078a"/>
<circle cx="539.03" cy="772.46" r="2.5" fill="#240691"/>
<circle cx="535.17" cy="775.67" r="2.5" fill="#2b0694"/>
<circle cx="496.93" cy="791.21" r="2.5" fill="#19078c"/>
<circle cx="498.12" cy="786.61" r="2.5" fill="#14078a"/>
<circle cx="501.18" cy="781.56" r="2.5" fill="#0d0887"/>
<circle cx="512.28" cy="799.30" r="2.5" fill="#0d0887"/>
<circle cx="543.60" cy="764.45" r="2.5" fill="#0d0887"/>
<circle cx="523.35" cy="766.71" r="2.5" fill="#380599"/>
<circle cx="540.83" cy="769.47" r="2.5" fill="#1d078e"/>
<circle cx="532.19" cy="778.00" r="2.5" fill="#3f049c"/>
<circle cx="537.07" cy="760.29" r="2.5" fill="#20078f"/>
<circle cx="522.94" cy="791.37" r="2.5" fill="#380599"/>
<circle cx="505.49" cy="800.17" r="2.5" fill="#0d0887"/>
<circle cx="527.91" cy="783.60" r="2.5" fill="#0d0887"/>
<circle cx="538.40" cy="771.23" r="2.5" fill="#21068f"/>
<circle cx="542.02" cy="763.10" r="2.5" fill="#1e078e"/>
<circle cx="536.99" cy="772.55" r="2.5" fill="#350598"/>
<circle cx="502.29" cy="799.18" r="2.5" fill="#0d0887"/>
<circle cx="518.43" cy="795.16" r="2.5" fill="#0d0887"/>
<circle cx="498.58" cy="795.39" r="2.5" fill="#120889"/>
<circle cx="515.51" cy="796.98" r="2.5" fill="#2a0693"/>
<circle cx="540.18" cy="767.91" r="2.5" fill="#1a078d"/>
<circle cx="499.76" cy="796.83" r="2.5" fill="#100888"/>
<circle cx="524.02" cy="789.15" r="2.5" fill="#0d0887"/>
<circle cx="528.05" cy="765.29" r="2.5" fill="#18078b"/>
<circle cx="504.65" cy="778.92" r="2.5" fill="#340598"/>
<circle cx="534.07" cy="762.48" r="2.5" fill="#220690"/>
<circle cx="508.36" cy="799.33" r="2.5" fill="#0d0887"/>
<circle cx="538.84" cy="762.35" r="2.5" fill="#20078f"/>
<circle cx="536.99" cy="762.12" r="2.5" fill="#4b03a0"/>
<circle cx="520.12" cy="770.08" r="2.5" fill="#260691"/>
<circle cx="502.77" cy="781.30" r="2.5" fill="#4c03a0"/>
<circle cx="540.02" cy="764.80" r="2.5" fill="#18078c"/>
<circle cx="530.07" cy="778.27" r="2.5" fill="#230690"/>
<circle cx="512.35" cy="797.96" r="2.5" fill="#5c01a4"/>
<circle cx="532.50" cy="774.97" r="2.5" fill="#16078b"/>
<circle cx="514.56" cy="772.90" r="2.5" fill="#270692"/>
<circle cx="500.27" cy="785.74" r="2.5" fill="#2c0694"/>
<circle cx="527.69" cy="781.55" r="2.5" fill="#40049c"/>
<circle cx="525.03" cy="786.40" r="2.5" fill="#2f0596"/>
<circle cx="526.39" cy="767.89" r="2.5" fill="#5d01a5"/>
<circle cx="533.26" cy="773.13" r="2.5" fill="#5202a2"/>
<circle cx="534.26" cy="764.53" r="2.5" fill="#4e03a0"/>
<circle cx="510.87" cy="775.22" r="2.5" fill="#44049e"/>
<circle cx="536.97" cy="765.38" r="2.5" fill="#4c03a0"/>
<circle cx="522.71" cy="770.13" r="2.5" fill="#100888"/>
<circle cx="532.33" cy="765.42" r="2.5" fill="#45049e"/>
<circle cx="516.88" cy="772.50" r="2.5" fill="#1b078d"/>
<circle cx="534.83" cy="770.89" r="2.5" fill="#340598"/>
<circle cx="536.53" cy="768.40" r="2.5" fill="#5a02a4"/>
<circle cx="499.47" cy="789.92" r="2.5" fill="#4f03a1"/>
<circle cx="533.60" cy="767.42" r="2.5" fill="#2d0695"/>
<circle cx="499.99" cy="792.54" r="2.5" fill="#4b03a0"/>
<circle cx="530.69" cy="773.49" r="2.5" fill="#49039f"/>
<circle cx="530.61" cy="768.41" r="2.5" fill="#5b01a4"/>
<circle cx="512.20" cy="775.27" r="2.5" fill="#48039f"/>
<circle cx="532.21" cy="770.17" r="2.5" fill="#2f0595"/>
<circle cx="508.33" cy="777.81" r="2.5" fill="#5e01a5"/>
<circle cx="506.10" cy="797.49" r="2.5" fill="#1e078e"/>
<circle cx="528.23" cy="775.93" r="2.5" fill="#4f03a1"/>
<circle cx="526.87" cy="779.33" r="2.5" fill="#44049e"/>
<circle cx="526.10" cy="771.03" r="2.5" fill="#46049e"/>
<circle cx="519.24" cy="792.00" r="2.5" fill="#6f02a8"/>
<circle cx="528.61" cy="771.08" r="2.5" fill="#3c049b"/>
<circle cx="504.29" cy="796.72" r="2.5" fill="#45049e"/>
<circle cx="502.58" cy="784.61" r="2.5" fill="#6001a5"/>
<circle cx="522.91" cy="786.96" r="2.5" fill="#240691"/>
<circle cx="520.82" cy="773.24" r="2.5" fill="#40049d"/>
<circle cx="526.45" cy="773.72" r="2.5" fill="#6e01a8"/>
<circle cx="509.26" cy="796.59" r="2.5" fill="#5f01a5"/>
<circle cx="526.23" cy="776.30" r="2.5" fill="#6001a5"/>
<circle cx="502.11" cy="793.95" r="2.5" fill="#8309a5"/>
<circle cx="520.13" cy="790.08" r="2.5" fill="#43049e"/>
<circle cx="523.03" cy="773.81" r="2.5" fill="#6900a8"/>
<circle cx="501.65" cy="788.57" r="2.5" fill="#6001a5"/>
<circle cx="506.12" cy="781.15" r="2.5" fill="#7102a7"/>
<circle cx="504.43" cy="783.17" r="2.5" fill="#5802a3"/>
<circle cx="524.53" cy="780.65" r="2.5" fill="#49039f"/>
<circle cx="523.72" cy="783.13" r="2.5" fill="#7002a7"/>
<circle cx="514.84" cy="793.71" r="2.5" fill="#5c01a4"/>
<circle cx="512.14" cy="794.95" r="2.5" fill="#6f02a7"/>
<circle cx="504.31" cy="794.55" r="2.5" fill="#5e01a5"/>
<circle cx="519.38" cy="775.11" r="2.5" fill="#8409a5"/>
<circle cx="521.77" cy="775.26" r="2.5" fill="#7303a7"/>
<circle cx="523.91" cy="778.62" r="2.5" fill="#9411a1"/>
<circle cx="517.00" cy="775.88" r="2.5" fill="#9e1a9b"/>
<circle cx="503.05" cy="790.95" r="2.5" fill="#7f07a6"/>
<circle cx="503.98" cy="786.91" r="2.5" fill="#8b0ca4"/>
<circle cx="522.55" cy="780.17" r="2.5" fill="#9c189c"/>
<circle cx="511.74" cy="778.81" r="2.5" fill="#b12a90"/>
<circle cx="508.18" cy="794.23" r="2.5" fill="#b52f8c"/>
<circle cx="521.60" cy="778.91" r="2.5" fill="#a72296"/>
<circle cx="517.93" cy="789.56" r="2.5" fill="#b12a90"/>
<circle cx="515.32" cy="791.75" r="2.5" fill="#ba3488"/>
<circle cx="519.96" cy="786.07" r="2.5" fill="#c03a83"/>
<circle cx="518.40" cy="778.24" r="2.5" fill="#b42d8e"/>
<circle cx="506.97" cy="792.63" r="2.5" fill="#cb4679"/>
<circle cx="506.08" cy="785.70" r="2.5" fill="#d6556e"/>
<circle cx="514.47" cy="779.09" r="2.5" fill="#c13c81"/>
<circle cx="512.32" cy="792.07" r="2.5" fill="#d45270"/>
<circle cx="509.89" cy="781.67" r="2.5" fill="#d95a6a"/>
<circle cx="519.86" cy="783.38" r="2.5" fill="#d14e73"/>
<circle cx="505.74" cy="789.50" r="2.5" fill="#d35071"/>
<circle cx="519.11" cy="780.78" r="2.5" fill="#dd5f66"/>
<circle cx="507.64" cy="784.74" r="2.5" fill="#e3695f"/>
<circle cx="509.58" cy="791.45" r="2.5" fill="#ea7556"/>
<circle cx="512.93" cy="781.35" r="2.5" fill="#ee7d50"/>
<circle cx="517.75" cy="784.13" r="2.5" fill="#f48a47"/>
<circle cx="516.36" cy="781.80" r="2.5" fill="#fcae33"/>
<circle cx="513.63" cy="789.26" r="2.5" fill="#f48b47"/>
<circle cx="508.54" cy="789.22" r="2.5" fill="#f99d3b"/>
<circle cx="508.93" cy="786.08" r="2.5" fill="#f38948"/>
<circle cx="512.42" cy="789.48" r="2.5" fill="#fcb82e"/>
<circle cx="511.65" cy="783.71" r="2.5" fill="#fba437"/>
<circle cx="515.19" cy="785.97" r="2.5" fill="#f7df23"/>
<circle cx="514.66" cy="783.69" r="2.5" fill="#f2f122"/>
<circle cx="512.59" cy="785.75" r="2.5" fill="#f0f821"/>
<circle cx="625.87" cy="745.99" r="2.5" fill="#0d0887"/>
<circle cx="636.41" cy="749.71" r="2.5" fill="#0d0887"/>
<circle cx="653.16" cy="746.36" r="2.5" fill="#0d0887"/>
<circle cx="655.89" cy="757.16" r="2.5" fill="#0d0887"/>
<circle cx="626.49" cy="750.95" r="2.5" fill="#0d0887"/>
<circle cx="646.34" cy="765.22" r="2.5" fill="#0d0887"/>
<circle cx="649.44" cy="770.80" r="2.5" fill="#0d0887"/>
<circle cx="640.76" cy="776.39" r="2.5" fill="#0d0887"/>
<circle cx="631.45" cy="787.55" r="2.5" fill="#0d0887"/>
<circle cx="645.10" cy="798.47" r="2.5" fill="#0d0887"/>
<circle cx="599.81" cy="801.82" r="2.5" fill="#0d0887"/>
<circle cx="589.89" cy="778.25" r="2.5" fill="#0d0887"/>
<circle cx="595.47" cy="770.80" r="2.5" fill="#0d0887"/>
<circle cx="599.19" cy="765.22" r="2.5" fill="#0d0887"/>
<circle cx="606.64" cy="760.26" r="2.5" fill="#0d0887"/>
<circle cx="617.18" cy="755.30" r="2.5" fill="#0d0887"/>
<circle cx="590.40" cy="777.71" r="2.5" fill="#0f0888"/>
<circle cx="601.03" cy="802.31" r="2.5" fill="#19078c"/>
<circle cx="585.76" cy="797.07" r="2.5" fill="#0d0887"/>
<circle cx="614.07" cy="759.07" r="2.5" fill="#1f078f"/>
<circle cx="640.07" cy="757.43" r="2.5" fill="#1d078e"/>
<circle cx="587.62" cy="784.06" r="2.5" fill="#0d0887"/>
<circle cx="627.05" cy="753.84" r="2.5" fill="#210690"/>
<circle cx="606.31" cy="799.61" r="2.5" fill="#18078c"/>
<circle cx="590.03" cy="799.82" r="2.5" fill="#0d0887"/>
<circle cx="616.35" cy="792.26" r="2.5" fill="#0d0887"/>
<circle cx="613.12" cy="794.95" r="2.5" fill="#0d0887"/>
<circle cx="638.51" cy="758.82" r="2.5" fill="#0d0887"/>
<circle cx="634.56" cy="754.98" r="2.5" fill="#0d0887"/>
<circle cx="630.10" cy="754.62" r="2.5" fill="#1c078d"/>
<circle cx="635.22" cy="769.26" r="2.5" fill="#280693"/>
<circle cx="633.32" cy="754.87" r="2.5" fill="#340597"/>
<circle cx="612.93" cy="761.68" r="2.5" fill="#0d0887"/>
<circle cx="628.17" cy="777.47" r="2.5" fill="#100888"/>
<circle cx="636.38" cy="757.01" r="2.5" fill="#0d0887"/>
<circle cx="637.48" cy="762.37" r="2.5" fill="#0d0887"/>
<circle cx="587.26" cy="789.10" r="2.5" fill="#0d0887"/>
<circle cx="609.80" cy="796.70" r="2.5" fill="#0d0887"/>
<circle cx="593.26" cy="800.05" r="2.5" fill="#0d0887"/>
<circle cx="636.43" cy="765.19" r="2.5" fill="#0d0887"/>
<circle cx="618.32" cy="789.39" r="2.5" fill="#0d0887"/>
<circle cx="616.37" cy="760.33" r="2.5" fill="#2d0694"/>
<circle cx="634.74" cy="757.13" r="2.5" fill="#220690"/>
<circle cx="602.30" cy="770.00" r="2.5" fill="#0d0887"/>
<circle cx="620.42" cy="786.18" r="2.5" fill="#0d0887"/>
<circle cx="635.29" cy="759.49" r="2.5" fill="#16078b"/>
<circle cx="597.03" cy="799.99" r="2.5" fill="#1a078c"/>
<circle cx="630.57" cy="772.73" r="2.5" fill="#0d0887"/>
<circle cx="628.10" cy="756.89" r="2.5" fill="#19078c"/>
<circle cx="623.76" cy="781.47" r="2.5" fill="#4c03a0"/>
<circle cx="632.08" cy="770.59" r="2.5" fill="#0d0887"/>
<circle cx="616.10" cy="761.41" r="2.5" fill="#41049d"/>
<circle cx="631.71" cy="757.45" r="2.5" fill="#17078b"/>
<circle cx="634.04" cy="767.09" r="2.5" fill="#17078b"/>
<circle cx="593.46" cy="778.62" r="2.5" fill="#0d0887"/>
<circle cx="609.90" cy="765.52" r="2.5" fill="#0d0887"/>
<circle cx="621.68" cy="783.72" r="2.5" fill="#310596"/>
<circle cx="620.43" cy="759.86" r="2.5" fill="#0d0887"/>
<circle cx="608.34" cy="796.45" r="2.5" fill="#0d0887"/>
<circle cx="589.26" cy="786.14" r="2.5" fill="#46039e"/>
<circle cx="634.48" cy="762.35" r="2.5" fill="#2a0693"/>
<circle cx="610.12" cy="795.36" r="2.5" fill="#0d0887"/>
<circle cx="591.63" cy="781.54" r="2.5" fill="#0d0887"/>
<circle cx="606.79" cy="767.87" r="2.5" fill="#13088a"/>
<circle cx="599.94" cy="799.23" r="2.5" fill="#15078b"/>
<circle cx="588.64" cy="792.29" r="2.5" fill="#1c078d"/>
<circle cx="592.76" cy="798.17" r="2.5" fill="#0d0887"/>
<circle cx="625.52" cy="758.77" r="2.5" fill="#0d0887"/>
<circle cx="631.79" cy="759.77" r="2.5" fill="#14078a"/>
<circle cx="624.85" cy="777.78" r="2.5" fill="#2d0695"/>
<circle cx="626.65" cy="775.21" r="2.5" fill="#260692"/>
<circle cx="614.30" cy="764.15" r="2.5" fill="#5e01a5"/>
<circle cx="623.72" cy="760.03" r="2.5" fill="#0d0887"/>
<circle cx="629.24" cy="759.75" r="2.5" fill="#2a0693"/>
<circle cx="591.51" cy="783.00" r="2.5" fill="#370599"/>
<circle cx="631.42" cy="767.22" r="2.5" fill="#4a039f"/>
<circle cx="617.64" cy="762.64" r="2.5" fill="#1f078f"/>
<circle cx="631.92" cy="764.75" r="2.5" fill="#21068f"/>
<circle cx="599.89" cy="773.62" r="2.5" fill="#3a059a"/>
<circle cx="589.70" cy="788.74" r="2.5" fill="#47039f"/>
<circle cx="626.76" cy="773.77" r="2.5" fill="#240691"/>
<circle cx="597.63" cy="775.81" r="2.5" fill="#280692"/>
<circle cx="630.57" cy="762.10" r="2.5" fill="#310596"/>
<circle cx="608.87" cy="767.96" r="2.5" fill="#0d0887"/>
<circle cx="628.88" cy="770.00" r="2.5" fill="#0d0887"/>
<circle cx="613.46" cy="791.58" r="2.5" fill="#0d0887"/>
<circle cx="621.96" cy="761.76" r="2.5" fill="#3d049b"/>
<circle cx="603.86" cy="797.18" r="2.5" fill="#3c049b"/>
<circle cx="591.14" cy="794.67" r="2.5" fill="#1a078d"/>
<circle cx="599.14" cy="797.85" r="2.5" fill="#47039f"/>
<circle cx="601.62" cy="797.55" r="2.5" fill="#39059a"/>
<circle cx="625.50" cy="761.85" r="2.5" fill="#43049d"/>
<circle cx="629.11" cy="764.64" r="2.5" fill="#210690"/>
<circle cx="604.82" cy="771.08" r="2.5" fill="#4d03a0"/>
<circle cx="596.05" cy="797.35" r="2.5" fill="#2c0694"/>
<circle cx="616.19" cy="765.08" r="2.5" fill="#20078f"/>
<circle cx="622.41" cy="778.75" r="2.5" fill="#49039f"/>
<circle cx="626.91" cy="763.07" r="2.5" fill="#42049d"/>
<circle cx="626.93" cy="770.36" r="2.5" fill="#42049d"/>
<circle cx="614.49" cy="789.77" r="2.5" fill="#5502a2"/>
<circle cx="619.94" cy="764.18" r="2.5" fill="#5003a1"/>
<circle cx="626.51" cy="763.97" r="2.5" fill="#4d03a0"/>
<circle cx="617.78" cy="785.65" r="2.5" fill="#4c03a0"/>
<circle cx="594.75" cy="780.43" r="2.5" fill="#5d01a4"/>
<circle cx="626.80" cy="768.22" r="2.5" fill="#270692"/>
<circle cx="597.28" cy="777.68" r="2.5" fill="#0d0887"/>
<circle cx="619.01" cy="783.46" r="2.5" fill="#270692"/>
<circle cx="624.77" cy="772.41" r="2.5" fill="#3f049c"/>
<circle cx="622.56" cy="776.55" r="2.5" fill="#5402a2"/>
<circle cx="623.64" cy="765.15" r="2.5" fill="#5602a3"/>
<circle cx="591.79" cy="786.98" r="2.5" fill="#5402a2"/>
<circle cx="615.77" cy="766.88" r="2.5" fill="#2b0694"/>
<circle cx="593.49" cy="783.03" r="2.5" fill="#40049d"/>
<circle cx="612.65" cy="768.32" r="2.5" fill="#3b049b"/>
<circle cx="593.71" cy="794.72" r="2.5" fill="#6001a5"/>
<circle cx="624.71" cy="768.14" r="2.5" fill="#5202a2"/>
<circle cx="602.82" cy="773.84" r="2.5" fill="#5a02a4"/>
<circle cx="607.87" cy="770.93" r="2.5" fill="#5402a2"/>
<circle cx="621.81" cy="767.21" r="2.5" fill="#6900a8"/>
<circle cx="601.22" cy="775.19" r="2.5" fill="#2f0595"/>
<circle cx="619.20" cy="781.09" r="2.5" fill="#47039f"/>
<circle cx="593.07" cy="792.68" r="2.5" fill="#46039e"/>
<circle cx="622.54" cy="769.55" r="2.5" fill="#48039f"/>
<circle cx="621.70" cy="773.93" r="2.5" fill="#41049d"/>
<circle cx="606.45" cy="794.00" r="2.5" fill="#6600a7"/>
<circle cx="619.24" cy="768.33" r="2.5" fill="#5602a3"/>
<circle cx="614.28" cy="769.66" r="2.5" fill="#5702a3"/>
<circle cx="619.60" cy="769.76" r="2.5" fill="#6d01a8"/>
<circle cx="611.40" cy="770.73" r="2.5" fill="#6e02a8"/>
<circle cx="609.98" cy="791.34" r="2.5" fill="#7f07a6"/>
<circle cx="602.77" cy="794.76" r="2.5" fill="#5d01a5"/>
<circle cx="619.76" cy="775.85" r="2.5" fill="#7d07a6"/>
<circle cx="606.03" cy="773.35" r="2.5" fill="#7303a7"/>
<circle cx="616.45" cy="771.12" r="2.5" fill="#7f07a6"/>
<circle cx="600.38" cy="794.53" r="2.5" fill="#7805a6"/>
<circle cx="618.84" cy="773.41" r="2.5" fill="#7c06a6"/>
<circle cx="593.91" cy="788.56" r="2.5" fill="#6d01a8"/>
<circle cx="611.68" cy="789.19" r="2.5" fill="#880aa5"/>
<circle cx="616.89" cy="781.94" r="2.5" fill="#8c0ca4"/>
<circle cx="600.84" cy="777.60" r="2.5" fill="#7103a7"/>
<circle cx="617.74" cy="778.89" r="2.5" fill="#890ba5"/>
<circle cx="615.35" cy="772.05" r="2.5" fill="#7d07a6"/>
<circle cx="597.70" cy="793.57" r="2.5" fill="#7403a7"/>
<circle cx="614.08" cy="785.97" r="2.5" fill="#7d07a6"/>
<circle cx="595.87" cy="791.98" r="2.5" fill="#8a0ba5"/>
<circle cx="617.26" cy="774.81" r="2.5" fill="#7303a7"/>
<circle cx="611.44" cy="772.86" r="2.5" fill="#a52097"/>
<circle cx="597.88" cy="781.28" r="2.5" fill="#8e0ca4"/>
<circle cx="608.33" cy="790.93" r="2.5" fill="#b02991"/>
<circle cx="615.31" cy="783.29" r="2.5" fill="#9613a0"/>
<circle cx="608.79" cy="773.95" r="2.5" fill="#8c0ca4"/>
<circle cx="598.13" cy="792.75" r="2.5" fill="#7604a7"/>
<circle cx="595.63" cy="786.98" r="2.5" fill="#a92395"/>
<circle cx="607.52" cy="774.90" r="2.5" fill="#a01c9a"/>
<circle cx="597.48" cy="782.89" r="2.5" fill="#9d199c"/>
<circle cx="616.10" cy="778.66" r="2.5" fill="#ae2892"/>
<circle cx="604.84" cy="776.54" r="2.5" fill="#a62196"/>
<circle cx="603.05" cy="777.70" r="2.5" fill="#a82296"/>
<circle cx="610.72" cy="774.78" r="2.5" fill="#ba3388"/>
<circle cx="608.54" cy="789.39" r="2.5" fill="#a82395"/>
<circle cx="604.39" cy="791.36" r="2.5" fill="#b42d8d"/>
<circle cx="597.22" cy="788.28" r="2.5" fill="#d8586b"/>
<circle cx="601.45" cy="791.53" r="2.5" fill="#bc3686"/>
<circle cx="613.26" cy="776.61" r="2.5" fill="#bf3a83"/>
<circle cx="613.59" cy="780.07" r="2.5" fill="#d6556d"/>
<circle cx="599.17" cy="789.84" r="2.5" fill="#df6164"/>
<circle cx="610.49" cy="785.87" r="2.5" fill="#d14e72"/>
<circle cx="612.58" cy="779.15" r="2.5" fill="#e56c5d"/>
<circle cx="601.70" cy="781.01" r="2.5" fill="#eb7755"/>
<circle cx="599.89" cy="783.46" r="2.5" fill="#e56c5c"/>
<circle cx="606.91" cy="778.05" r="2.5" fill="#e26561"/>
<circle cx="598.96" cy="786.86" r="2.5" fill="#f38749"/>
<circle cx="611.49" cy="783.38" r="2.5" fill="#e46a5e"/>
<circle cx="608.78" cy="778.17" r="2.5" fill="#e97357"/>
<circle cx="611.66" cy="781.46" r="2.5" fill="#f8973f"/>
<circle cx="603.53" cy="789.29" r="2.5" fill="#e46a5e"/>
<circle cx="605.18" cy="788.15" r="2.5" fill="#f2854a"/>
<circle cx="606.88" cy="787.10" r="2.5" fill="#f48948"/>
<circle cx="603.68" cy="781.24" r="2.5" fill="#f99b3d"/>
<circle cx="602.34" cy="782.85" r="2.5" fill="#fcad33"/>
<circle cx="609.43" cy="783.79" r="2.5" fill="#fcc22a"/>
<circle cx="607.74" cy="780.07" r="2.5" fill="#fcb92e"/>
<circle cx="602.06" cy="785.84" r="2.5" fill="#f6e523"/>
<circle cx="603.68" cy="786.68" r="2.5" fill="#fcbf2b"/>
<circle cx="606.85" cy="782.96" r="2.5" fill="#f0f921"/>
<path d="M407.3,561.5 L487.6,561.5 L487.6,641.5 L407.3,641.5 Z" fill="none" stroke="#858585" stroke-width="1.35"/>
<path d="M407.3,645.4 L487.6,645.4 L487.6,725.6 L407.3,725.6 Z" fill="none" stroke="#858585" stroke-width="1.35"/>
<path d="M407.3,730.1 L487.6,730.1 L487.6,810.0 L407.3,810.0 Z" fill="none" stroke="#858585" stroke-width="1.35"/>
<path d="M492.0,645.4 L573.3,645.4 L573.3,725.5 L492.0,725.5 Z" fill="none" stroke="#858585" stroke-width="1.35"/>
<path d="M492.0,730.1 L573.3,730.1 L573.3,810.0 L492.0,810.0 Z" fill="none" stroke="#858585" stroke-width="1.35"/>
<path d="M577.3,730.1 L658.9,730.1 L658.9,810.4 L577.3,810.4 Z" fill="none" stroke="#858585" stroke-width="1.35"/>
<text x="409.60" y="571.40" font-size="10.8" textLength="32.7" lengthAdjust="spacingAndGlyphs"><tspan font-style="italic">r</tspan> = 0.68</text>
<text x="409.60" y="655.40" font-size="10.8" textLength="26.3" lengthAdjust="spacingAndGlyphs"><tspan font-style="italic">r</tspan> = 0.8</text>
<text x="409.60" y="740.00" font-size="10.8" textLength="30.5" lengthAdjust="spacingAndGlyphs"><tspan font-style="italic">r</tspan> = 0.61</text>
<text x="494.60" y="740.00" font-size="10.8" textLength="29.8" lengthAdjust="spacingAndGlyphs"><tspan font-style="italic">r</tspan> = 0.71</text>
<text x="581.90" y="740.20" font-size="10.8" textLength="31.8" lengthAdjust="spacingAndGlyphs"><tspan font-style="italic">r</tspan> = 0.64</text>
<text x="569.80" y="722.30" font-size="10.8" textLength="31.6" lengthAdjust="spacingAndGlyphs" text-anchor="end"><tspan font-style="italic">r</tspan> = 0.59</text>
<line x1="402.80" y1="570.50" x2="407.30" y2="570.50" stroke="#6e6e6e" stroke-width="1"/>
<text x="395.10" y="573.90" font-size="9.5" text-anchor="middle" fill="#333">2</text>
<line x1="402.80" y1="614.90" x2="407.30" y2="614.90" stroke="#6e6e6e" stroke-width="1"/>
<text x="395.10" y="618.30" font-size="9.5" text-anchor="middle" fill="#333">1</text>
<line x1="402.80" y1="654.40" x2="407.30" y2="654.40" stroke="#6e6e6e" stroke-width="1"/>
<text x="395.10" y="657.80" font-size="9.5" text-anchor="middle" fill="#333">2</text>
<line x1="402.80" y1="698.80" x2="407.30" y2="698.80" stroke="#6e6e6e" stroke-width="1"/>
<text x="395.10" y="702.20" font-size="9.5" text-anchor="middle" fill="#333">1</text>
<line x1="402.80" y1="739.10" x2="407.30" y2="739.10" stroke="#6e6e6e" stroke-width="1"/>
<text x="395.10" y="742.50" font-size="9.5" text-anchor="middle" fill="#333">2</text>
<line x1="402.80" y1="783.50" x2="407.30" y2="783.50" stroke="#6e6e6e" stroke-width="1"/>
<text x="395.10" y="786.90" font-size="9.5" text-anchor="middle" fill="#333">1</text>
<line x1="434.06" y1="810.00" x2="434.06" y2="814.50" stroke="#6e6e6e" stroke-width="1"/>
<text x="434.06" y="826.00" font-size="9.5" text-anchor="middle" fill="#333">1</text>
<line x1="478.66" y1="810.00" x2="478.66" y2="814.50" stroke="#6e6e6e" stroke-width="1"/>
<text x="478.66" y="826.00" font-size="9.5" text-anchor="middle" fill="#333">2</text>
<line x1="518.76" y1="810.00" x2="518.76" y2="814.50" stroke="#6e6e6e" stroke-width="1"/>
<text x="518.76" y="826.00" font-size="9.5" text-anchor="middle" fill="#333">1</text>
<line x1="563.36" y1="810.00" x2="563.36" y2="814.50" stroke="#6e6e6e" stroke-width="1"/>
<text x="563.36" y="826.00" font-size="9.5" text-anchor="middle" fill="#333">2</text>
<line x1="604.06" y1="810.40" x2="604.06" y2="814.90" stroke="#6e6e6e" stroke-width="1"/>
<text x="604.06" y="826.00" font-size="9.5" text-anchor="middle" fill="#333">1</text>
<line x1="648.66" y1="810.40" x2="648.66" y2="814.90" stroke="#6e6e6e" stroke-width="1"/>
<text x="648.66" y="826.00" font-size="9.5" text-anchor="middle" fill="#333">2</text>
<rect x="431.80" y="541.20" width="32.00" height="17.50" fill="#c8c8c8"/>
<text x="447.80" y="553.55" font-size="10" text-anchor="middle">250</text>
<rect x="516.20" y="625.20" width="32.70" height="17.50" fill="#8f88ee"/>
<text x="532.55" y="637.55" font-size="10" text-anchor="middle">500</text>
<rect x="601.00" y="710.00" width="33.80" height="17.70" fill="#92cdea"/>
<text x="617.90" y="722.45" font-size="10" text-anchor="middle">1,000</text>
<rect x="490.20" y="584.90" width="18.30" height="32.80" fill="#8f88ee"/>
<text transform="translate(495.75,601.30) rotate(90)" x="0" y="0" font-size="10" text-anchor="middle">500</text>
<rect x="575.60" y="668.90" width="17.50" height="33.70" fill="#92cdea"/>
<text transform="translate(580.75,685.75) rotate(90)" x="0" y="0" font-size="10" text-anchor="middle">1,000</text>
<rect x="661.30" y="752.90" width="17.70" height="33.80" fill="#85d86f"/>
<text transform="translate(666.55,769.80) rotate(90)" x="0" y="0" font-size="10" text-anchor="middle">2,000</text>
<text x="436.80" y="841.60" font-size="10.8" textLength="190.5" lengthAdjust="spacingAndGlyphs">Tile activity (ENTRAP-seq enrichment)</text>
<text x="382.60" y="686.00" font-size="10.8" text-anchor="middle" textLength="190" lengthAdjust="spacingAndGlyphs" transform="rotate(-90 382.60 686.00)">Tile activity (ENTRAP-seq enrichment)</text>
<rect x="627.50" y="556.70" width="8.50" height="130.80" fill="url(#plc)"/>
<line x1="636.00" y1="558.00" x2="640.00" y2="558.00" stroke="#555" stroke-width="1"/>
<text x="644.00" y="561.40" font-size="9.5" fill="#333">1.00</text>
<line x1="636.00" y1="590.20" x2="640.00" y2="590.20" stroke="#555" stroke-width="1"/>
<text x="644.00" y="593.60" font-size="9.5" fill="#333">0.75</text>
<line x1="636.00" y1="622.50" x2="640.00" y2="622.50" stroke="#555" stroke-width="1"/>
<text x="644.00" y="625.90" font-size="9.5" fill="#333">0.50</text>
<line x1="636.00" y1="654.30" x2="640.00" y2="654.30" stroke="#555" stroke-width="1"/>
<text x="644.00" y="657.70" font-size="9.5" fill="#333">0.25</text>
<line x1="636.00" y1="686.50" x2="640.00" y2="686.50" stroke="#555" stroke-width="1"/>
<text x="644.00" y="689.90" font-size="9.5" fill="#333">0</text>
<text x="669.60" y="620.50" font-size="10.5" text-anchor="middle" textLength="57" lengthAdjust="spacingAndGlyphs" transform="rotate(90 669.60 620.50)">Tile density</text>
</svg>
</body></html>
